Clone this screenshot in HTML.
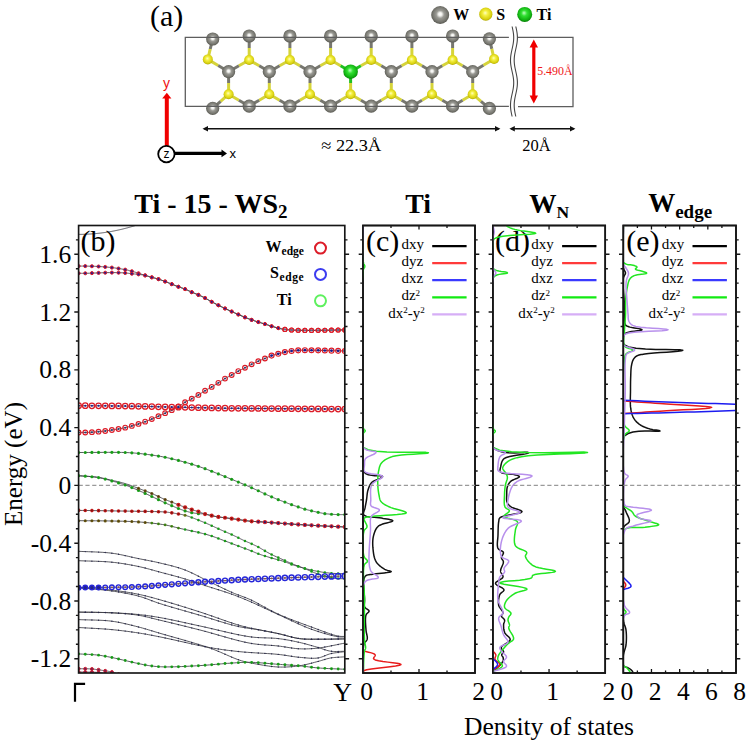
<!DOCTYPE html>
<html><head><meta charset="utf-8"><title>Ti-15-WS2 band structure and DOS</title>
<style>html,body{margin:0;padding:0;background:#fff;}svg{display:block;}</style>
</head><body>
<svg width="749" height="743" viewBox="0 0 749 743">
<defs>
<radialGradient id="gW" cx="50%" cy="48%" r="52%" fx="50%" fy="45%"><stop offset="0" stop-color="#ffffff"/><stop offset="0.18" stop-color="#f0f0ec"/><stop offset="0.42" stop-color="#9a9a94"/><stop offset="0.8" stop-color="#76766f"/><stop offset="1" stop-color="#56564f"/></radialGradient>
<radialGradient id="gS" cx="50%" cy="45%" r="55%" fx="45%" fy="40%"><stop offset="0" stop-color="#ffffc0"/><stop offset="0.35" stop-color="#f4f040"/><stop offset="0.8" stop-color="#d8d010"/><stop offset="1" stop-color="#b0a800"/></radialGradient>
<radialGradient id="gT" cx="50%" cy="45%" r="55%" fx="45%" fy="40%"><stop offset="0" stop-color="#c0ffc0"/><stop offset="0.35" stop-color="#30e030"/><stop offset="0.8" stop-color="#10b010"/><stop offset="1" stop-color="#088008"/></radialGradient>
<clipPath id="cB"><rect x="78.6" y="225.5" width="266.2" height="447.5"/></clipPath><clipPath id="c0"><rect x="363.0" y="225.5" width="112.0" height="447.5"/></clipPath><clipPath id="c1"><rect x="492.9" y="225.5" width="112.3" height="447.5"/></clipPath><clipPath id="c2"><rect x="623.3" y="225.5" width="112.7" height="447.5"/></clipPath></defs>
<rect width="749" height="743" fill="#fff"/>
<text x="150.00" y="26.30" font-family="'Liberation Serif', serif" font-size="30" font-weight="normal" text-anchor="start" fill="#000" >(a)</text>
<path d="M512.10,26.50 L512.32,27.50 L512.54,28.50 L512.75,29.50 L512.95,30.50 L513.13,31.50 L513.29,32.50 L513.43,33.50 L513.54,34.50 L513.62,35.50 L513.68,36.50 L513.70,37.50 L513.69,38.50 L513.65,39.50 L513.58,40.50 L513.49,41.50 L513.36,42.50 L513.21,43.50 L513.04,44.50 L512.85,45.50 L512.65,46.50 L512.43,47.50 L512.21,48.50 L511.99,49.50 L511.77,50.50 L511.55,51.50 L511.35,52.50 L511.16,53.50 L510.99,54.50 L510.84,55.50 L510.71,56.50 L510.62,57.50 L510.55,58.50 L510.51,59.50 L510.50,60.50 L510.52,61.50 L510.58,62.50 L510.66,63.50 L510.77,64.50 L510.91,65.50 L511.07,66.50 L511.25,67.50 L511.45,68.50 L511.66,69.50 L511.88,70.50 L512.10,71.50 L512.32,72.50 L512.54,73.50 L512.75,74.50 L512.95,75.50 L513.13,76.50 L513.29,77.50 L513.43,78.50 L513.54,79.50 L513.62,80.50 L513.68,81.50 L513.70,82.50 L513.69,83.50 L513.65,84.50 L513.58,85.50 L513.49,86.50 L513.36,87.50 L513.21,88.50 L513.04,89.50 L512.85,90.50 L512.65,91.50 L512.43,92.50 L512.21,93.50 L511.99,94.50 L511.77,95.50 L511.55,96.50 L511.35,97.50 L511.16,98.50 L510.99,99.50 L510.84,100.50 L510.71,101.50 L510.62,102.50 L510.55,103.50 L510.51,104.50 L510.50,105.50 L510.52,106.50 L510.58,107.50 L510.66,108.50 L510.77,109.50 L510.91,110.50 L511.07,111.50 L511.25,112.50 L511.45,113.50 L511.66,114.50 L511.88,115.50 L512.10,116.50" fill="none" stroke="#444" stroke-width="1.1"/>
<path d="M515.80,26.50 L516.02,27.50 L516.24,28.50 L516.45,29.50 L516.65,30.50 L516.83,31.50 L516.99,32.50 L517.13,33.50 L517.24,34.50 L517.32,35.50 L517.38,36.50 L517.40,37.50 L517.39,38.50 L517.35,39.50 L517.28,40.50 L517.19,41.50 L517.06,42.50 L516.91,43.50 L516.74,44.50 L516.55,45.50 L516.35,46.50 L516.13,47.50 L515.91,48.50 L515.69,49.50 L515.47,50.50 L515.25,51.50 L515.05,52.50 L514.86,53.50 L514.69,54.50 L514.54,55.50 L514.41,56.50 L514.32,57.50 L514.25,58.50 L514.21,59.50 L514.20,60.50 L514.22,61.50 L514.28,62.50 L514.36,63.50 L514.47,64.50 L514.61,65.50 L514.77,66.50 L514.95,67.50 L515.15,68.50 L515.36,69.50 L515.58,70.50 L515.80,71.50 L516.02,72.50 L516.24,73.50 L516.45,74.50 L516.65,75.50 L516.83,76.50 L516.99,77.50 L517.13,78.50 L517.24,79.50 L517.32,80.50 L517.38,81.50 L517.40,82.50 L517.39,83.50 L517.35,84.50 L517.28,85.50 L517.19,86.50 L517.06,87.50 L516.91,88.50 L516.74,89.50 L516.55,90.50 L516.35,91.50 L516.13,92.50 L515.91,93.50 L515.69,94.50 L515.47,95.50 L515.25,96.50 L515.05,97.50 L514.86,98.50 L514.69,99.50 L514.54,100.50 L514.41,101.50 L514.32,102.50 L514.25,103.50 L514.21,104.50 L514.20,105.50 L514.22,106.50 L514.28,107.50 L514.36,108.50 L514.47,109.50 L514.61,110.50 L514.77,111.50 L514.95,112.50 L515.15,113.50 L515.36,114.50 L515.58,115.50 L515.80,116.50" fill="none" stroke="#444" stroke-width="1.1"/>
<line x1="249.2" y1="36.0" x2="249.2" y2="48.0" stroke="#77776f" stroke-width="3"/>
<line x1="249.2" y1="48.0" x2="249.2" y2="60.0" stroke="#d6d43a" stroke-width="3"/>
<line x1="289.9" y1="36.0" x2="289.9" y2="48.0" stroke="#77776f" stroke-width="3"/>
<line x1="289.9" y1="48.0" x2="289.9" y2="60.0" stroke="#d6d43a" stroke-width="3"/>
<line x1="330.6" y1="36.0" x2="330.6" y2="48.0" stroke="#77776f" stroke-width="3"/>
<line x1="330.6" y1="48.0" x2="330.6" y2="60.0" stroke="#d6d43a" stroke-width="3"/>
<line x1="371.2" y1="36.0" x2="371.2" y2="48.0" stroke="#77776f" stroke-width="3"/>
<line x1="371.2" y1="48.0" x2="371.2" y2="60.0" stroke="#d6d43a" stroke-width="3"/>
<line x1="411.9" y1="36.0" x2="411.9" y2="48.0" stroke="#77776f" stroke-width="3"/>
<line x1="411.9" y1="48.0" x2="411.9" y2="60.0" stroke="#d6d43a" stroke-width="3"/>
<line x1="452.6" y1="36.0" x2="452.6" y2="48.0" stroke="#77776f" stroke-width="3"/>
<line x1="452.6" y1="48.0" x2="452.6" y2="60.0" stroke="#d6d43a" stroke-width="3"/>
<line x1="249.2" y1="60.0" x2="238.9" y2="65.8" stroke="#d6d43a" stroke-width="3"/>
<line x1="238.9" y1="65.8" x2="228.6" y2="71.7" stroke="#77776f" stroke-width="3"/>
<line x1="249.2" y1="60.0" x2="259.2" y2="65.8" stroke="#d6d43a" stroke-width="3"/>
<line x1="259.2" y1="65.8" x2="269.3" y2="71.7" stroke="#77776f" stroke-width="3"/>
<line x1="289.9" y1="60.0" x2="279.6" y2="65.8" stroke="#d6d43a" stroke-width="3"/>
<line x1="279.6" y1="65.8" x2="269.3" y2="71.7" stroke="#77776f" stroke-width="3"/>
<line x1="289.9" y1="60.0" x2="299.9" y2="65.8" stroke="#d6d43a" stroke-width="3"/>
<line x1="299.9" y1="65.8" x2="310.0" y2="71.7" stroke="#77776f" stroke-width="3"/>
<line x1="330.6" y1="60.0" x2="320.3" y2="65.8" stroke="#d6d43a" stroke-width="3"/>
<line x1="320.3" y1="65.8" x2="310.0" y2="71.7" stroke="#77776f" stroke-width="3"/>
<line x1="330.6" y1="60.0" x2="340.6" y2="65.8" stroke="#d6d43a" stroke-width="3"/>
<line x1="340.6" y1="65.8" x2="350.6" y2="71.7" stroke="#20c020" stroke-width="3"/>
<line x1="371.2" y1="60.0" x2="360.9" y2="65.8" stroke="#d6d43a" stroke-width="3"/>
<line x1="360.9" y1="65.8" x2="350.6" y2="71.7" stroke="#20c020" stroke-width="3"/>
<line x1="371.2" y1="60.0" x2="381.3" y2="65.8" stroke="#d6d43a" stroke-width="3"/>
<line x1="381.3" y1="65.8" x2="391.3" y2="71.7" stroke="#77776f" stroke-width="3"/>
<line x1="411.9" y1="60.0" x2="401.6" y2="65.8" stroke="#d6d43a" stroke-width="3"/>
<line x1="401.6" y1="65.8" x2="391.3" y2="71.7" stroke="#77776f" stroke-width="3"/>
<line x1="411.9" y1="60.0" x2="422.0" y2="65.8" stroke="#d6d43a" stroke-width="3"/>
<line x1="422.0" y1="65.8" x2="432.0" y2="71.7" stroke="#77776f" stroke-width="3"/>
<line x1="452.6" y1="60.0" x2="442.3" y2="65.8" stroke="#d6d43a" stroke-width="3"/>
<line x1="442.3" y1="65.8" x2="432.0" y2="71.7" stroke="#77776f" stroke-width="3"/>
<line x1="452.6" y1="60.0" x2="462.6" y2="65.8" stroke="#d6d43a" stroke-width="3"/>
<line x1="462.6" y1="65.8" x2="472.7" y2="71.7" stroke="#77776f" stroke-width="3"/>
<line x1="228.6" y1="71.7" x2="228.6" y2="83.0" stroke="#77776f" stroke-width="3"/>
<line x1="228.6" y1="83.0" x2="228.6" y2="94.2" stroke="#d6d43a" stroke-width="3"/>
<line x1="269.3" y1="71.7" x2="269.3" y2="83.0" stroke="#77776f" stroke-width="3"/>
<line x1="269.3" y1="83.0" x2="269.3" y2="94.2" stroke="#d6d43a" stroke-width="3"/>
<line x1="310.0" y1="71.7" x2="310.0" y2="83.0" stroke="#77776f" stroke-width="3"/>
<line x1="310.0" y1="83.0" x2="310.0" y2="94.2" stroke="#d6d43a" stroke-width="3"/>
<line x1="350.6" y1="71.7" x2="350.6" y2="83.0" stroke="#20c020" stroke-width="3"/>
<line x1="350.6" y1="83.0" x2="350.6" y2="94.2" stroke="#d6d43a" stroke-width="3"/>
<line x1="391.3" y1="71.7" x2="391.3" y2="83.0" stroke="#77776f" stroke-width="3"/>
<line x1="391.3" y1="83.0" x2="391.3" y2="94.2" stroke="#d6d43a" stroke-width="3"/>
<line x1="432.0" y1="71.7" x2="432.0" y2="83.0" stroke="#77776f" stroke-width="3"/>
<line x1="432.0" y1="83.0" x2="432.0" y2="94.2" stroke="#d6d43a" stroke-width="3"/>
<line x1="472.7" y1="71.7" x2="472.7" y2="83.0" stroke="#77776f" stroke-width="3"/>
<line x1="472.7" y1="83.0" x2="472.7" y2="94.2" stroke="#d6d43a" stroke-width="3"/>
<line x1="228.6" y1="94.2" x2="220.6" y2="101.3" stroke="#d6d43a" stroke-width="3"/>
<line x1="220.6" y1="101.3" x2="212.7" y2="108.4" stroke="#77776f" stroke-width="3"/>
<line x1="228.6" y1="94.2" x2="238.9" y2="100.2" stroke="#d6d43a" stroke-width="3"/>
<line x1="238.9" y1="100.2" x2="249.2" y2="106.2" stroke="#77776f" stroke-width="3"/>
<line x1="269.3" y1="94.2" x2="259.2" y2="100.2" stroke="#d6d43a" stroke-width="3"/>
<line x1="259.2" y1="100.2" x2="249.2" y2="106.2" stroke="#77776f" stroke-width="3"/>
<line x1="269.3" y1="94.2" x2="279.6" y2="100.2" stroke="#d6d43a" stroke-width="3"/>
<line x1="279.6" y1="100.2" x2="289.9" y2="106.2" stroke="#77776f" stroke-width="3"/>
<line x1="310.0" y1="94.2" x2="299.9" y2="100.2" stroke="#d6d43a" stroke-width="3"/>
<line x1="299.9" y1="100.2" x2="289.9" y2="106.2" stroke="#77776f" stroke-width="3"/>
<line x1="310.0" y1="94.2" x2="320.3" y2="100.2" stroke="#d6d43a" stroke-width="3"/>
<line x1="320.3" y1="100.2" x2="330.6" y2="106.2" stroke="#77776f" stroke-width="3"/>
<line x1="350.6" y1="94.2" x2="340.6" y2="100.2" stroke="#d6d43a" stroke-width="3"/>
<line x1="340.6" y1="100.2" x2="330.6" y2="106.2" stroke="#77776f" stroke-width="3"/>
<line x1="350.6" y1="94.2" x2="360.9" y2="100.2" stroke="#d6d43a" stroke-width="3"/>
<line x1="360.9" y1="100.2" x2="371.2" y2="106.2" stroke="#77776f" stroke-width="3"/>
<line x1="391.3" y1="94.2" x2="381.3" y2="100.2" stroke="#d6d43a" stroke-width="3"/>
<line x1="381.3" y1="100.2" x2="371.2" y2="106.2" stroke="#77776f" stroke-width="3"/>
<line x1="391.3" y1="94.2" x2="401.6" y2="100.2" stroke="#d6d43a" stroke-width="3"/>
<line x1="401.6" y1="100.2" x2="411.9" y2="106.2" stroke="#77776f" stroke-width="3"/>
<line x1="432.0" y1="94.2" x2="422.0" y2="100.2" stroke="#d6d43a" stroke-width="3"/>
<line x1="422.0" y1="100.2" x2="411.9" y2="106.2" stroke="#77776f" stroke-width="3"/>
<line x1="432.0" y1="94.2" x2="442.3" y2="100.2" stroke="#d6d43a" stroke-width="3"/>
<line x1="442.3" y1="100.2" x2="452.6" y2="106.2" stroke="#77776f" stroke-width="3"/>
<line x1="472.7" y1="94.2" x2="462.6" y2="100.2" stroke="#d6d43a" stroke-width="3"/>
<line x1="462.6" y1="100.2" x2="452.6" y2="106.2" stroke="#77776f" stroke-width="3"/>
<line x1="472.7" y1="94.2" x2="481.0" y2="101.3" stroke="#d6d43a" stroke-width="3"/>
<line x1="481.0" y1="101.3" x2="489.4" y2="108.4" stroke="#77776f" stroke-width="3"/>
<line x1="212.7" y1="39.0" x2="210.2" y2="49.2" stroke="#77776f" stroke-width="3"/>
<line x1="210.2" y1="49.2" x2="207.8" y2="59.4" stroke="#d6d43a" stroke-width="3"/>
<line x1="207.8" y1="59.4" x2="218.2" y2="65.5" stroke="#d6d43a" stroke-width="3"/>
<line x1="218.2" y1="65.5" x2="228.6" y2="71.7" stroke="#77776f" stroke-width="3"/>
<line x1="489.4" y1="38.8" x2="491.8" y2="48.9" stroke="#77776f" stroke-width="3"/>
<line x1="491.8" y1="48.9" x2="494.1" y2="59.0" stroke="#d6d43a" stroke-width="3"/>
<line x1="494.1" y1="59.0" x2="483.4" y2="65.3" stroke="#d6d43a" stroke-width="3"/>
<line x1="483.4" y1="65.3" x2="472.7" y2="71.7" stroke="#77776f" stroke-width="3"/>
<circle cx="249.2" cy="36.0" r="6.6" fill="url(#gW)"/>
<circle cx="289.9" cy="36.0" r="6.6" fill="url(#gW)"/>
<circle cx="330.6" cy="36.0" r="6.6" fill="url(#gW)"/>
<circle cx="371.2" cy="36.0" r="6.6" fill="url(#gW)"/>
<circle cx="411.9" cy="36.0" r="6.6" fill="url(#gW)"/>
<circle cx="452.6" cy="36.0" r="6.6" fill="url(#gW)"/>
<circle cx="212.7" cy="39.0" r="6.6" fill="url(#gW)"/>
<circle cx="489.4" cy="38.8" r="6.6" fill="url(#gW)"/>
<circle cx="249.2" cy="60.0" r="5.0" fill="url(#gS)"/>
<circle cx="289.9" cy="60.0" r="5.0" fill="url(#gS)"/>
<circle cx="330.6" cy="60.0" r="5.0" fill="url(#gS)"/>
<circle cx="371.2" cy="60.0" r="5.0" fill="url(#gS)"/>
<circle cx="411.9" cy="60.0" r="5.0" fill="url(#gS)"/>
<circle cx="452.6" cy="60.0" r="5.0" fill="url(#gS)"/>
<circle cx="207.8" cy="59.4" r="5.0" fill="url(#gS)"/>
<circle cx="494.1" cy="59.0" r="5.0" fill="url(#gS)"/>
<circle cx="228.6" cy="71.7" r="6.6" fill="url(#gW)"/>
<circle cx="269.3" cy="71.7" r="6.6" fill="url(#gW)"/>
<circle cx="310.0" cy="71.7" r="6.6" fill="url(#gW)"/>
<circle cx="350.6" cy="71.7" r="7.3" fill="url(#gT)"/>
<circle cx="391.3" cy="71.7" r="6.6" fill="url(#gW)"/>
<circle cx="432.0" cy="71.7" r="6.6" fill="url(#gW)"/>
<circle cx="472.7" cy="71.7" r="6.6" fill="url(#gW)"/>
<circle cx="228.6" cy="94.2" r="5.0" fill="url(#gS)"/>
<circle cx="269.3" cy="94.2" r="5.0" fill="url(#gS)"/>
<circle cx="310.0" cy="94.2" r="5.0" fill="url(#gS)"/>
<circle cx="350.6" cy="94.2" r="5.0" fill="url(#gS)"/>
<circle cx="391.3" cy="94.2" r="5.0" fill="url(#gS)"/>
<circle cx="432.0" cy="94.2" r="5.0" fill="url(#gS)"/>
<circle cx="472.7" cy="94.2" r="5.0" fill="url(#gS)"/>
<circle cx="249.2" cy="106.2" r="6.6" fill="url(#gW)"/>
<circle cx="289.9" cy="106.2" r="6.6" fill="url(#gW)"/>
<circle cx="330.6" cy="106.2" r="6.6" fill="url(#gW)"/>
<circle cx="371.2" cy="106.2" r="6.6" fill="url(#gW)"/>
<circle cx="411.9" cy="106.2" r="6.6" fill="url(#gW)"/>
<circle cx="452.6" cy="106.2" r="6.6" fill="url(#gW)"/>
<circle cx="212.7" cy="108.4" r="6.6" fill="url(#gW)"/>
<circle cx="489.4" cy="108.4" r="6.6" fill="url(#gW)"/>
<path d="M508.9,37.3 H185.3 V106.4 H508.9 M518,37.4 H573 V106.6 H518" fill="none" stroke="#5e5e5e" stroke-width="1.3"/>
<circle cx="440.2" cy="15" r="9" fill="url(#gW)"/>
<text x="453.30" y="20.00" font-family="'Liberation Serif', serif" font-size="16" font-weight="bold" text-anchor="start" fill="#000" >W</text>
<circle cx="485.8" cy="14.2" r="6.6" fill="url(#gS)"/>
<text x="496.30" y="20.00" font-family="'Liberation Serif', serif" font-size="16" font-weight="bold" text-anchor="start" fill="#000" >S</text>
<circle cx="524.7" cy="14.4" r="7.5" fill="url(#gT)"/>
<text x="536.50" y="20.00" font-family="'Liberation Serif', serif" font-size="16" font-weight="bold" text-anchor="start" fill="#000" >Ti</text>
<line x1="533.8" y1="46" x2="533.8" y2="97" stroke="#f00000" stroke-width="3.2"/>
<path d="M533.8,39.6 L529.6,47.5 L538,47.5 Z M533.8,103.4 L529.6,95.5 L538,95.5 Z" fill="#f00000"/>
<text x="537.20" y="74.60" font-family="'Liberation Serif', serif" font-size="12" font-weight="normal" text-anchor="start" fill="#f01818" textLength="35.4" lengthAdjust="spacingAndGlyphs">5.490Å</text>
<line x1="166.8" y1="146" x2="166.8" y2="98" stroke="#f00000" stroke-width="4"/>
<path d="M166.8,92.8 L162.2,98.6 L171.4,98.6 Z" fill="#f00000"/>
<text x="166.50" y="88.00" font-family="'Liberation Sans', sans-serif" font-size="14" font-weight="normal" text-anchor="middle" fill="#f01010" >y</text>
<circle cx="166.4" cy="154.1" r="8.2" fill="#fff" stroke="#000" stroke-width="1.8"/>
<text x="166.40" y="158.30" font-family="'Liberation Sans', sans-serif" font-size="12" font-weight="normal" text-anchor="middle" fill="#000" >z</text>
<line x1="174.6" y1="153.4" x2="223" y2="153.4" stroke="#000" stroke-width="3.4"/>
<path d="M227,153.4 L221.5,149.6 L221.5,157.2 Z" fill="#000"/>
<text x="229.60" y="157.60" font-family="'Liberation Sans', sans-serif" font-size="13" font-weight="normal" text-anchor="start" fill="#000" >x</text>
<line x1="204" y1="128.7" x2="499" y2="128.7" stroke="#111" stroke-width="1.5"/>
<path d="M202.5,128.7 L208,126 L208,131.4 Z M500.4,128.7 L495,126 L495,131.4 Z" fill="#111"/>
<line x1="511" y1="128.7" x2="574" y2="128.7" stroke="#111" stroke-width="1.5"/>
<path d="M509.4,128.7 L514.8,126 L514.8,131.4 Z M575.4,128.7 L570,126 L570,131.4 Z" fill="#111"/>
<text x="321.30" y="151.10" font-family="'Liberation Serif', serif" font-size="16.5" font-weight="normal" text-anchor="start" fill="#000" textLength="60" lengthAdjust="spacingAndGlyphs">≈ 22.3Å</text>
<text x="522.30" y="150.70" font-family="'Liberation Serif', serif" font-size="16.5" font-weight="normal" text-anchor="start" fill="#000" >20Å</text>
<text x="134.30" y="212.80" font-family="'Liberation Serif', serif" font-size="28" font-weight="bold" text-anchor="start" fill="#000" >Ti - 15 - WS<tspan font-size="19" dy="5">2</tspan></text>
<text x="405.30" y="212.60" font-family="'Liberation Serif', serif" font-size="27.8" font-weight="bold" text-anchor="start" fill="#000" >Ti</text>
<text x="529.30" y="212.60" font-family="'Liberation Serif', serif" font-size="27.3" font-weight="bold" text-anchor="start" fill="#000" >W<tspan font-size="17.5" dy="5.5">N</tspan></text>
<text x="648.20" y="212.40" font-family="'Liberation Serif', serif" font-size="27" font-weight="bold" text-anchor="start" fill="#000" >W<tspan font-size="19" dy="6">edge</tspan></text>
<g clip-path="url(#cB)">
<line x1="78.6" y1="485.3" x2="344.8" y2="485.3" stroke="#9a9a9a" stroke-width="1.3" stroke-dasharray="4.2,2.6"/>
<path d="M78.60,234.40 L79.25,234.39 L79.90,234.38 L80.55,234.37 L81.20,234.36 L81.85,234.36 L82.49,234.35 L83.14,234.34 L83.79,234.32 L84.44,234.30 L85.09,234.28 L85.74,234.26 L86.39,234.23 L87.04,234.20 L87.69,234.17 L88.34,234.14 L88.99,234.10 L89.64,234.06 L90.28,234.02 L90.93,233.98 L91.58,233.93 L92.23,233.89 L92.88,233.84 L93.53,233.78 L94.18,233.73 L94.83,233.67 L95.48,233.61 L96.13,233.55 L96.78,233.49 L97.42,233.42 L98.07,233.35 L98.72,233.28 L99.37,233.21 L100.02,233.13 L100.67,233.06 L101.32,232.98 L101.97,232.89 L102.62,232.81 L103.27,232.72 L103.92,232.63 L104.56,232.54 L105.21,232.45 L105.86,232.35 L106.51,232.25 L107.16,232.15 L107.81,232.04 L108.46,231.94 L109.11,231.83 L109.76,231.72 L110.41,231.61 L111.05,231.49 L111.70,231.38 L112.35,231.26 L113.00,231.13 L113.65,231.01 L114.30,230.88 L114.95,230.75 L115.60,230.62 L116.25,230.49 L116.90,230.35 L117.55,230.21 L118.20,230.07 L118.85,229.93 L119.50,229.78 L120.14,229.64 L120.79,229.49 L121.44,229.33 L122.09,229.18 L122.74,229.02 L123.39,228.86 L124.04,228.70 L124.69,228.54 L125.34,228.37 L125.99,228.20 L126.64,228.03 L127.29,227.86 L127.93,227.68 L128.58,227.50 L129.23,227.32 L129.88,227.14 L130.53,226.96 L131.18,226.77 L131.83,226.58 L132.48,226.39 L133.13,226.19 L133.78,226.00 L134.43,225.80 L135.07,225.60 L135.72,225.39 L136.37,225.19 L137.02,224.98 L137.67,224.77 L138.32,224.56 L138.97,224.34 L139.62,224.12 L140.27,223.90 L140.92,223.68 L141.57,223.46 L142.21,223.23 L142.86,223.00 L143.51,222.77 L144.16,222.54 L144.81,222.30 L145.46,222.06 L146.11,221.81 L146.76,221.56 L147.41,221.32 L148.05,221.07 L148.70,220.82 L149.35,220.57 L150.00,220.33" fill="none" stroke="#3c3c44" stroke-width="0.85"/>
<path d="M78.60,266.10 L79.25,266.10 L79.88,266.10 L80.51,266.09 L81.13,266.09 L81.76,266.09 L82.40,266.08 L83.05,266.08 L83.73,266.09 L84.45,266.09 L85.20,266.10 L86.34,266.12 L87.56,266.14 L88.85,266.16 L90.18,266.19 L91.56,266.23 L92.95,266.27 L94.36,266.31 L95.76,266.37 L97.15,266.43 L98.50,266.50 L99.85,266.58 L101.20,266.66 L102.55,266.75 L103.90,266.84 L105.25,266.94 L106.60,267.05 L107.96,267.17 L109.31,267.30 L110.65,267.45 L112.00,267.60 L113.37,267.77 L114.77,267.95 L116.19,268.15 L117.61,268.36 L119.02,268.58 L120.41,268.81 L121.76,269.03 L123.05,269.26 L124.27,269.48 L125.40,269.70 L126.13,269.85 L126.81,269.99 L127.46,270.13 L128.08,270.28 L128.68,270.42 L129.27,270.57 L129.86,270.72 L130.46,270.87 L131.07,271.03 L131.70,271.20 L132.40,271.39 L133.10,271.59 L133.82,271.79 L134.54,272.00 L135.26,272.21 L135.98,272.43 L136.69,272.64 L137.40,272.86 L138.11,273.08 L138.80,273.30 L139.45,273.51 L140.09,273.72 L140.72,273.93 L141.35,274.15 L141.98,274.36 L142.60,274.57 L143.22,274.79 L143.85,275.00 L144.47,275.20 L145.10,275.40 L145.72,275.59 L146.34,275.78 L146.95,275.96 L147.57,276.14 L148.18,276.32 L148.80,276.50 L149.42,276.67 L150.04,276.85 L150.67,277.02 L151.30,277.20 L151.97,277.38 L152.64,277.56 L153.32,277.73 L154.00,277.90 L154.69,278.07 L155.37,278.24 L156.06,278.42 L156.74,278.60 L157.42,278.80 L158.10,279.00 L158.78,279.22 L159.45,279.44 L160.12,279.67 L160.79,279.91 L161.46,280.15 L162.13,280.40 L162.80,280.65 L163.47,280.90 L164.13,281.15 L164.80,281.40 L165.46,281.65 L166.12,281.91 L166.78,282.16 L167.44,282.42 L168.10,282.68 L168.76,282.95 L169.42,283.21 L170.08,283.47 L170.74,283.74 L171.40,284.00 L172.08,284.27 L172.75,284.54 L173.43,284.82 L174.12,285.09 L174.80,285.37 L175.48,285.64 L176.16,285.91 L176.84,286.18 L177.52,286.44 L178.20,286.70 L178.86,286.94 L179.52,287.17 L180.18,287.39 L180.84,287.61 L181.50,287.83 L182.16,288.05 L182.82,288.27 L183.48,288.50 L184.14,288.74 L184.80,289.00 L185.48,289.28 L186.16,289.58 L186.84,289.89 L187.52,290.20 L188.20,290.53 L188.88,290.85 L189.56,291.17 L190.24,291.49 L190.92,291.80 L191.60,292.10 L192.26,292.38 L192.92,292.65 L193.58,292.92 L194.24,293.18 L194.90,293.44 L195.56,293.71 L196.22,293.97 L196.88,294.24 L197.54,294.51 L198.20,294.80 L198.88,295.10 L199.56,295.40 L200.25,295.71 L200.94,296.03 L201.62,296.34 L202.31,296.67 L202.99,296.99 L203.66,297.32 L204.34,297.66 L205.00,298.00 L205.63,298.34 L206.25,298.68 L206.85,299.02 L207.44,299.37 L208.03,299.72 L208.63,300.08 L209.25,300.45 L209.90,300.82 L210.58,301.21 L211.30,301.60 L212.38,302.18 L213.54,302.79 L214.77,303.42 L216.04,304.07 L217.34,304.73 L218.68,305.40 L220.02,306.06 L221.36,306.72 L222.69,307.37 L224.00,308.00 L225.31,308.62 L226.62,309.24 L227.94,309.85 L229.26,310.46 L230.58,311.07 L231.91,311.66 L233.24,312.26 L234.56,312.84 L235.88,313.43 L237.20,314.00 L238.48,314.56 L239.75,315.11 L241.02,315.66 L242.28,316.20 L243.55,316.74 L244.82,317.27 L246.09,317.79 L247.38,318.31 L248.68,318.81 L250.00,319.30 L251.41,319.80 L252.85,320.29 L254.31,320.78 L255.79,321.25 L257.27,321.71 L258.75,322.16 L260.21,322.61 L261.64,323.05 L263.04,323.48 L264.40,323.90 L265.53,324.26 L266.63,324.61 L267.72,324.96 L268.78,325.31 L269.83,325.65 L270.88,325.98 L271.91,326.30 L272.94,326.61 L273.97,326.91 L275.00,327.20 L275.95,327.46 L276.87,327.72 L277.78,327.96 L278.67,328.20 L279.57,328.44 L280.48,328.66 L281.41,328.86 L282.37,329.06 L283.36,329.24 L284.40,329.40 L285.79,329.58 L287.23,329.73 L288.72,329.85 L290.25,329.95 L291.82,330.04 L293.42,330.10 L295.05,330.16 L296.69,330.21 L298.34,330.25 L300.00,330.30 L301.89,330.35 L303.80,330.37 L305.75,330.39 L307.71,330.39 L309.70,330.39 L311.72,330.38 L313.76,330.36 L315.82,330.34 L317.90,330.32 L320.00,330.30 L322.39,330.28 L324.82,330.25 L327.30,330.21 L329.80,330.17 L332.33,330.13 L334.87,330.08 L337.41,330.03 L339.96,329.99 L342.49,329.94 L345.00,329.90" fill="none" stroke="#3c3c44" stroke-width="0.85"/>
<path d="M78.60,273.30 L79.24,273.30 L79.85,273.30 L80.44,273.31 L81.03,273.31 L81.62,273.31 L82.24,273.32 L82.89,273.32 L83.60,273.31 L84.36,273.31 L85.20,273.30 L87.19,273.26 L89.55,273.20 L92.20,273.11 L95.06,273.02 L98.05,272.92 L101.08,272.82 L104.07,272.73 L106.94,272.66 L109.61,272.61 L112.00,272.60 L113.55,272.61 L115.05,272.62 L116.52,272.64 L117.93,272.67 L119.30,272.71 L120.62,272.75 L121.89,272.80 L123.12,272.86 L124.28,272.93 L125.40,273.00 L126.12,273.06 L126.81,273.12 L127.45,273.19 L128.07,273.26 L128.67,273.33 L129.27,273.41 L129.86,273.48 L130.45,273.56 L131.07,273.63 L131.70,273.70 L132.39,273.77 L133.10,273.84 L133.81,273.90 L134.53,273.97 L135.25,274.03 L135.97,274.10 L136.69,274.16 L137.40,274.24 L138.11,274.32 L138.80,274.40 L139.45,274.48 L140.09,274.57 L140.72,274.65 L141.36,274.74 L141.98,274.83 L142.61,274.93 L143.23,275.03 L143.86,275.14 L144.48,275.27 L145.10,275.40 L145.72,275.55 L146.34,275.71 L146.96,275.88 L147.58,276.07 L148.19,276.25 L148.80,276.45 L149.42,276.64 L150.04,276.83 L150.67,277.02 L151.30,277.20 L151.97,277.38 L152.64,277.56 L153.32,277.73 L154.00,277.90 L154.69,278.07 L155.37,278.24 L156.06,278.42 L156.74,278.60 L157.42,278.80 L158.10,279.00 L158.78,279.22 L159.45,279.44 L160.12,279.67 L160.79,279.91 L161.46,280.15 L162.13,280.40 L162.80,280.65 L163.47,280.90 L164.13,281.15 L164.80,281.40 L165.46,281.65 L166.12,281.91 L166.78,282.16 L167.44,282.42 L168.10,282.68 L168.76,282.95 L169.42,283.21 L170.08,283.47 L170.74,283.74 L171.40,284.00 L172.08,284.27 L172.75,284.54 L173.43,284.82 L174.12,285.09 L174.80,285.37 L175.48,285.64 L176.16,285.91 L176.84,286.18 L177.52,286.44 L178.20,286.70 L178.86,286.94 L179.52,287.17 L180.18,287.39 L180.84,287.61 L181.50,287.83 L182.16,288.05 L182.82,288.27 L183.48,288.50 L184.14,288.74 L184.80,289.00 L185.48,289.28 L186.16,289.58 L186.84,289.89 L187.52,290.20 L188.20,290.53 L188.88,290.85 L189.56,291.17 L190.24,291.49 L190.92,291.80 L191.60,292.10 L192.26,292.38 L192.92,292.65 L193.58,292.92 L194.24,293.18 L194.90,293.44 L195.56,293.71 L196.22,293.97 L196.88,294.24 L197.54,294.51 L198.20,294.80 L198.88,295.10 L199.56,295.40 L200.25,295.71 L200.94,296.03 L201.62,296.34 L202.31,296.67 L202.99,296.99 L203.66,297.32 L204.34,297.66 L205.00,298.00 L205.63,298.34 L206.25,298.68 L206.85,299.02 L207.44,299.37 L208.03,299.72 L208.63,300.08 L209.25,300.45 L209.90,300.82 L210.58,301.21 L211.30,301.60 L212.38,302.18 L213.54,302.79 L214.77,303.42 L216.04,304.07 L217.34,304.73 L218.68,305.40 L220.02,306.06 L221.36,306.72 L222.69,307.37 L224.00,308.00 L225.31,308.62 L226.62,309.24 L227.94,309.85 L229.26,310.46 L230.58,311.07 L231.91,311.66 L233.24,312.26 L234.56,312.84 L235.88,313.43 L237.20,314.00 L238.48,314.56 L239.75,315.11 L241.02,315.66 L242.28,316.20 L243.55,316.74 L244.82,317.27 L246.09,317.79 L247.38,318.31 L248.68,318.81 L250.00,319.30 L251.41,319.80 L252.85,320.29 L254.31,320.78 L255.79,321.25 L257.27,321.71 L258.75,322.16 L260.21,322.61 L261.64,323.05 L263.04,323.48 L264.40,323.90 L265.53,324.26 L266.63,324.61 L267.72,324.96 L268.78,325.31 L269.83,325.65 L270.88,325.98 L271.91,326.30 L272.94,326.61 L273.97,326.91 L275.00,327.20 L275.95,327.46 L276.87,327.72 L277.78,327.96 L278.67,328.20 L279.57,328.44 L280.48,328.66 L281.41,328.86 L282.37,329.06 L283.36,329.24 L284.40,329.40 L285.79,329.58 L287.23,329.73 L288.72,329.85 L290.25,329.95 L291.82,330.04 L293.42,330.10 L295.05,330.16 L296.69,330.21 L298.34,330.25 L300.00,330.30 L301.89,330.35 L303.80,330.37 L305.75,330.39 L307.71,330.39 L309.70,330.39 L311.72,330.38 L313.76,330.36 L315.82,330.34 L317.90,330.32 L320.00,330.30 L322.39,330.28 L324.82,330.25 L327.30,330.21 L329.80,330.17 L332.33,330.13 L334.87,330.08 L337.41,330.03 L339.96,329.99 L342.49,329.94 L345.00,329.90" fill="none" stroke="#3c3c44" stroke-width="0.85"/>
<path d="M78.60,432.50 L79.20,432.50 L79.78,432.51 L80.35,432.51 L80.93,432.52 L81.50,432.53 L82.09,432.53 L82.69,432.53 L83.33,432.53 L83.99,432.52 L84.70,432.50 L85.84,432.46 L87.06,432.41 L88.37,432.36 L89.73,432.29 L91.13,432.21 L92.56,432.12 L93.99,432.03 L95.42,431.93 L96.83,431.82 L98.20,431.70 L99.54,431.58 L100.87,431.44 L102.20,431.30 L103.53,431.16 L104.86,431.00 L106.19,430.83 L107.51,430.66 L108.84,430.48 L110.17,430.30 L111.50,430.10 L112.84,429.90 L114.18,429.69 L115.53,429.48 L116.87,429.26 L118.21,429.03 L119.55,428.79 L120.89,428.54 L122.23,428.27 L123.57,427.99 L124.90,427.70 L126.24,427.39 L127.57,427.06 L128.91,426.72 L130.24,426.36 L131.57,426.00 L132.90,425.62 L134.23,425.23 L135.55,424.83 L136.88,424.42 L138.20,424.00 L139.54,423.57 L140.87,423.12 L142.21,422.67 L143.54,422.20 L144.87,421.73 L146.20,421.24 L147.53,420.75 L148.85,420.24 L150.18,419.73 L151.50,419.20 L152.86,418.64 L154.24,418.06 L155.65,417.44 L157.05,416.82 L158.44,416.19 L159.81,415.57 L161.15,414.96 L162.43,414.37 L163.65,413.82 L164.80,413.30 L165.56,412.96 L166.29,412.65 L166.98,412.35 L167.65,412.06 L168.30,411.78 L168.94,411.50 L169.57,411.21 L170.21,410.92 L170.85,410.62 L171.50,410.30 L172.18,409.96 L172.85,409.61 L173.53,409.25 L174.20,408.89 L174.87,408.52 L175.54,408.14 L176.21,407.76 L176.87,407.38 L177.54,406.99 L178.20,406.60 L178.87,406.20 L179.53,405.78 L180.19,405.36 L180.84,404.93 L181.50,404.49 L182.15,404.06 L182.81,403.63 L183.47,403.21 L184.13,402.80 L184.80,402.40 L185.46,402.02 L186.13,401.65 L186.80,401.28 L187.47,400.93 L188.14,400.57 L188.82,400.22 L189.49,399.87 L190.16,399.52 L190.83,399.16 L191.50,398.80 L192.16,398.44 L192.83,398.07 L193.49,397.71 L194.15,397.35 L194.81,396.98 L195.47,396.61 L196.13,396.24 L196.78,395.87 L197.44,395.49 L198.10,395.10 L198.77,394.70 L199.44,394.28 L200.11,393.86 L200.78,393.44 L201.45,393.01 L202.12,392.58 L202.79,392.15 L203.46,391.73 L204.13,391.31 L204.80,390.90 L205.47,390.50 L206.14,390.11 L206.81,389.71 L207.48,389.33 L208.15,388.94 L208.82,388.56 L209.49,388.17 L210.16,387.78 L210.83,387.39 L211.50,387.00 L212.16,386.61 L212.83,386.21 L213.49,385.81 L214.15,385.42 L214.81,385.02 L215.47,384.62 L216.13,384.22 L216.78,383.81 L217.44,383.41 L218.10,383.00 L218.76,382.58 L219.42,382.16 L220.08,381.74 L220.73,381.31 L221.39,380.88 L222.05,380.46 L222.71,380.03 L223.37,379.61 L224.03,379.20 L224.70,378.80 L225.36,378.41 L226.03,378.03 L226.70,377.66 L227.37,377.29 L228.04,376.93 L228.71,376.57 L229.38,376.21 L230.06,375.84 L230.73,375.47 L231.40,375.10 L232.08,374.71 L232.76,374.32 L233.44,373.93 L234.12,373.53 L234.80,373.13 L235.48,372.73 L236.16,372.34 L236.84,371.95 L237.52,371.57 L238.20,371.20 L238.85,370.85 L239.50,370.51 L240.15,370.18 L240.80,369.85 L241.45,369.53 L242.10,369.20 L242.75,368.88 L243.40,368.56 L244.05,368.23 L244.70,367.90 L245.36,367.56 L246.02,367.22 L246.67,366.88 L247.33,366.54 L247.99,366.19 L248.65,365.85 L249.31,365.51 L249.97,365.17 L250.64,364.83 L251.30,364.50 L251.97,364.17 L252.63,363.84 L253.30,363.51 L253.97,363.18 L254.64,362.86 L255.31,362.54 L255.98,362.22 L256.66,361.91 L257.33,361.60 L258.00,361.30 L258.66,361.01 L259.32,360.74 L259.98,360.46 L260.64,360.20 L261.30,359.93 L261.96,359.67 L262.62,359.41 L263.28,359.14 L263.94,358.87 L264.60,358.60 L265.27,358.31 L265.94,358.01 L266.60,357.71 L267.27,357.40 L267.94,357.09 L268.61,356.79 L269.28,356.50 L269.95,356.22 L270.63,355.95 L271.30,355.70 L271.96,355.48 L272.61,355.28 L273.27,355.08 L273.93,354.90 L274.60,354.73 L275.26,354.57 L275.92,354.40 L276.58,354.24 L277.24,354.07 L277.90,353.90 L278.55,353.72 L279.20,353.55 L279.85,353.37 L280.50,353.19 L281.15,353.01 L281.79,352.84 L282.44,352.67 L283.09,352.51 L283.75,352.35 L284.40,352.20 L285.06,352.06 L285.71,351.92 L286.37,351.78 L287.03,351.66 L287.69,351.53 L288.35,351.41 L289.01,351.30 L289.67,351.19 L290.34,351.09 L291.00,351.00 L291.67,350.91 L292.33,350.84 L293.00,350.76 L293.67,350.70 L294.34,350.64 L295.01,350.58 L295.69,350.53 L296.36,350.48 L297.03,350.44 L297.70,350.40 L298.36,350.36 L298.99,350.33 L299.62,350.30 L300.25,350.28 L300.87,350.26 L301.52,350.24 L302.18,350.23 L302.88,350.22 L303.62,350.21 L304.40,350.20 L305.68,350.19 L307.05,350.20 L308.49,350.21 L310.00,350.22 L311.57,350.25 L313.18,350.27 L314.85,350.30 L316.54,350.33 L318.26,350.37 L320.00,350.40 L322.26,350.44 L324.62,350.50 L327.07,350.55 L329.58,350.61 L332.13,350.68 L334.72,350.74 L337.32,350.81 L339.91,350.87 L342.47,350.94 L345.00,351.00" fill="none" stroke="#3c3c44" stroke-width="0.85"/>
<path d="M78.60,405.70 L82.73,405.73 L86.85,405.75 L90.97,405.77 L95.08,405.79 L99.19,405.82 L103.32,405.84 L107.45,405.87 L111.61,405.90 L115.79,405.95 L120.00,406.00 L124.40,406.06 L128.78,406.14 L133.17,406.22 L137.57,406.31 L142.00,406.40 L146.47,406.50 L150.99,406.59 L155.58,406.70 L160.25,406.80 L165.00,406.90 L170.68,407.02 L176.67,407.16 L182.86,407.31 L189.17,407.46 L195.49,407.61 L201.73,407.75 L207.80,407.89 L213.60,408.01 L219.03,408.12 L224.00,408.20 L226.99,408.24 L229.74,408.27 L232.31,408.30 L234.75,408.31 L237.13,408.33 L239.50,408.34 L241.91,408.35 L244.43,408.36 L247.11,408.38 L250.00,408.40 L254.36,408.43 L259.01,408.47 L263.89,408.51 L268.96,408.55 L274.15,408.60 L279.41,408.64 L284.68,408.68 L289.91,408.72 L295.03,408.76 L300.00,408.80 L304.60,408.83 L309.15,408.86 L313.67,408.90 L318.17,408.93 L322.65,408.95 L327.11,408.98 L331.57,409.01 L336.04,409.04 L340.51,409.07 L345.00,409.10" fill="none" stroke="#3c3c44" stroke-width="0.85"/>
<path d="M78.60,452.50 L83.36,452.49 L88.31,452.47 L93.37,452.43 L98.46,452.40 L103.50,452.36 L108.40,452.34 L113.07,452.34 L117.43,452.36 L121.40,452.41 L124.90,452.50 L126.56,452.56 L128.08,452.63 L129.48,452.70 L130.80,452.78 L132.06,452.87 L133.27,452.96 L134.47,453.06 L135.67,453.17 L136.91,453.28 L138.20,453.40 L139.53,453.53 L140.86,453.67 L142.19,453.81 L143.52,453.96 L144.85,454.12 L146.18,454.28 L147.51,454.45 L148.84,454.63 L150.17,454.81 L151.50,455.00 L152.83,455.19 L154.16,455.39 L155.49,455.59 L156.83,455.79 L158.16,456.00 L159.49,456.22 L160.81,456.45 L162.14,456.69 L163.47,456.94 L164.80,457.20 L166.14,457.48 L167.48,457.77 L168.83,458.07 L170.17,458.39 L171.51,458.71 L172.85,459.04 L174.19,459.37 L175.53,459.71 L176.86,460.06 L178.20,460.40 L179.54,460.75 L180.87,461.10 L182.20,461.45 L183.53,461.81 L184.86,462.17 L186.19,462.54 L187.52,462.92 L188.85,463.30 L190.18,463.70 L191.50,464.10 L192.84,464.52 L194.17,464.94 L195.50,465.37 L196.83,465.81 L198.16,466.26 L199.49,466.72 L200.82,467.18 L202.15,467.65 L203.48,468.12 L204.80,468.60 L206.13,469.09 L207.47,469.59 L208.80,470.11 L210.13,470.62 L211.46,471.15 L212.79,471.67 L214.12,472.21 L215.44,472.74 L216.77,473.27 L218.10,473.80 L219.43,474.33 L220.76,474.87 L222.09,475.40 L223.42,475.94 L224.75,476.48 L226.08,477.02 L227.41,477.57 L228.74,478.11 L230.07,478.66 L231.40,479.20 L232.73,479.74 L234.06,480.29 L235.40,480.83 L236.73,481.38 L238.07,481.92 L239.40,482.47 L240.73,483.02 L242.05,483.58 L243.38,484.14 L244.70,484.70 L246.03,485.27 L247.38,485.86 L248.75,486.47 L250.12,487.07 L251.48,487.68 L252.81,488.28 L254.12,488.87 L255.37,489.44 L256.57,489.98 L257.70,490.50 L258.47,490.86 L259.20,491.20 L259.90,491.53 L260.58,491.85 L261.24,492.16 L261.89,492.47 L262.53,492.78 L263.18,493.08 L263.83,493.39 L264.50,493.70 L265.17,494.01 L265.84,494.31 L266.51,494.62 L267.18,494.92 L267.85,495.22 L268.52,495.52 L269.19,495.82 L269.86,496.11 L270.53,496.41 L271.20,496.70 L271.86,496.99 L272.52,497.28 L273.18,497.56 L273.83,497.85 L274.49,498.13 L275.15,498.41 L275.81,498.69 L276.47,498.96 L277.13,499.23 L277.80,499.50 L278.47,499.76 L279.15,500.02 L279.83,500.27 L280.51,500.52 L281.19,500.76 L281.88,501.01 L282.56,501.25 L283.24,501.50 L283.92,501.75 L284.60,502.00 L285.27,502.26 L285.94,502.52 L286.61,502.78 L287.28,503.05 L287.95,503.31 L288.62,503.58 L289.28,503.84 L289.95,504.10 L290.63,504.35 L291.30,504.60 L291.98,504.84 L292.65,505.08 L293.34,505.31 L294.02,505.54 L294.70,505.77 L295.38,506.00 L296.06,506.22 L296.74,506.45 L297.42,506.67 L298.10,506.90 L298.76,507.12 L299.42,507.35 L300.08,507.58 L300.74,507.81 L301.40,508.03 L302.06,508.26 L302.72,508.48 L303.38,508.69 L304.04,508.90 L304.70,509.10 L305.36,509.29 L306.01,509.47 L306.67,509.65 L307.33,509.82 L307.99,509.99 L308.65,510.16 L309.31,510.32 L309.97,510.48 L310.64,510.64 L311.30,510.80 L311.97,510.96 L312.64,511.12 L313.31,511.27 L313.98,511.42 L314.65,511.57 L315.32,511.72 L315.99,511.87 L316.66,512.02 L317.33,512.16 L318.00,512.30 L318.66,512.44 L319.32,512.58 L319.98,512.73 L320.64,512.87 L321.31,513.00 L321.97,513.14 L322.62,513.27 L323.28,513.39 L323.94,513.50 L324.60,513.60 L325.24,513.69 L325.88,513.77 L326.52,513.84 L327.15,513.90 L327.79,513.95 L328.43,514.01 L329.07,514.06 L329.71,514.10 L330.35,514.15 L331.00,514.20 L331.67,514.25 L332.34,514.30 L333.02,514.35 L333.69,514.39 L334.37,514.44 L335.06,514.48 L335.74,514.52 L336.42,514.55 L337.11,514.58 L337.80,514.60 L338.51,514.62 L339.23,514.63 L339.94,514.63 L340.66,514.63 L341.39,514.63 L342.11,514.62 L342.83,514.61 L343.56,514.61 L344.28,514.60 L345.00,514.60" fill="none" stroke="#3c3c44" stroke-width="0.85"/>
<path d="M78.60,475.70 L80.56,475.85 L82.53,475.99 L84.53,476.12 L86.52,476.24 L88.51,476.37 L90.48,476.51 L92.43,476.67 L94.34,476.85 L96.20,477.06 L98.00,477.30 L99.49,477.54 L100.94,477.80 L102.36,478.08 L103.75,478.37 L105.13,478.68 L106.48,479.00 L107.83,479.33 L109.18,479.65 L110.54,479.98 L111.90,480.30 L113.24,480.61 L114.59,480.91 L115.92,481.22 L117.25,481.53 L118.58,481.84 L119.91,482.16 L121.24,482.49 L122.56,482.84 L123.88,483.21 L125.20,483.60 L126.54,484.02 L127.87,484.46 L129.21,484.92 L130.54,485.40 L131.87,485.89 L133.19,486.39 L134.52,486.89 L135.85,487.40 L137.17,487.90 L138.50,488.40 L139.83,488.89 L141.17,489.39 L142.50,489.88 L143.83,490.38 L145.17,490.88 L146.50,491.39 L147.83,491.90 L149.15,492.42 L150.48,492.95 L151.80,493.50 L153.15,494.08 L154.53,494.69 L155.92,495.33 L157.31,495.97 L158.70,496.62 L160.06,497.26 L161.38,497.88 L162.65,498.47 L163.86,499.01 L165.00,499.50 L165.74,499.80 L166.44,500.08 L167.11,500.35 L167.75,500.59 L168.38,500.83 L169.00,501.05 L169.61,501.28 L170.23,501.51 L170.86,501.75 L171.50,502.00 L172.17,502.26 L172.84,502.53 L173.50,502.80 L174.18,503.08 L174.85,503.35 L175.52,503.62 L176.19,503.90 L176.86,504.17 L177.53,504.44 L178.20,504.70 L178.86,504.96 L179.52,505.21 L180.18,505.47 L180.84,505.72 L181.50,505.97 L182.16,506.22 L182.82,506.46 L183.48,506.71 L184.14,506.96 L184.80,507.20 L185.47,507.45 L186.14,507.69 L186.80,507.94 L187.47,508.19 L188.14,508.44 L188.82,508.68 L189.49,508.92 L190.16,509.15 L190.83,509.38 L191.50,509.60 L192.16,509.81 L192.82,510.00 L193.48,510.19 L194.14,510.37 L194.80,510.54 L195.46,510.72 L196.12,510.90 L196.78,511.09 L197.44,511.29 L198.10,511.50 L198.77,511.73 L199.44,511.98 L200.11,512.24 L200.78,512.50 L201.44,512.77 L202.11,513.04 L202.78,513.30 L203.45,513.55 L204.12,513.78 L204.80,514.00 L205.47,514.20 L206.13,514.38 L206.80,514.55 L207.47,514.71 L208.15,514.87 L208.82,515.02 L209.49,515.17 L210.16,515.31 L210.83,515.46 L211.50,515.60 L212.15,515.74 L212.80,515.89 L213.45,516.03 L214.10,516.16 L214.75,516.30 L215.40,516.43 L216.05,516.56 L216.70,516.68 L217.35,516.79 L218.00,516.90 L218.66,517.00 L219.31,517.09 L219.97,517.17 L220.63,517.25 L221.29,517.33 L221.95,517.40 L222.61,517.47 L223.28,517.54 L223.94,517.62 L224.60,517.70 L225.27,517.79 L225.94,517.87 L226.61,517.96 L227.28,518.05 L227.95,518.14 L228.62,518.24 L229.29,518.33 L229.96,518.42 L230.63,518.51 L231.30,518.60 L231.97,518.69 L232.64,518.78 L233.31,518.87 L233.98,518.95 L234.65,519.04 L235.32,519.13 L235.99,519.22 L236.66,519.31 L237.33,519.41 L238.00,519.50 L238.66,519.60 L239.32,519.70 L239.98,519.80 L240.64,519.90 L241.30,520.01 L241.96,520.11 L242.62,520.21 L243.28,520.31 L243.94,520.41 L244.60,520.50 L245.26,520.59 L245.92,520.68 L246.58,520.77 L247.23,520.85 L247.89,520.93 L248.55,521.01 L249.22,521.09 L249.90,521.16 L250.59,521.23 L251.30,521.30 L252.10,521.37 L252.87,521.42 L253.63,521.47 L254.40,521.51 L255.19,521.55 L256.02,521.58 L256.90,521.63 L257.85,521.67 L258.88,521.73 L260.00,521.80 L262.77,521.98 L266.06,522.21 L269.78,522.48 L273.80,522.77 L278.02,523.08 L282.32,523.39 L286.59,523.70 L290.72,524.00 L294.59,524.27 L298.10,524.50 L300.53,524.66 L302.84,524.80 L305.07,524.94 L307.22,525.07 L309.33,525.20 L311.42,525.32 L313.51,525.44 L315.62,525.56 L317.78,525.68 L320.00,525.80 L322.43,525.93 L324.89,526.05 L327.38,526.17 L329.88,526.29 L332.40,526.41 L334.92,526.53 L337.45,526.65 L339.97,526.76 L342.49,526.88 L345.00,527.00" fill="none" stroke="#3c3c44" stroke-width="0.85"/>
<path d="M78.60,475.70 L80.56,475.87 L82.53,476.02 L84.53,476.17 L86.52,476.31 L88.51,476.45 L90.49,476.61 L92.43,476.79 L94.34,476.99 L96.20,477.23 L98.00,477.50 L99.51,477.77 L101.02,478.08 L102.51,478.41 L103.98,478.77 L105.42,479.13 L106.83,479.50 L108.18,479.87 L109.49,480.23 L110.73,480.58 L111.90,480.90 L112.67,481.11 L113.40,481.32 L114.09,481.52 L114.76,481.72 L115.41,481.91 L116.04,482.11 L116.67,482.30 L117.30,482.50 L117.94,482.70 L118.60,482.90 L119.25,483.10 L119.89,483.29 L120.52,483.48 L121.14,483.67 L121.77,483.86 L122.41,484.06 L123.06,484.27 L123.74,484.49 L124.45,484.73 L125.20,485.00 L126.35,485.42 L127.58,485.89 L128.86,486.39 L130.20,486.93 L131.58,487.48 L132.97,488.06 L134.38,488.64 L135.78,489.23 L137.15,489.82 L138.50,490.40 L139.84,490.98 L141.17,491.58 L142.50,492.18 L143.83,492.78 L145.16,493.40 L146.49,494.01 L147.82,494.63 L149.15,495.26 L150.47,495.88 L151.80,496.50 L153.14,497.13 L154.52,497.79 L155.91,498.46 L157.31,499.13 L158.69,499.81 L160.05,500.46 L161.38,501.10 L162.65,501.71 L163.86,502.28 L165.00,502.80 L165.74,503.13 L166.44,503.44 L167.11,503.74 L167.75,504.02 L168.38,504.28 L169.00,504.54 L169.61,504.80 L170.23,505.06 L170.86,505.33 L171.50,505.60 L172.17,505.88 L172.83,506.17 L173.50,506.45 L174.17,506.74 L174.84,507.02 L175.51,507.31 L176.19,507.59 L176.86,507.86 L177.53,508.13 L178.20,508.40 L178.86,508.66 L179.52,508.91 L180.17,509.16 L180.83,509.41 L181.49,509.66 L182.15,509.90 L182.81,510.13 L183.47,510.36 L184.13,510.59 L184.80,510.80 L185.46,511.01 L186.13,511.21 L186.80,511.41 L187.47,511.60 L188.14,511.79 L188.81,511.96 L189.48,512.14 L190.16,512.30 L190.83,512.45 L191.50,512.60 L192.16,512.73 L192.82,512.86 L193.48,512.97 L194.13,513.08 L194.79,513.18 L195.45,513.28 L196.11,513.37 L196.77,513.45 L197.44,513.53 L198.10,513.60 L198.77,513.66 L199.44,513.70 L200.11,513.73 L200.78,513.75 L201.45,513.76 L202.12,513.78 L202.79,513.81 L203.46,513.85 L204.13,513.92 L204.80,514.00 L205.47,514.11 L206.15,514.25 L206.82,514.40 L207.49,514.57 L208.16,514.74 L208.83,514.92 L209.50,515.10 L210.17,515.28 L210.83,515.45 L211.50,515.60 L212.15,515.74 L212.80,515.89 L213.45,516.03 L214.10,516.16 L214.75,516.30 L215.40,516.43 L216.05,516.56 L216.70,516.68 L217.35,516.79 L218.00,516.90 L218.66,517.00 L219.31,517.09 L219.97,517.17 L220.63,517.25 L221.29,517.33 L221.95,517.40 L222.61,517.47 L223.28,517.54 L223.94,517.62 L224.60,517.70 L225.27,517.79 L225.94,517.87 L226.61,517.96 L227.28,518.05 L227.95,518.14 L228.62,518.24 L229.29,518.33 L229.96,518.42 L230.63,518.51 L231.30,518.60 L231.97,518.69 L232.64,518.78 L233.31,518.87 L233.98,518.95 L234.65,519.04 L235.32,519.13 L235.99,519.22 L236.66,519.31 L237.33,519.41 L238.00,519.50 L238.66,519.60 L239.32,519.70 L239.98,519.80 L240.64,519.90 L241.30,520.01 L241.96,520.11 L242.62,520.21 L243.28,520.31 L243.94,520.41 L244.60,520.50 L245.26,520.59 L245.92,520.68 L246.58,520.77 L247.23,520.85 L247.89,520.93 L248.55,521.01 L249.22,521.09 L249.90,521.16 L250.59,521.23 L251.30,521.30 L252.10,521.37 L252.87,521.42 L253.63,521.47 L254.40,521.51 L255.19,521.55 L256.02,521.58 L256.90,521.63 L257.85,521.67 L258.88,521.73 L260.00,521.80 L262.77,521.98 L266.06,522.21 L269.78,522.48 L273.80,522.77 L278.02,523.08 L282.32,523.39 L286.59,523.70 L290.72,524.00 L294.59,524.27 L298.10,524.50 L300.53,524.66 L302.84,524.80 L305.07,524.94 L307.22,525.07 L309.33,525.20 L311.42,525.32 L313.51,525.44 L315.62,525.56 L317.78,525.68 L320.00,525.80 L322.43,525.93 L324.89,526.05 L327.38,526.17 L329.88,526.29 L332.40,526.41 L334.92,526.53 L337.45,526.65 L339.97,526.76 L342.49,526.88 L345.00,527.00" fill="none" stroke="#3c3c44" stroke-width="0.85"/>
<path d="M78.60,510.40 L82.73,510.46 L86.85,510.51 L90.97,510.57 L95.08,510.62 L99.19,510.68 L103.32,510.73 L107.45,510.79 L111.61,510.86 L115.79,510.93 L120.00,511.00 L124.61,511.08 L129.53,511.15 L134.64,511.22 L139.81,511.30 L144.91,511.38 L149.82,511.47 L154.42,511.57 L158.56,511.69 L162.13,511.83 L165.00,512.00 L165.89,512.07 L166.68,512.14 L167.38,512.21 L168.02,512.29 L168.61,512.37 L169.18,512.45 L169.73,512.53 L170.29,512.62 L170.87,512.71 L171.50,512.80 L172.17,512.90 L172.84,513.00 L173.51,513.10 L174.18,513.21 L174.85,513.32 L175.52,513.43 L176.19,513.55 L176.86,513.66 L177.53,513.78 L178.20,513.90 L178.86,514.02 L179.53,514.13 L180.19,514.25 L180.85,514.37 L181.51,514.48 L182.17,514.61 L182.83,514.74 L183.48,514.88 L184.14,515.04 L184.80,515.20 L185.47,515.38 L186.15,515.58 L186.82,515.78 L187.49,516.00 L188.16,516.22 L188.83,516.45 L189.50,516.68 L190.17,516.92 L190.84,517.16 L191.50,517.40 L192.16,517.64 L192.83,517.89 L193.49,518.15 L194.15,518.41 L194.81,518.67 L195.46,518.94 L196.12,519.20 L196.78,519.47 L197.44,519.74 L198.10,520.00 L198.77,520.27 L199.44,520.53 L200.11,520.80 L200.78,521.07 L201.45,521.33 L202.12,521.60 L202.79,521.87 L203.46,522.15 L204.13,522.42 L204.80,522.70 L205.47,522.98 L206.14,523.27 L206.82,523.55 L207.49,523.84 L208.16,524.13 L208.83,524.42 L209.50,524.71 L210.17,525.01 L210.84,525.30 L211.50,525.60 L212.16,525.90 L212.81,526.19 L213.46,526.49 L214.11,526.80 L214.75,527.10 L215.40,527.40 L216.05,527.70 L216.70,528.00 L217.35,528.30 L218.00,528.60 L218.66,528.89 L219.31,529.19 L219.97,529.48 L220.63,529.77 L221.29,530.06 L221.95,530.35 L222.61,530.63 L223.28,530.92 L223.94,531.21 L224.60,531.50 L225.27,531.79 L225.94,532.08 L226.61,532.36 L227.28,532.65 L227.95,532.93 L228.62,533.22 L229.29,533.51 L229.96,533.80 L230.63,534.10 L231.30,534.40 L231.97,534.71 L232.64,535.02 L233.32,535.34 L233.99,535.66 L234.66,535.98 L235.33,536.31 L236.00,536.63 L236.66,536.95 L237.33,537.28 L238.00,537.60 L238.66,537.92 L239.32,538.24 L239.98,538.57 L240.64,538.89 L241.30,539.22 L241.95,539.54 L242.61,539.86 L243.27,540.18 L243.94,540.49 L244.60,540.80 L245.27,541.10 L245.93,541.39 L246.60,541.68 L247.27,541.97 L247.95,542.25 L248.62,542.53 L249.29,542.82 L249.96,543.11 L250.63,543.40 L251.30,543.70 L251.96,544.00 L252.61,544.30 L253.25,544.59 L253.89,544.88 L254.53,545.18 L255.19,545.49 L255.85,545.81 L256.54,546.15 L257.25,546.51 L258.00,546.90 L259.10,547.49 L260.25,548.14 L261.44,548.83 L262.68,549.56 L263.95,550.31 L265.25,551.08 L266.56,551.84 L267.87,552.59 L269.19,553.31 L270.50,554.00 L271.89,554.69 L273.33,555.38 L274.82,556.07 L276.32,556.75 L277.82,557.42 L279.30,558.07 L280.74,558.70 L282.11,559.30 L283.41,559.87 L284.60,560.40 L285.33,560.73 L286.00,561.05 L286.63,561.34 L287.23,561.62 L287.81,561.89 L288.39,562.16 L288.99,562.43 L289.61,562.71 L290.28,563.00 L291.00,563.30 L292.09,563.75 L293.26,564.23 L294.49,564.73 L295.77,565.23 L297.08,565.75 L298.42,566.25 L299.77,566.75 L301.13,567.23 L302.48,567.68 L303.80,568.10 L305.12,568.49 L306.46,568.87 L307.80,569.22 L309.15,569.56 L310.50,569.88 L311.86,570.19 L313.22,570.49 L314.58,570.77 L315.94,571.04 L317.30,571.30 L318.64,571.55 L319.99,571.78 L321.33,572.00 L322.67,572.21 L324.02,572.41 L325.37,572.59 L326.72,572.77 L328.07,572.92 L329.43,573.07 L330.80,573.20 L332.20,573.31 L333.61,573.41 L335.03,573.48 L336.45,573.54 L337.87,573.58 L339.30,573.62 L340.73,573.66 L342.15,573.70 L343.58,573.75 L345.00,573.80" fill="none" stroke="#3c3c44" stroke-width="0.85"/>
<path d="M78.60,520.70 L81.95,520.73 L85.32,520.75 L88.71,520.77 L92.10,520.78 L95.48,520.80 L98.85,520.83 L102.19,520.86 L105.48,520.89 L108.72,520.94 L111.90,521.00 L114.68,521.06 L117.41,521.11 L120.10,521.16 L122.76,521.22 L125.39,521.28 L128.01,521.36 L130.62,521.46 L133.24,521.58 L135.86,521.72 L138.50,521.90 L141.19,522.11 L143.93,522.34 L146.70,522.59 L149.48,522.86 L152.24,523.15 L154.96,523.47 L157.62,523.80 L160.19,524.15 L162.66,524.52 L165.00,524.90 L166.67,525.21 L168.25,525.53 L169.76,525.86 L171.21,526.21 L172.64,526.57 L174.06,526.93 L175.48,527.30 L176.93,527.66 L178.43,528.03 L180.00,528.40 L181.91,528.83 L183.90,529.26 L185.96,529.70 L188.06,530.14 L190.17,530.59 L192.26,531.04 L194.32,531.49 L196.31,531.93 L198.21,532.37 L200.00,532.80 L201.28,533.12 L202.50,533.43 L203.67,533.73 L204.81,534.03 L205.92,534.33 L207.01,534.64 L208.11,534.96 L209.21,535.29 L210.34,535.63 L211.50,536.00 L212.78,536.42 L214.07,536.87 L215.38,537.33 L216.68,537.81 L218.00,538.30 L219.32,538.80 L220.64,539.30 L221.96,539.80 L223.28,540.30 L224.60,540.80 L225.94,541.30 L227.27,541.81 L228.61,542.32 L229.95,542.83 L231.29,543.34 L232.64,543.85 L233.98,544.37 L235.32,544.88 L236.66,545.39 L238.00,545.90 L239.35,546.41 L240.74,546.93 L242.14,547.45 L243.54,547.97 L244.94,548.48 L246.31,548.99 L247.65,549.50 L248.93,549.98 L250.16,550.45 L251.30,550.90 L252.06,551.21 L252.76,551.50 L253.41,551.78 L254.05,552.06 L254.66,552.33 L255.28,552.60 L255.91,552.87 L256.56,553.14 L257.25,553.42 L258.00,553.70 L259.06,554.08 L260.18,554.47 L261.35,554.86 L262.56,555.25 L263.80,555.64 L265.06,556.04 L266.34,556.43 L267.63,556.82 L268.92,557.21 L270.20,557.60 L271.62,558.02 L273.09,558.44 L274.61,558.85 L276.15,559.27 L277.69,559.69 L279.20,560.10 L280.67,560.51 L282.08,560.91 L283.39,561.31 L284.60,561.70 L285.34,561.96 L286.02,562.21 L286.65,562.46 L287.24,562.70 L287.83,562.94 L288.40,563.18 L289.00,563.43 L289.62,563.68 L290.28,563.94 L291.00,564.20 L292.10,564.58 L293.27,564.96 L294.51,565.34 L295.79,565.73 L297.11,566.13 L298.45,566.54 L299.81,566.96 L301.16,567.39 L302.49,567.84 L303.80,568.30 L305.14,568.81 L306.48,569.34 L307.83,569.91 L309.18,570.48 L310.52,571.07 L311.87,571.65 L313.23,572.22 L314.58,572.78 L315.94,573.31 L317.30,573.80 L318.64,574.26 L319.97,574.72 L321.31,575.16 L322.65,575.59 L324.00,576.01 L325.35,576.40 L326.70,576.77 L328.06,577.11 L329.42,577.42 L330.80,577.70 L332.20,577.94 L333.60,578.13 L335.02,578.28 L336.44,578.41 L337.86,578.51 L339.29,578.61 L340.72,578.69 L342.15,578.78 L343.58,578.88 L345.00,579.00" fill="none" stroke="#3c3c44" stroke-width="0.85"/>
<path d="M78.60,551.30 L81.95,551.47 L85.32,551.61 L88.72,551.73 L92.11,551.85 L95.50,551.98 L98.87,552.13 L102.20,552.31 L105.50,552.55 L108.73,552.84 L111.90,553.20 L114.70,553.60 L117.47,554.06 L120.21,554.58 L122.91,555.13 L125.58,555.71 L128.22,556.31 L130.83,556.91 L133.41,557.50 L135.97,558.07 L138.50,558.60 L140.74,559.05 L142.93,559.48 L145.08,559.89 L147.21,560.30 L149.33,560.71 L151.43,561.13 L153.54,561.56 L155.67,562.01 L157.82,562.49 L160.00,563.00 L162.37,563.57 L164.77,564.14 L167.19,564.72 L169.63,565.32 L172.07,565.95 L174.52,566.61 L176.96,567.30 L179.39,568.05 L181.81,568.84 L184.20,569.70 L186.65,570.66 L189.09,571.70 L191.52,572.81 L193.94,573.96 L196.35,575.16 L198.76,576.38 L201.17,577.60 L203.57,578.83 L205.98,580.03 L208.40,581.20 L210.84,582.37 L213.30,583.56 L215.78,584.77 L218.26,585.98 L220.73,587.18 L223.18,588.36 L225.61,589.52 L227.99,590.63 L230.33,591.70 L232.60,592.70 L234.43,593.47 L236.18,594.16 L237.89,594.81 L239.57,595.42 L241.23,596.02 L242.90,596.63 L244.59,597.26 L246.33,597.94 L248.12,598.68 L250.00,599.50 L252.55,600.71 L255.20,602.04 L257.91,603.48 L260.70,604.99 L263.54,606.55 L266.42,608.12 L269.34,609.69 L272.28,611.23 L275.24,612.71 L278.20,614.10 L281.35,615.49 L284.57,616.85 L287.85,618.19 L291.16,619.50 L294.49,620.78 L297.82,622.04 L301.14,623.27 L304.42,624.47 L307.64,625.65 L310.80,626.80 L313.66,627.86 L316.60,628.95 L319.57,630.06 L322.53,631.16 L325.43,632.21 L328.25,633.21 L330.92,634.11 L333.42,634.89 L335.69,635.53 L337.70,636.00 L338.60,636.16 L339.43,636.28 L340.20,636.36 L340.93,636.40 L341.62,636.43 L342.29,636.43 L342.94,636.44 L343.61,636.44 L344.29,636.46 L345.00,636.50" fill="none" stroke="#3c3c44" stroke-width="0.85"/>
<path d="M78.60,560.70 L81.95,560.83 L85.32,560.94 L88.71,561.04 L92.11,561.13 L95.49,561.23 L98.86,561.35 L102.20,561.50 L105.49,561.68 L108.73,561.91 L111.90,562.20 L114.70,562.51 L117.47,562.85 L120.21,563.22 L122.91,563.62 L125.59,564.05 L128.23,564.50 L130.84,564.98 L133.43,565.47 L135.98,565.98 L138.50,566.50 L140.75,566.99 L142.94,567.51 L145.10,568.04 L147.22,568.60 L149.33,569.16 L151.43,569.74 L153.54,570.33 L155.66,570.92 L157.81,571.51 L160.00,572.10 L162.36,572.73 L164.75,573.36 L167.16,573.99 L169.59,574.63 L172.02,575.28 L174.47,575.94 L176.91,576.61 L179.35,577.29 L181.78,577.99 L184.20,578.70 L186.63,579.44 L189.05,580.20 L191.47,580.98 L193.89,581.77 L196.31,582.57 L198.73,583.38 L201.15,584.19 L203.56,585.00 L205.98,585.80 L208.40,586.60 L210.84,587.39 L213.31,588.18 L215.79,588.96 L218.28,589.75 L220.76,590.53 L223.22,591.32 L225.65,592.11 L228.03,592.90 L230.35,593.70 L232.60,594.50 L234.45,595.18 L236.22,595.84 L237.92,596.50 L239.59,597.16 L241.25,597.82 L242.91,598.49 L244.59,599.19 L246.32,599.92 L248.11,600.69 L250.00,601.50 L252.55,602.62 L255.19,603.80 L257.91,605.05 L260.71,606.35 L263.56,607.69 L266.45,609.05 L269.38,610.42 L272.32,611.80 L275.26,613.16 L278.20,614.50 L281.37,615.95 L284.60,617.46 L287.87,619.00 L291.18,620.55 L294.49,622.10 L297.81,623.62 L301.12,625.08 L304.39,626.48 L307.62,627.80 L310.80,629.00 L313.64,630.01 L316.57,631.00 L319.53,631.96 L322.49,632.88 L325.41,633.74 L328.23,634.53 L330.92,635.23 L333.42,635.84 L335.69,636.33 L337.70,636.70 L338.61,636.83 L339.44,636.92 L340.21,636.97 L340.93,637.00 L341.62,637.00 L342.29,637.00 L342.95,636.99 L343.61,636.98 L344.29,636.98 L345.00,637.00" fill="none" stroke="#3c3c44" stroke-width="0.85"/>
<path d="M78.60,587.70 L81.95,587.66 L85.32,587.62 L88.71,587.59 L92.10,587.55 L95.48,587.51 L98.85,587.47 L102.18,587.43 L105.48,587.39 L108.72,587.35 L111.90,587.30 L114.68,587.26 L117.41,587.23 L120.11,587.21 L122.76,587.18 L125.40,587.15 L128.02,587.12 L130.63,587.07 L133.24,587.00 L135.86,586.91 L138.50,586.80 L141.15,586.66 L143.83,586.49 L146.52,586.30 L149.21,586.09 L151.89,585.87 L154.55,585.65 L157.18,585.43 L159.77,585.20 L162.32,584.99 L164.80,584.80 L166.91,584.64 L168.97,584.49 L171.00,584.33 L173.00,584.18 L174.97,584.04 L176.93,583.89 L178.89,583.74 L180.84,583.60 L182.81,583.45 L184.80,583.30 L186.80,583.15 L188.80,583.00 L190.80,582.84 L192.80,582.69 L194.80,582.53 L196.80,582.38 L198.80,582.23 L200.80,582.08 L202.80,581.94 L204.80,581.80 L206.80,581.67 L208.80,581.54 L210.80,581.41 L212.80,581.29 L214.80,581.18 L216.80,581.06 L218.80,580.94 L220.80,580.83 L222.80,580.71 L224.80,580.60 L226.75,580.49 L228.65,580.37 L230.51,580.26 L232.37,580.16 L234.23,580.05 L236.15,579.94 L238.12,579.83 L240.19,579.72 L242.37,579.61 L244.70,579.50 L248.57,579.32 L252.78,579.14 L257.28,578.96 L262.00,578.77 L266.86,578.58 L271.81,578.40 L276.76,578.21 L281.66,578.04 L286.42,577.86 L291.00,577.70 L295.19,577.55 L299.47,577.40 L303.79,577.26 L308.10,577.12 L312.34,576.98 L316.47,576.85 L320.43,576.72 L324.17,576.60 L327.65,576.50 L330.80,576.40 L332.51,576.35 L334.10,576.30 L335.59,576.26 L337.00,576.22 L338.35,576.18 L339.66,576.15 L340.97,576.11 L342.27,576.08 L343.61,576.04 L345.00,576.00" fill="none" stroke="#3c3c44" stroke-width="0.85"/>
<path d="M78.60,587.70 L81.95,587.93 L85.32,588.14 L88.71,588.34 L92.11,588.54 L95.49,588.75 L98.86,588.97 L102.20,589.20 L105.49,589.47 L108.73,589.76 L111.90,590.10 L114.70,590.43 L117.47,590.78 L120.21,591.16 L122.91,591.55 L125.59,591.96 L128.23,592.39 L130.84,592.84 L133.43,593.30 L135.98,593.79 L138.50,594.30 L140.72,594.77 L142.86,595.25 L144.93,595.74 L146.97,596.25 L149.01,596.77 L151.06,597.32 L153.16,597.89 L155.33,598.49 L157.60,599.13 L160.00,599.80 L163.51,600.80 L167.23,601.88 L171.11,603.03 L175.14,604.23 L179.25,605.49 L183.43,606.77 L187.63,608.08 L191.82,609.39 L195.95,610.71 L200.00,612.00 L204.07,613.34 L208.23,614.75 L212.43,616.22 L216.65,617.71 L220.84,619.19 L224.97,620.64 L228.98,622.02 L232.86,623.31 L236.54,624.48 L240.00,625.50 L242.27,626.12 L244.43,626.67 L246.50,627.17 L248.51,627.63 L250.46,628.05 L252.37,628.45 L254.27,628.83 L256.16,629.21 L258.07,629.60 L260.00,630.00 L261.85,630.38 L263.67,630.75 L265.48,631.10 L267.28,631.44 L269.07,631.78 L270.86,632.12 L272.67,632.47 L274.49,632.83 L276.33,633.20 L278.20,633.60 L280.26,634.07 L282.34,634.60 L284.45,635.16 L286.57,635.73 L288.71,636.31 L290.85,636.87 L292.99,637.39 L295.14,637.87 L297.27,638.27 L299.40,638.60 L301.45,638.83 L303.49,639.00 L305.52,639.12 L307.55,639.18 L309.58,639.21 L311.62,639.22 L313.67,639.21 L315.75,639.20 L317.86,639.19 L320.00,639.20 L322.40,639.21 L324.84,639.20 L327.32,639.18 L329.83,639.15 L332.35,639.11 L334.88,639.07 L337.42,639.02 L339.96,638.98 L342.49,638.93 L345.00,638.90" fill="none" stroke="#3c3c44" stroke-width="0.85"/>
<path d="M78.60,587.70 L81.95,588.02 L85.32,588.32 L88.71,588.61 L92.11,588.90 L95.50,589.19 L98.86,589.50 L102.20,589.83 L105.49,590.18 L108.73,590.57 L111.90,591.00 L114.70,591.41 L117.48,591.84 L120.22,592.28 L122.93,592.74 L125.60,593.22 L128.25,593.73 L130.86,594.27 L133.44,594.84 L135.99,595.45 L138.50,596.10 L140.73,596.74 L142.87,597.41 L144.94,598.12 L146.97,598.86 L148.99,599.62 L151.04,600.40 L153.13,601.19 L155.31,601.99 L157.58,602.80 L160.00,603.60 L163.50,604.70 L167.22,605.83 L171.13,606.99 L175.17,608.17 L179.32,609.36 L183.51,610.56 L187.72,611.76 L191.90,612.95 L196.01,614.14 L200.00,615.30 L203.79,616.43 L207.61,617.61 L211.44,618.81 L215.26,620.01 L219.06,621.19 L222.80,622.34 L226.48,623.44 L230.07,624.46 L233.55,625.39 L236.90,626.20 L239.42,626.75 L241.88,627.22 L244.28,627.63 L246.63,628.00 L248.94,628.34 L251.20,628.66 L253.43,628.97 L255.64,629.29 L257.83,629.63 L260.00,630.00 L261.90,630.35 L263.76,630.69 L265.58,631.03 L267.38,631.38 L269.16,631.73 L270.93,632.08 L272.71,632.44 L274.51,632.81 L276.34,633.20 L278.20,633.60 L280.26,634.07 L282.34,634.60 L284.45,635.16 L286.57,635.73 L288.71,636.31 L290.85,636.87 L292.99,637.39 L295.14,637.87 L297.27,638.27 L299.40,638.60 L301.45,638.83 L303.49,639.00 L305.52,639.12 L307.55,639.18 L309.58,639.21 L311.62,639.22 L313.67,639.21 L315.75,639.20 L317.86,639.19 L320.00,639.20 L322.40,639.21 L324.84,639.20 L327.32,639.18 L329.83,639.15 L332.35,639.11 L334.88,639.07 L337.42,639.02 L339.96,638.98 L342.49,638.93 L345.00,638.90" fill="none" stroke="#3c3c44" stroke-width="0.85"/>
<path d="M78.60,612.10 L81.93,612.16 L85.28,612.22 L88.65,612.27 L92.02,612.32 L95.39,612.37 L98.73,612.43 L102.05,612.50 L105.32,612.58 L108.54,612.68 L111.70,612.80 L114.47,612.92 L117.21,613.05 L119.92,613.18 L122.60,613.32 L125.25,613.48 L127.87,613.64 L130.46,613.83 L133.03,614.03 L135.58,614.25 L138.10,614.50 L140.35,614.74 L142.51,614.98 L144.63,615.24 L146.71,615.51 L148.79,615.79 L150.88,616.10 L153.03,616.43 L155.25,616.79 L157.56,617.18 L160.00,617.60 L163.50,618.24 L167.17,618.95 L170.99,619.73 L174.94,620.56 L178.99,621.42 L183.12,622.32 L187.30,623.24 L191.53,624.17 L195.77,625.09 L200.00,626.00 L204.84,627.06 L209.87,628.22 L215.03,629.43 L220.26,630.67 L225.52,631.91 L230.73,633.10 L235.84,634.22 L240.80,635.23 L245.54,636.10 L250.00,636.80 L253.15,637.18 L256.20,637.46 L259.15,637.64 L262.03,637.77 L264.84,637.86 L267.59,637.94 L270.29,638.03 L272.95,638.15 L275.58,638.33 L278.20,638.60 L280.46,638.89 L282.67,639.20 L284.85,639.54 L286.99,639.90 L289.11,640.27 L291.20,640.67 L293.26,641.08 L295.32,641.51 L297.36,641.95 L299.40,642.40 L301.32,642.85 L303.23,643.32 L305.14,643.81 L307.03,644.32 L308.90,644.84 L310.76,645.37 L312.58,645.89 L314.36,646.41 L316.10,646.91 L317.80,647.40 L319.17,647.81 L320.49,648.24 L321.78,648.68 L323.04,649.12 L324.28,649.55 L325.52,649.96 L326.76,650.34 L328.01,650.68 L329.29,650.97 L330.60,651.20 L331.99,651.37 L333.41,651.47 L334.84,651.52 L336.28,651.52 L337.73,651.49 L339.19,651.45 L340.64,651.39 L342.10,651.34 L343.55,651.31 L345.00,651.30" fill="none" stroke="#3c3c44" stroke-width="0.85"/>
<path d="M78.60,612.10 L81.93,612.16 L85.28,612.21 L88.65,612.24 L92.02,612.28 L95.39,612.32 L98.73,612.37 L102.05,612.44 L105.32,612.53 L108.54,612.65 L111.70,612.80 L114.48,612.96 L117.22,613.12 L119.93,613.30 L122.61,613.49 L125.26,613.70 L127.88,613.93 L130.48,614.20 L133.04,614.49 L135.58,614.82 L138.10,615.20 L140.35,615.58 L142.52,616.00 L144.63,616.44 L146.71,616.92 L148.79,617.41 L150.88,617.93 L153.03,618.48 L155.24,619.04 L157.56,619.61 L160.00,620.20 L163.50,621.03 L167.17,621.91 L170.99,622.82 L174.93,623.78 L178.98,624.77 L183.11,625.78 L187.30,626.81 L191.53,627.86 L195.77,628.93 L200.00,630.00 L204.84,631.27 L209.87,632.66 L215.03,634.13 L220.26,635.63 L225.51,637.13 L230.72,638.59 L235.83,639.96 L240.79,641.22 L245.53,642.31 L250.00,643.20 L253.14,643.72 L256.18,644.13 L259.14,644.46 L262.01,644.73 L264.82,644.94 L267.57,645.13 L270.27,645.31 L272.94,645.51 L275.58,645.73 L278.20,646.00 L280.45,646.28 L282.66,646.60 L284.83,646.93 L286.97,647.27 L289.08,647.61 L291.17,647.93 L293.24,648.22 L295.30,648.47 L297.35,648.67 L299.40,648.80 L301.27,648.87 L303.10,648.91 L304.90,648.92 L306.68,648.89 L308.46,648.84 L310.25,648.75 L312.07,648.63 L313.92,648.49 L315.83,648.31 L317.80,648.10 L320.31,647.78 L322.91,647.39 L325.58,646.94 L328.31,646.43 L331.08,645.89 L333.87,645.32 L336.68,644.74 L339.48,644.17 L342.26,643.62 L345.00,643.10" fill="none" stroke="#3c3c44" stroke-width="0.85"/>
<path d="M78.60,619.60 L81.93,619.74 L85.28,619.84 L88.66,619.92 L92.03,620.00 L95.40,620.09 L98.75,620.20 L102.07,620.36 L105.34,620.56 L108.55,620.84 L111.70,621.20 L114.49,621.60 L117.23,622.06 L119.95,622.57 L122.63,623.13 L125.27,623.72 L127.89,624.33 L130.48,624.97 L133.04,625.61 L135.58,626.26 L138.10,626.90 L140.34,627.48 L142.48,628.06 L144.55,628.65 L146.59,629.25 L148.63,629.86 L150.70,630.49 L152.84,631.14 L155.08,631.83 L157.46,632.54 L160.00,633.30 L164.27,634.54 L169.00,635.88 L174.07,637.32 L179.38,638.82 L184.83,640.37 L190.32,641.96 L195.73,643.56 L200.97,645.17 L205.93,646.75 L210.50,648.30 L213.84,649.53 L217.11,650.82 L220.30,652.15 L223.40,653.49 L226.42,654.81 L229.34,656.10 L232.17,657.32 L234.89,658.44 L237.50,659.44 L240.00,660.30 L241.59,660.79 L243.08,661.22 L244.48,661.59 L245.83,661.93 L247.15,662.23 L248.47,662.51 L249.80,662.78 L251.19,663.04 L252.64,663.31 L254.20,663.60 L256.35,664.00 L258.61,664.42 L260.97,664.84 L263.41,665.26 L265.89,665.66 L268.39,666.03 L270.90,666.37 L273.39,666.64 L275.83,666.86 L278.20,667.00 L280.38,667.07 L282.55,667.09 L284.70,667.06 L286.85,666.99 L288.99,666.88 L291.10,666.73 L293.21,666.55 L295.29,666.33 L297.36,666.08 L299.40,665.80 L301.32,665.49 L303.23,665.13 L305.14,664.73 L307.04,664.29 L308.91,663.83 L310.76,663.36 L312.58,662.88 L314.36,662.40 L316.10,661.94 L317.80,661.50 L319.17,661.14 L320.50,660.76 L321.78,660.37 L323.05,659.98 L324.29,659.60 L325.52,659.23 L326.76,658.88 L328.02,658.55 L329.29,658.26 L330.60,658.00 L332.00,657.78 L333.41,657.60 L334.84,657.46 L336.28,657.34 L337.73,657.24 L339.19,657.16 L340.65,657.08 L342.10,657.00 L343.56,656.91 L345.00,656.80" fill="none" stroke="#3c3c44" stroke-width="0.85"/>
<path d="M78.60,627.50 L81.93,627.70 L85.28,627.89 L88.65,628.08 L92.02,628.26 L95.39,628.45 L98.74,628.64 L102.05,628.85 L105.32,629.07 L108.54,629.32 L111.70,629.60 L114.48,629.87 L117.22,630.16 L119.93,630.46 L122.60,630.77 L125.25,631.10 L127.87,631.43 L130.47,631.79 L133.03,632.15 L135.58,632.52 L138.10,632.90 L140.34,633.25 L142.47,633.60 L144.55,633.95 L146.59,634.31 L148.63,634.69 L150.70,635.08 L152.84,635.49 L155.08,635.93 L157.46,636.40 L160.00,636.90 L164.27,637.78 L168.99,638.80 L174.05,639.92 L179.35,641.11 L184.78,642.34 L190.26,643.56 L195.67,644.74 L200.92,645.85 L205.89,646.85 L210.50,647.70 L213.74,648.25 L216.83,648.76 L219.79,649.21 L222.66,649.63 L225.48,650.02 L228.28,650.38 L231.10,650.73 L233.97,651.06 L236.93,651.38 L240.00,651.70 L243.67,652.04 L247.50,652.34 L251.44,652.61 L255.46,652.86 L259.49,653.09 L263.49,653.32 L267.41,653.55 L271.20,653.80 L274.81,654.08 L278.20,654.40 L280.58,654.67 L282.87,654.97 L285.07,655.28 L287.20,655.61 L289.28,655.94 L291.32,656.26 L293.34,656.57 L295.35,656.85 L297.37,657.10 L299.40,657.30 L301.31,657.48 L303.22,657.66 L305.13,657.84 L307.03,658.01 L308.91,658.15 L310.77,658.26 L312.59,658.30 L314.38,658.29 L316.12,658.19 L317.80,658.00 L319.19,657.74 L320.52,657.39 L321.81,656.97 L323.07,656.50 L324.30,655.99 L325.54,655.48 L326.77,654.97 L328.02,654.49 L329.29,654.06 L330.60,653.70 L331.99,653.39 L333.41,653.13 L334.84,652.89 L336.28,652.69 L337.73,652.50 L339.19,652.32 L340.64,652.15 L342.10,651.98 L343.55,651.80 L345.00,651.60" fill="none" stroke="#3c3c44" stroke-width="0.85"/>
<path d="M78.60,653.90 L80.56,654.01 L82.54,654.11 L84.53,654.20 L86.53,654.29 L88.52,654.39 L90.49,654.49 L92.44,654.61 L94.34,654.75 L96.20,654.91 L98.00,655.10 L99.47,655.29 L100.90,655.49 L102.30,655.71 L103.67,655.94 L105.02,656.18 L106.36,656.43 L107.69,656.69 L109.02,656.96 L110.35,657.23 L111.70,657.50 L113.04,657.77 L114.38,658.06 L115.71,658.35 L117.04,658.65 L118.37,658.96 L119.70,659.27 L121.03,659.58 L122.35,659.89 L123.68,660.20 L125.00,660.50 L126.31,660.80 L127.63,661.11 L128.94,661.42 L130.25,661.73 L131.56,662.03 L132.87,662.34 L134.18,662.64 L135.48,662.94 L136.79,663.22 L138.10,663.50 L139.39,663.77 L140.67,664.04 L141.95,664.31 L143.23,664.57 L144.51,664.82 L145.80,665.07 L147.09,665.30 L148.38,665.52 L149.68,665.72 L151.00,665.90 L152.34,666.07 L153.66,666.22 L154.95,666.36 L156.25,666.48 L157.56,666.58 L158.91,666.67 L160.31,666.75 L161.78,666.81 L163.34,666.86 L165.00,666.90 L167.87,666.92 L171.03,666.89 L174.43,666.81 L178.00,666.70 L181.68,666.55 L185.44,666.39 L189.20,666.20 L192.92,666.00 L196.54,665.80 L200.00,665.60 L203.12,665.40 L206.25,665.17 L209.36,664.92 L212.46,664.65 L215.52,664.38 L218.55,664.11 L221.52,663.85 L224.42,663.61 L227.25,663.39 L230.00,663.20 L232.15,663.06 L234.20,662.92 L236.19,662.79 L238.13,662.66 L240.04,662.54 L241.95,662.44 L243.88,662.37 L245.85,662.31 L247.88,662.29 L250.00,662.30 L252.64,662.37 L255.40,662.49 L258.23,662.66 L261.13,662.87 L264.05,663.11 L266.98,663.36 L269.88,663.62 L272.74,663.87 L275.52,664.10 L278.20,664.30 L280.45,664.46 L282.66,664.60 L284.83,664.74 L286.97,664.88 L289.08,665.02 L291.18,665.15 L293.25,665.30 L295.31,665.45 L297.36,665.62 L299.40,665.80 L301.28,665.99 L303.11,666.19 L304.90,666.41 L306.68,666.63 L308.46,666.86 L310.24,667.09 L312.05,667.31 L313.91,667.52 L315.82,667.72 L317.80,667.90 L320.30,668.09 L322.90,668.26 L325.57,668.41 L328.29,668.55 L331.07,668.68 L333.86,668.80 L336.67,668.92 L339.47,669.04 L342.26,669.17 L345.00,669.30" fill="none" stroke="#3c3c44" stroke-width="0.85"/>
<path d="M78.60,668.70 L79.95,668.73 L81.33,668.74 L82.74,668.76 L84.14,668.77 L85.54,668.79 L86.91,668.81 L88.25,668.84 L89.54,668.88 L90.76,668.93 L91.90,669.00 L92.65,669.06 L93.37,669.13 L94.05,669.20 L94.71,669.28 L95.35,669.36 L95.98,669.44 L96.60,669.53 L97.22,669.62 L97.85,669.71 L98.50,669.80 L99.15,669.89 L99.80,669.98 L100.45,670.08 L101.10,670.18 L101.75,670.28 L102.40,670.38 L103.05,670.48 L103.70,670.59 L104.35,670.69 L105.00,670.80 L105.67,670.91 L106.34,671.01 L107.01,671.12 L107.69,671.23 L108.36,671.34 L109.04,671.45 L109.71,671.57 L110.38,671.70 L111.04,671.85 L111.70,672.00 L112.34,672.16 L112.98,672.34 L113.61,672.52 L114.23,672.70 L114.86,672.90 L115.48,673.11 L116.10,673.32 L116.73,673.54 L117.36,673.77 L118.00,674.00 L118.69,674.26 L119.38,674.54 L120.08,674.84 L120.78,675.14 L121.48,675.44 L122.19,675.76 L122.89,676.07 L123.60,676.39 L124.30,676.70 L125.00,677.00" fill="none" stroke="#3c3c44" stroke-width="0.85"/>
<path d="M78.60,672.00 L80.56,672.04 L82.56,672.05 L84.57,672.06 L86.59,672.06 L88.60,672.07 L90.59,672.09 L92.53,672.13 L94.43,672.21 L96.25,672.33 L98.00,672.50 L99.33,672.67 L100.64,672.86 L101.91,673.08 L103.14,673.31 L104.35,673.56 L105.54,673.82 L106.69,674.10 L107.82,674.39 L108.92,674.69 L110.00,675.00 L110.87,675.27 L111.72,675.55 L112.54,675.84 L113.33,676.14 L114.11,676.45 L114.89,676.76 L115.66,677.07 L116.43,677.39 L117.21,677.70 L118.00,678.00" fill="none" stroke="#3c3c44" stroke-width="0.85"/>
<circle cx="78.60" cy="551.30" r="0.70" fill="#26264a"/>
<circle cx="85.25" cy="551.61" r="0.70" fill="#26264a"/>
<circle cx="91.91" cy="551.85" r="0.70" fill="#26264a"/>
<circle cx="98.56" cy="552.12" r="0.70" fill="#26264a"/>
<circle cx="105.22" cy="552.53" r="0.70" fill="#26264a"/>
<circle cx="111.88" cy="553.20" r="0.70" fill="#26264a"/>
<circle cx="118.53" cy="554.26" r="0.70" fill="#26264a"/>
<circle cx="125.19" cy="555.63" r="0.70" fill="#26264a"/>
<circle cx="131.84" cy="557.14" r="0.70" fill="#26264a"/>
<circle cx="138.50" cy="558.60" r="0.70" fill="#26264a"/>
<circle cx="145.15" cy="559.91" r="0.70" fill="#26264a"/>
<circle cx="151.81" cy="561.21" r="0.70" fill="#26264a"/>
<circle cx="158.46" cy="562.64" r="0.70" fill="#26264a"/>
<circle cx="165.12" cy="564.22" r="0.70" fill="#26264a"/>
<circle cx="171.77" cy="565.87" r="0.70" fill="#26264a"/>
<circle cx="178.43" cy="567.75" r="0.70" fill="#26264a"/>
<circle cx="185.08" cy="570.04" r="0.70" fill="#26264a"/>
<circle cx="191.74" cy="572.91" r="0.70" fill="#26264a"/>
<circle cx="198.39" cy="576.19" r="0.70" fill="#26264a"/>
<circle cx="205.05" cy="579.56" r="0.70" fill="#26264a"/>
<circle cx="211.70" cy="582.78" r="0.70" fill="#26264a"/>
<circle cx="218.36" cy="586.02" r="0.70" fill="#26264a"/>
<circle cx="225.01" cy="589.23" r="0.70" fill="#26264a"/>
<circle cx="231.67" cy="592.29" r="0.70" fill="#26264a"/>
<circle cx="238.32" cy="594.96" r="0.70" fill="#26264a"/>
<circle cx="244.98" cy="597.41" r="0.70" fill="#26264a"/>
<circle cx="251.63" cy="600.27" r="0.70" fill="#26264a"/>
<circle cx="258.29" cy="603.68" r="0.70" fill="#26264a"/>
<circle cx="264.94" cy="607.31" r="0.70" fill="#26264a"/>
<circle cx="271.60" cy="610.87" r="0.70" fill="#26264a"/>
<circle cx="278.25" cy="614.12" r="0.70" fill="#26264a"/>
<circle cx="284.90" cy="616.99" r="0.70" fill="#26264a"/>
<circle cx="291.56" cy="619.65" r="0.70" fill="#26264a"/>
<circle cx="298.22" cy="622.18" r="0.70" fill="#26264a"/>
<circle cx="304.87" cy="624.64" r="0.70" fill="#26264a"/>
<circle cx="311.53" cy="627.07" r="0.70" fill="#26264a"/>
<circle cx="318.18" cy="629.54" r="0.70" fill="#26264a"/>
<circle cx="324.84" cy="632.00" r="0.70" fill="#26264a"/>
<circle cx="331.49" cy="634.29" r="0.70" fill="#26264a"/>
<circle cx="338.14" cy="636.08" r="0.70" fill="#26264a"/>
<circle cx="344.80" cy="636.49" r="0.70" fill="#26264a"/>
<circle cx="78.60" cy="560.70" r="0.70" fill="#26264a"/>
<circle cx="85.25" cy="560.94" r="0.70" fill="#26264a"/>
<circle cx="91.91" cy="561.13" r="0.70" fill="#26264a"/>
<circle cx="98.56" cy="561.34" r="0.70" fill="#26264a"/>
<circle cx="105.22" cy="561.66" r="0.70" fill="#26264a"/>
<circle cx="111.88" cy="562.20" r="0.70" fill="#26264a"/>
<circle cx="118.53" cy="562.99" r="0.70" fill="#26264a"/>
<circle cx="125.19" cy="563.99" r="0.70" fill="#26264a"/>
<circle cx="131.84" cy="565.17" r="0.70" fill="#26264a"/>
<circle cx="138.50" cy="566.50" r="0.70" fill="#26264a"/>
<circle cx="145.15" cy="568.06" r="0.70" fill="#26264a"/>
<circle cx="151.81" cy="569.84" r="0.70" fill="#26264a"/>
<circle cx="158.46" cy="571.68" r="0.70" fill="#26264a"/>
<circle cx="165.12" cy="573.45" r="0.70" fill="#26264a"/>
<circle cx="171.77" cy="575.21" r="0.70" fill="#26264a"/>
<circle cx="178.43" cy="577.03" r="0.70" fill="#26264a"/>
<circle cx="185.08" cy="578.97" r="0.70" fill="#26264a"/>
<circle cx="191.74" cy="581.06" r="0.70" fill="#26264a"/>
<circle cx="198.39" cy="583.27" r="0.70" fill="#26264a"/>
<circle cx="205.05" cy="585.49" r="0.70" fill="#26264a"/>
<circle cx="211.70" cy="587.66" r="0.70" fill="#26264a"/>
<circle cx="218.36" cy="589.77" r="0.70" fill="#26264a"/>
<circle cx="225.01" cy="591.90" r="0.70" fill="#26264a"/>
<circle cx="231.67" cy="594.17" r="0.70" fill="#26264a"/>
<circle cx="238.32" cy="596.65" r="0.70" fill="#26264a"/>
<circle cx="244.98" cy="599.36" r="0.70" fill="#26264a"/>
<circle cx="251.63" cy="602.21" r="0.70" fill="#26264a"/>
<circle cx="258.29" cy="605.23" r="0.70" fill="#26264a"/>
<circle cx="264.94" cy="608.34" r="0.70" fill="#26264a"/>
<circle cx="271.60" cy="611.46" r="0.70" fill="#26264a"/>
<circle cx="278.25" cy="614.52" r="0.70" fill="#26264a"/>
<circle cx="284.90" cy="617.60" r="0.70" fill="#26264a"/>
<circle cx="291.56" cy="620.73" r="0.70" fill="#26264a"/>
<circle cx="298.22" cy="623.79" r="0.70" fill="#26264a"/>
<circle cx="304.87" cy="626.68" r="0.70" fill="#26264a"/>
<circle cx="311.53" cy="629.26" r="0.70" fill="#26264a"/>
<circle cx="318.18" cy="631.52" r="0.70" fill="#26264a"/>
<circle cx="324.84" cy="633.57" r="0.70" fill="#26264a"/>
<circle cx="331.49" cy="635.37" r="0.70" fill="#26264a"/>
<circle cx="338.14" cy="636.76" r="0.70" fill="#26264a"/>
<circle cx="344.80" cy="636.99" r="0.70" fill="#26264a"/>
<circle cx="78.60" cy="587.70" r="0.70" fill="#26264a"/>
<circle cx="85.25" cy="588.14" r="0.70" fill="#26264a"/>
<circle cx="91.91" cy="588.53" r="0.70" fill="#26264a"/>
<circle cx="98.56" cy="588.95" r="0.70" fill="#26264a"/>
<circle cx="105.22" cy="589.45" r="0.70" fill="#26264a"/>
<circle cx="111.88" cy="590.10" r="0.70" fill="#26264a"/>
<circle cx="118.53" cy="590.93" r="0.70" fill="#26264a"/>
<circle cx="125.19" cy="591.90" r="0.70" fill="#26264a"/>
<circle cx="131.84" cy="593.02" r="0.70" fill="#26264a"/>
<circle cx="138.50" cy="594.30" r="0.70" fill="#26264a"/>
<circle cx="145.15" cy="595.80" r="0.70" fill="#26264a"/>
<circle cx="151.81" cy="597.52" r="0.70" fill="#26264a"/>
<circle cx="158.46" cy="599.37" r="0.70" fill="#26264a"/>
<circle cx="165.12" cy="601.26" r="0.70" fill="#26264a"/>
<circle cx="171.77" cy="603.22" r="0.70" fill="#26264a"/>
<circle cx="178.43" cy="605.23" r="0.70" fill="#26264a"/>
<circle cx="185.08" cy="607.29" r="0.70" fill="#26264a"/>
<circle cx="191.74" cy="609.37" r="0.70" fill="#26264a"/>
<circle cx="198.39" cy="611.49" r="0.70" fill="#26264a"/>
<circle cx="205.05" cy="613.67" r="0.70" fill="#26264a"/>
<circle cx="211.70" cy="615.96" r="0.70" fill="#26264a"/>
<circle cx="218.36" cy="618.31" r="0.70" fill="#26264a"/>
<circle cx="225.01" cy="620.65" r="0.70" fill="#26264a"/>
<circle cx="231.67" cy="622.91" r="0.70" fill="#26264a"/>
<circle cx="238.32" cy="625.00" r="0.70" fill="#26264a"/>
<circle cx="244.98" cy="626.80" r="0.70" fill="#26264a"/>
<circle cx="251.63" cy="628.29" r="0.70" fill="#26264a"/>
<circle cx="258.29" cy="629.64" r="0.70" fill="#26264a"/>
<circle cx="264.94" cy="630.99" r="0.70" fill="#26264a"/>
<circle cx="271.60" cy="632.26" r="0.70" fill="#26264a"/>
<circle cx="278.25" cy="633.61" r="0.70" fill="#26264a"/>
<circle cx="284.90" cy="635.28" r="0.70" fill="#26264a"/>
<circle cx="291.56" cy="637.04" r="0.70" fill="#26264a"/>
<circle cx="298.22" cy="638.42" r="0.70" fill="#26264a"/>
<circle cx="304.87" cy="639.08" r="0.70" fill="#26264a"/>
<circle cx="311.53" cy="639.22" r="0.70" fill="#26264a"/>
<circle cx="318.18" cy="639.19" r="0.70" fill="#26264a"/>
<circle cx="324.84" cy="639.20" r="0.70" fill="#26264a"/>
<circle cx="331.49" cy="639.13" r="0.70" fill="#26264a"/>
<circle cx="338.14" cy="639.01" r="0.70" fill="#26264a"/>
<circle cx="344.80" cy="638.90" r="0.70" fill="#26264a"/>
<circle cx="78.60" cy="587.70" r="0.70" fill="#26264a"/>
<circle cx="85.25" cy="588.31" r="0.70" fill="#26264a"/>
<circle cx="91.91" cy="588.88" r="0.70" fill="#26264a"/>
<circle cx="98.56" cy="589.47" r="0.70" fill="#26264a"/>
<circle cx="105.22" cy="590.15" r="0.70" fill="#26264a"/>
<circle cx="111.88" cy="591.00" r="0.70" fill="#26264a"/>
<circle cx="118.53" cy="592.01" r="0.70" fill="#26264a"/>
<circle cx="125.19" cy="593.15" r="0.70" fill="#26264a"/>
<circle cx="131.84" cy="594.49" r="0.70" fill="#26264a"/>
<circle cx="138.50" cy="596.10" r="0.70" fill="#26264a"/>
<circle cx="145.15" cy="598.20" r="0.70" fill="#26264a"/>
<circle cx="151.81" cy="600.69" r="0.70" fill="#26264a"/>
<circle cx="158.46" cy="603.09" r="0.70" fill="#26264a"/>
<circle cx="165.12" cy="605.19" r="0.70" fill="#26264a"/>
<circle cx="171.77" cy="607.18" r="0.70" fill="#26264a"/>
<circle cx="178.43" cy="609.10" r="0.70" fill="#26264a"/>
<circle cx="185.08" cy="611.01" r="0.70" fill="#26264a"/>
<circle cx="191.74" cy="612.91" r="0.70" fill="#26264a"/>
<circle cx="198.39" cy="614.83" r="0.70" fill="#26264a"/>
<circle cx="205.05" cy="616.82" r="0.70" fill="#26264a"/>
<circle cx="211.70" cy="618.89" r="0.70" fill="#26264a"/>
<circle cx="218.36" cy="620.98" r="0.70" fill="#26264a"/>
<circle cx="225.01" cy="623.00" r="0.70" fill="#26264a"/>
<circle cx="231.67" cy="624.88" r="0.70" fill="#26264a"/>
<circle cx="238.32" cy="626.51" r="0.70" fill="#26264a"/>
<circle cx="244.98" cy="627.74" r="0.70" fill="#26264a"/>
<circle cx="251.63" cy="628.72" r="0.70" fill="#26264a"/>
<circle cx="258.29" cy="629.71" r="0.70" fill="#26264a"/>
<circle cx="264.94" cy="630.91" r="0.70" fill="#26264a"/>
<circle cx="271.60" cy="632.21" r="0.70" fill="#26264a"/>
<circle cx="278.25" cy="633.61" r="0.70" fill="#26264a"/>
<circle cx="284.90" cy="635.28" r="0.70" fill="#26264a"/>
<circle cx="291.56" cy="637.04" r="0.70" fill="#26264a"/>
<circle cx="298.22" cy="638.42" r="0.70" fill="#26264a"/>
<circle cx="304.87" cy="639.08" r="0.70" fill="#26264a"/>
<circle cx="311.53" cy="639.22" r="0.70" fill="#26264a"/>
<circle cx="318.18" cy="639.19" r="0.70" fill="#26264a"/>
<circle cx="324.84" cy="639.20" r="0.70" fill="#26264a"/>
<circle cx="331.49" cy="639.13" r="0.70" fill="#26264a"/>
<circle cx="338.14" cy="639.01" r="0.70" fill="#26264a"/>
<circle cx="344.80" cy="638.90" r="0.70" fill="#26264a"/>
<circle cx="78.60" cy="612.10" r="0.70" fill="#26264a"/>
<circle cx="85.25" cy="612.22" r="0.70" fill="#26264a"/>
<circle cx="91.91" cy="612.32" r="0.70" fill="#26264a"/>
<circle cx="98.56" cy="612.43" r="0.70" fill="#26264a"/>
<circle cx="105.22" cy="612.58" r="0.70" fill="#26264a"/>
<circle cx="111.88" cy="612.81" r="0.70" fill="#26264a"/>
<circle cx="118.53" cy="613.11" r="0.70" fill="#26264a"/>
<circle cx="125.19" cy="613.47" r="0.70" fill="#26264a"/>
<circle cx="131.84" cy="613.94" r="0.70" fill="#26264a"/>
<circle cx="138.50" cy="614.54" r="0.70" fill="#26264a"/>
<circle cx="145.15" cy="615.31" r="0.70" fill="#26264a"/>
<circle cx="151.81" cy="616.24" r="0.70" fill="#26264a"/>
<circle cx="158.46" cy="617.33" r="0.70" fill="#26264a"/>
<circle cx="165.12" cy="618.55" r="0.70" fill="#26264a"/>
<circle cx="171.77" cy="619.89" r="0.70" fill="#26264a"/>
<circle cx="178.43" cy="621.30" r="0.70" fill="#26264a"/>
<circle cx="185.08" cy="622.75" r="0.70" fill="#26264a"/>
<circle cx="191.74" cy="624.21" r="0.70" fill="#26264a"/>
<circle cx="198.39" cy="625.65" r="0.70" fill="#26264a"/>
<circle cx="205.05" cy="627.11" r="0.70" fill="#26264a"/>
<circle cx="211.70" cy="628.65" r="0.70" fill="#26264a"/>
<circle cx="218.36" cy="630.22" r="0.70" fill="#26264a"/>
<circle cx="225.01" cy="631.79" r="0.70" fill="#26264a"/>
<circle cx="231.67" cy="633.31" r="0.70" fill="#26264a"/>
<circle cx="238.32" cy="634.73" r="0.70" fill="#26264a"/>
<circle cx="244.98" cy="636.00" r="0.70" fill="#26264a"/>
<circle cx="251.63" cy="637.00" r="0.70" fill="#26264a"/>
<circle cx="258.29" cy="637.59" r="0.70" fill="#26264a"/>
<circle cx="264.94" cy="637.86" r="0.70" fill="#26264a"/>
<circle cx="271.60" cy="638.09" r="0.70" fill="#26264a"/>
<circle cx="278.25" cy="638.61" r="0.70" fill="#26264a"/>
<circle cx="284.90" cy="639.55" r="0.70" fill="#26264a"/>
<circle cx="291.56" cy="640.74" r="0.70" fill="#26264a"/>
<circle cx="298.22" cy="642.14" r="0.70" fill="#26264a"/>
<circle cx="304.87" cy="643.75" r="0.70" fill="#26264a"/>
<circle cx="311.53" cy="645.59" r="0.70" fill="#26264a"/>
<circle cx="318.18" cy="647.51" r="0.70" fill="#26264a"/>
<circle cx="324.84" cy="649.73" r="0.70" fill="#26264a"/>
<circle cx="331.49" cy="651.31" r="0.70" fill="#26264a"/>
<circle cx="338.14" cy="651.48" r="0.70" fill="#26264a"/>
<circle cx="344.80" cy="651.30" r="0.70" fill="#26264a"/>
<circle cx="78.60" cy="612.10" r="0.70" fill="#26264a"/>
<circle cx="85.25" cy="612.21" r="0.70" fill="#26264a"/>
<circle cx="91.91" cy="612.28" r="0.70" fill="#26264a"/>
<circle cx="98.56" cy="612.37" r="0.70" fill="#26264a"/>
<circle cx="105.22" cy="612.52" r="0.70" fill="#26264a"/>
<circle cx="111.88" cy="612.81" r="0.70" fill="#26264a"/>
<circle cx="118.53" cy="613.21" r="0.70" fill="#26264a"/>
<circle cx="125.19" cy="613.69" r="0.70" fill="#26264a"/>
<circle cx="131.84" cy="614.35" r="0.70" fill="#26264a"/>
<circle cx="138.50" cy="615.27" r="0.70" fill="#26264a"/>
<circle cx="145.15" cy="616.56" r="0.70" fill="#26264a"/>
<circle cx="151.81" cy="618.17" r="0.70" fill="#26264a"/>
<circle cx="158.46" cy="619.83" r="0.70" fill="#26264a"/>
<circle cx="165.12" cy="621.42" r="0.70" fill="#26264a"/>
<circle cx="171.77" cy="623.01" r="0.70" fill="#26264a"/>
<circle cx="178.43" cy="624.63" r="0.70" fill="#26264a"/>
<circle cx="185.08" cy="626.26" r="0.70" fill="#26264a"/>
<circle cx="191.74" cy="627.92" r="0.70" fill="#26264a"/>
<circle cx="198.39" cy="629.59" r="0.70" fill="#26264a"/>
<circle cx="205.05" cy="631.33" r="0.70" fill="#26264a"/>
<circle cx="211.70" cy="633.18" r="0.70" fill="#26264a"/>
<circle cx="218.36" cy="635.08" r="0.70" fill="#26264a"/>
<circle cx="225.01" cy="636.99" r="0.70" fill="#26264a"/>
<circle cx="231.67" cy="638.84" r="0.70" fill="#26264a"/>
<circle cx="238.32" cy="640.59" r="0.70" fill="#26264a"/>
<circle cx="244.98" cy="642.18" r="0.70" fill="#26264a"/>
<circle cx="251.63" cy="643.47" r="0.70" fill="#26264a"/>
<circle cx="258.29" cy="644.37" r="0.70" fill="#26264a"/>
<circle cx="264.94" cy="644.95" r="0.70" fill="#26264a"/>
<circle cx="271.60" cy="645.41" r="0.70" fill="#26264a"/>
<circle cx="278.25" cy="646.01" r="0.70" fill="#26264a"/>
<circle cx="284.90" cy="646.94" r="0.70" fill="#26264a"/>
<circle cx="291.56" cy="647.98" r="0.70" fill="#26264a"/>
<circle cx="298.22" cy="648.72" r="0.70" fill="#26264a"/>
<circle cx="304.87" cy="648.92" r="0.70" fill="#26264a"/>
<circle cx="311.53" cy="648.67" r="0.70" fill="#26264a"/>
<circle cx="318.18" cy="648.05" r="0.70" fill="#26264a"/>
<circle cx="324.84" cy="647.06" r="0.70" fill="#26264a"/>
<circle cx="331.49" cy="645.80" r="0.70" fill="#26264a"/>
<circle cx="338.14" cy="644.44" r="0.70" fill="#26264a"/>
<circle cx="344.80" cy="643.14" r="0.70" fill="#26264a"/>
<circle cx="78.60" cy="619.60" r="0.70" fill="#26264a"/>
<circle cx="85.25" cy="619.84" r="0.70" fill="#26264a"/>
<circle cx="91.91" cy="620.00" r="0.70" fill="#26264a"/>
<circle cx="98.56" cy="620.20" r="0.70" fill="#26264a"/>
<circle cx="105.22" cy="620.56" r="0.70" fill="#26264a"/>
<circle cx="111.88" cy="621.23" r="0.70" fill="#26264a"/>
<circle cx="118.53" cy="622.30" r="0.70" fill="#26264a"/>
<circle cx="125.19" cy="623.70" r="0.70" fill="#26264a"/>
<circle cx="131.84" cy="625.31" r="0.70" fill="#26264a"/>
<circle cx="138.50" cy="627.00" r="0.70" fill="#26264a"/>
<circle cx="145.15" cy="628.83" r="0.70" fill="#26264a"/>
<circle cx="151.81" cy="630.83" r="0.70" fill="#26264a"/>
<circle cx="158.46" cy="632.84" r="0.70" fill="#26264a"/>
<circle cx="165.12" cy="634.78" r="0.70" fill="#26264a"/>
<circle cx="171.77" cy="636.67" r="0.70" fill="#26264a"/>
<circle cx="178.43" cy="638.55" r="0.70" fill="#26264a"/>
<circle cx="185.08" cy="640.44" r="0.70" fill="#26264a"/>
<circle cx="191.74" cy="642.38" r="0.70" fill="#26264a"/>
<circle cx="198.39" cy="644.38" r="0.70" fill="#26264a"/>
<circle cx="205.05" cy="646.47" r="0.70" fill="#26264a"/>
<circle cx="211.70" cy="648.74" r="0.70" fill="#26264a"/>
<circle cx="218.36" cy="651.34" r="0.70" fill="#26264a"/>
<circle cx="225.01" cy="654.19" r="0.70" fill="#26264a"/>
<circle cx="231.67" cy="657.10" r="0.70" fill="#26264a"/>
<circle cx="238.32" cy="659.72" r="0.70" fill="#26264a"/>
<circle cx="244.98" cy="661.72" r="0.70" fill="#26264a"/>
<circle cx="251.63" cy="663.12" r="0.70" fill="#26264a"/>
<circle cx="258.29" cy="664.36" r="0.70" fill="#26264a"/>
<circle cx="264.94" cy="665.51" r="0.70" fill="#26264a"/>
<circle cx="271.60" cy="666.44" r="0.70" fill="#26264a"/>
<circle cx="278.25" cy="667.00" r="0.70" fill="#26264a"/>
<circle cx="284.90" cy="667.05" r="0.70" fill="#26264a"/>
<circle cx="291.56" cy="666.69" r="0.70" fill="#26264a"/>
<circle cx="298.22" cy="665.96" r="0.70" fill="#26264a"/>
<circle cx="304.87" cy="664.79" r="0.70" fill="#26264a"/>
<circle cx="311.53" cy="663.16" r="0.70" fill="#26264a"/>
<circle cx="318.18" cy="661.40" r="0.70" fill="#26264a"/>
<circle cx="324.84" cy="659.44" r="0.70" fill="#26264a"/>
<circle cx="331.49" cy="657.86" r="0.70" fill="#26264a"/>
<circle cx="338.14" cy="657.22" r="0.70" fill="#26264a"/>
<circle cx="344.80" cy="656.82" r="0.70" fill="#26264a"/>
<circle cx="78.60" cy="627.50" r="0.70" fill="#26264a"/>
<circle cx="85.25" cy="627.89" r="0.70" fill="#26264a"/>
<circle cx="91.91" cy="628.25" r="0.70" fill="#26264a"/>
<circle cx="98.56" cy="628.63" r="0.70" fill="#26264a"/>
<circle cx="105.22" cy="629.07" r="0.70" fill="#26264a"/>
<circle cx="111.88" cy="629.62" r="0.70" fill="#26264a"/>
<circle cx="118.53" cy="630.30" r="0.70" fill="#26264a"/>
<circle cx="125.19" cy="631.09" r="0.70" fill="#26264a"/>
<circle cx="131.84" cy="631.98" r="0.70" fill="#26264a"/>
<circle cx="138.50" cy="632.96" r="0.70" fill="#26264a"/>
<circle cx="145.15" cy="634.06" r="0.70" fill="#26264a"/>
<circle cx="151.81" cy="635.29" r="0.70" fill="#26264a"/>
<circle cx="158.46" cy="636.59" r="0.70" fill="#26264a"/>
<circle cx="165.12" cy="637.96" r="0.70" fill="#26264a"/>
<circle cx="171.77" cy="639.41" r="0.70" fill="#26264a"/>
<circle cx="178.43" cy="640.91" r="0.70" fill="#26264a"/>
<circle cx="185.08" cy="642.40" r="0.70" fill="#26264a"/>
<circle cx="191.74" cy="643.88" r="0.70" fill="#26264a"/>
<circle cx="198.39" cy="645.32" r="0.70" fill="#26264a"/>
<circle cx="205.05" cy="646.68" r="0.70" fill="#26264a"/>
<circle cx="211.70" cy="647.90" r="0.70" fill="#26264a"/>
<circle cx="218.36" cy="648.99" r="0.70" fill="#26264a"/>
<circle cx="225.01" cy="649.96" r="0.70" fill="#26264a"/>
<circle cx="231.67" cy="650.79" r="0.70" fill="#26264a"/>
<circle cx="238.32" cy="651.52" r="0.70" fill="#26264a"/>
<circle cx="244.98" cy="652.15" r="0.70" fill="#26264a"/>
<circle cx="251.63" cy="652.62" r="0.70" fill="#26264a"/>
<circle cx="258.29" cy="653.02" r="0.70" fill="#26264a"/>
<circle cx="264.94" cy="653.40" r="0.70" fill="#26264a"/>
<circle cx="271.60" cy="653.84" r="0.70" fill="#26264a"/>
<circle cx="278.25" cy="654.41" r="0.70" fill="#26264a"/>
<circle cx="284.90" cy="655.26" r="0.70" fill="#26264a"/>
<circle cx="291.56" cy="656.30" r="0.70" fill="#26264a"/>
<circle cx="298.22" cy="657.18" r="0.70" fill="#26264a"/>
<circle cx="304.87" cy="657.82" r="0.70" fill="#26264a"/>
<circle cx="311.53" cy="658.28" r="0.70" fill="#26264a"/>
<circle cx="318.18" cy="657.93" r="0.70" fill="#26264a"/>
<circle cx="324.84" cy="655.77" r="0.70" fill="#26264a"/>
<circle cx="331.49" cy="653.50" r="0.70" fill="#26264a"/>
<circle cx="338.14" cy="652.45" r="0.70" fill="#26264a"/>
<circle cx="344.80" cy="651.63" r="0.70" fill="#26264a"/>
<circle cx="78.60" cy="653.90" r="1.45" fill="#1ea41e"/><circle cx="78.60" cy="653.90" r="0.70" fill="#178a17"/>
<circle cx="85.25" cy="654.24" r="1.45" fill="#1ea41e"/><circle cx="85.25" cy="654.24" r="0.70" fill="#178a17"/>
<circle cx="91.91" cy="654.58" r="1.45" fill="#1ea41e"/><circle cx="91.91" cy="654.58" r="0.70" fill="#178a17"/>
<circle cx="98.56" cy="655.17" r="1.45" fill="#1ea41e"/><circle cx="98.56" cy="655.17" r="0.70" fill="#178a17"/>
<circle cx="105.22" cy="656.22" r="1.45" fill="#1ea41e"/><circle cx="105.22" cy="656.22" r="0.70" fill="#178a17"/>
<circle cx="111.88" cy="657.54" r="1.45" fill="#1ea41e"/><circle cx="111.88" cy="657.54" r="0.70" fill="#178a17"/>
<circle cx="118.53" cy="659.00" r="1.45" fill="#1ea41e"/><circle cx="118.53" cy="659.00" r="0.70" fill="#178a17"/>
<circle cx="125.19" cy="660.54" r="1.45" fill="#1ea41e"/><circle cx="125.19" cy="660.54" r="0.70" fill="#178a17"/>
<circle cx="131.84" cy="662.10" r="1.45" fill="#1ea41e"/><circle cx="131.84" cy="662.10" r="0.70" fill="#178a17"/>
<circle cx="138.50" cy="663.58" r="1.45" fill="#1ea41e"/><circle cx="138.50" cy="663.58" r="0.70" fill="#178a17"/>
<circle cx="145.15" cy="664.94" r="1.45" fill="#1ea41e"/><circle cx="145.15" cy="664.94" r="0.70" fill="#178a17"/>
<circle cx="151.81" cy="666.00" r="1.45" fill="#1ea41e"/><circle cx="151.81" cy="666.00" r="0.70" fill="#178a17"/>
<circle cx="158.46" cy="666.64" r="1.45" fill="#1ea41e"/><circle cx="158.46" cy="666.64" r="0.70" fill="#178a17"/>
<circle cx="165.12" cy="666.90" r="1.45" fill="#1ea41e"/><circle cx="165.12" cy="666.90" r="0.70" fill="#178a17"/>
<circle cx="171.77" cy="666.87" r="1.45" fill="#1ea41e"/><circle cx="171.77" cy="666.87" r="0.70" fill="#178a17"/>
<circle cx="178.43" cy="666.68" r="1.45" fill="#1ea41e"/><circle cx="178.43" cy="666.68" r="0.70" fill="#178a17"/>
<circle cx="185.08" cy="666.40" r="1.45" fill="#1ea41e"/><circle cx="185.08" cy="666.40" r="0.70" fill="#178a17"/>
<circle cx="191.74" cy="666.07" r="1.45" fill="#1ea41e"/><circle cx="191.74" cy="666.07" r="0.70" fill="#178a17"/>
<circle cx="198.39" cy="665.69" r="1.45" fill="#1ea41e"/><circle cx="198.39" cy="665.69" r="0.70" fill="#178a17"/>
<circle cx="205.05" cy="665.26" r="1.45" fill="#1ea41e"/><circle cx="205.05" cy="665.26" r="0.70" fill="#178a17"/>
<circle cx="211.70" cy="664.72" r="1.45" fill="#1ea41e"/><circle cx="211.70" cy="664.72" r="0.70" fill="#178a17"/>
<circle cx="218.36" cy="664.13" r="1.45" fill="#1ea41e"/><circle cx="218.36" cy="664.13" r="0.70" fill="#178a17"/>
<circle cx="225.01" cy="663.56" r="1.45" fill="#1ea41e"/><circle cx="225.01" cy="663.56" r="0.70" fill="#178a17"/>
<circle cx="231.67" cy="663.09" r="1.45" fill="#1ea41e"/><circle cx="231.67" cy="663.09" r="0.70" fill="#178a17"/>
<circle cx="238.32" cy="662.65" r="1.45" fill="#1ea41e"/><circle cx="238.32" cy="662.65" r="0.70" fill="#178a17"/>
<circle cx="244.98" cy="662.34" r="1.45" fill="#1ea41e"/><circle cx="244.98" cy="662.34" r="0.70" fill="#178a17"/>
<circle cx="251.63" cy="662.34" r="1.45" fill="#1ea41e"/><circle cx="251.63" cy="662.34" r="0.70" fill="#178a17"/>
<circle cx="258.29" cy="662.67" r="1.45" fill="#1ea41e"/><circle cx="258.29" cy="662.67" r="0.70" fill="#178a17"/>
<circle cx="264.94" cy="663.19" r="1.45" fill="#1ea41e"/><circle cx="264.94" cy="663.19" r="0.70" fill="#178a17"/>
<circle cx="271.60" cy="663.77" r="1.45" fill="#1ea41e"/><circle cx="271.60" cy="663.77" r="0.70" fill="#178a17"/>
<circle cx="278.25" cy="664.30" r="1.45" fill="#1ea41e"/><circle cx="278.25" cy="664.30" r="0.70" fill="#178a17"/>
<circle cx="284.90" cy="664.75" r="1.45" fill="#1ea41e"/><circle cx="284.90" cy="664.75" r="0.70" fill="#178a17"/>
<circle cx="291.56" cy="665.18" r="1.45" fill="#1ea41e"/><circle cx="291.56" cy="665.18" r="0.70" fill="#178a17"/>
<circle cx="298.22" cy="665.70" r="1.45" fill="#1ea41e"/><circle cx="298.22" cy="665.70" r="0.70" fill="#178a17"/>
<circle cx="304.87" cy="666.40" r="1.45" fill="#1ea41e"/><circle cx="304.87" cy="666.40" r="0.70" fill="#178a17"/>
<circle cx="311.53" cy="667.25" r="1.45" fill="#1ea41e"/><circle cx="311.53" cy="667.25" r="0.70" fill="#178a17"/>
<circle cx="318.18" cy="667.93" r="1.45" fill="#1ea41e"/><circle cx="318.18" cy="667.93" r="0.70" fill="#178a17"/>
<circle cx="324.84" cy="668.37" r="1.45" fill="#1ea41e"/><circle cx="324.84" cy="668.37" r="0.70" fill="#178a17"/>
<circle cx="331.49" cy="668.70" r="1.45" fill="#1ea41e"/><circle cx="331.49" cy="668.70" r="0.70" fill="#178a17"/>
<circle cx="338.14" cy="668.98" r="1.45" fill="#1ea41e"/><circle cx="338.14" cy="668.98" r="0.70" fill="#178a17"/>
<circle cx="344.80" cy="669.29" r="1.45" fill="#1ea41e"/><circle cx="344.80" cy="669.29" r="0.70" fill="#178a17"/>
<circle cx="78.60" cy="520.70" r="1.55" fill="#6a5a14"/><circle cx="78.60" cy="520.70" r="0.70" fill="#4a3a0a"/>
<circle cx="78.60" cy="510.40" r="1.80" fill="#c01a1a"/><circle cx="78.60" cy="510.40" r="0.80" fill="#701010"/>
<circle cx="78.60" cy="475.70" r="1.60" fill="#1ea41e"/><circle cx="78.60" cy="475.70" r="0.70" fill="#178a17"/>
<circle cx="78.60" cy="452.50" r="1.60" fill="#1ea41e"/><circle cx="78.60" cy="452.50" r="0.70" fill="#178a17"/>
<circle cx="78.60" cy="587.70" r="2.30" fill="#24248a" stroke="#2626d8" stroke-width="1.40"/>
<circle cx="78.60" cy="266.10" r="1.55" fill="#2a1a8a" stroke="#dc1c28" stroke-width="1.00"/>
<circle cx="78.60" cy="273.30" r="1.55" fill="#2a1a8a" stroke="#dc1c28" stroke-width="1.00"/>
<circle cx="78.60" cy="432.50" r="2.35" fill="none" stroke="#dc1c28" stroke-width="1.15"/><circle cx="78.60" cy="432.50" r="1.00" fill="#2a3a70"/>
<circle cx="78.60" cy="405.70" r="2.75" fill="none" stroke="#dc1c28" stroke-width="1.25"/><circle cx="78.60" cy="405.70" r="1.00" fill="#1a1a90"/>
<circle cx="78.60" cy="668.70" r="1.50" fill="#702050" stroke="#d01c30" stroke-width="1.00"/>
<circle cx="78.60" cy="672.00" r="1.50" fill="#702050" stroke="#d01c30" stroke-width="1.00"/>
<circle cx="85.25" cy="520.75" r="1.55" fill="#6a5a14"/><circle cx="85.25" cy="520.75" r="0.70" fill="#4a3a0a"/>
<circle cx="85.25" cy="510.49" r="1.80" fill="#c01a1a"/><circle cx="85.25" cy="510.49" r="0.80" fill="#701010"/>
<circle cx="85.25" cy="476.22" r="1.60" fill="#1ea41e"/><circle cx="85.25" cy="476.22" r="0.70" fill="#178a17"/>
<circle cx="85.25" cy="452.48" r="1.60" fill="#1ea41e"/><circle cx="85.25" cy="452.48" r="0.70" fill="#178a17"/>
<circle cx="85.25" cy="587.62" r="2.30" fill="#24248a" stroke="#2626d8" stroke-width="1.40"/>
<circle cx="85.25" cy="266.10" r="1.55" fill="#2a1a8a" stroke="#dc1c28" stroke-width="1.00"/>
<circle cx="85.25" cy="273.30" r="1.55" fill="#2a1a8a" stroke="#dc1c28" stroke-width="1.00"/>
<circle cx="85.25" cy="432.48" r="2.35" fill="none" stroke="#dc1c28" stroke-width="1.15"/><circle cx="85.25" cy="432.48" r="1.00" fill="#2a3a70"/>
<circle cx="85.25" cy="405.74" r="2.75" fill="none" stroke="#dc1c28" stroke-width="1.25"/><circle cx="85.25" cy="405.74" r="1.00" fill="#1a1a90"/>
<circle cx="85.25" cy="668.79" r="1.50" fill="#702050" stroke="#d01c30" stroke-width="1.00"/>
<circle cx="85.25" cy="672.06" r="1.50" fill="#702050" stroke="#d01c30" stroke-width="1.00"/>
<circle cx="91.91" cy="520.78" r="1.55" fill="#6a5a14"/><circle cx="91.91" cy="520.78" r="0.70" fill="#4a3a0a"/>
<circle cx="91.91" cy="510.58" r="1.80" fill="#c01a1a"/><circle cx="91.91" cy="510.58" r="0.80" fill="#701010"/>
<circle cx="91.91" cy="476.74" r="1.60" fill="#1ea41e"/><circle cx="91.91" cy="476.74" r="0.70" fill="#178a17"/>
<circle cx="91.91" cy="452.44" r="1.60" fill="#1ea41e"/><circle cx="91.91" cy="452.44" r="0.70" fill="#178a17"/>
<circle cx="91.91" cy="587.55" r="2.30" fill="#24248a" stroke="#2626d8" stroke-width="1.40"/>
<circle cx="91.91" cy="266.24" r="1.55" fill="#2a1a8a" stroke="#dc1c28" stroke-width="1.00"/>
<circle cx="91.91" cy="273.12" r="1.55" fill="#2a1a8a" stroke="#dc1c28" stroke-width="1.00"/>
<circle cx="91.91" cy="432.16" r="2.35" fill="none" stroke="#dc1c28" stroke-width="1.15"/><circle cx="91.91" cy="432.16" r="1.00" fill="#2a3a70"/>
<circle cx="91.91" cy="405.78" r="2.75" fill="none" stroke="#dc1c28" stroke-width="1.25"/><circle cx="91.91" cy="405.78" r="1.00" fill="#1a1a90"/>
<circle cx="91.91" cy="669.00" r="1.50" fill="#702050" stroke="#d01c30" stroke-width="1.00"/>
<circle cx="91.91" cy="672.12" r="1.50" fill="#702050" stroke="#d01c30" stroke-width="1.00"/>
<circle cx="98.56" cy="520.82" r="1.55" fill="#6a5a14"/><circle cx="98.56" cy="520.82" r="0.70" fill="#4a3a0a"/>
<circle cx="98.56" cy="510.67" r="1.80" fill="#c01a1a"/><circle cx="98.56" cy="510.67" r="0.80" fill="#701010"/>
<circle cx="98.56" cy="477.60" r="1.60" fill="#1ea41e"/><circle cx="98.56" cy="477.60" r="0.70" fill="#178a17"/>
<circle cx="98.56" cy="452.39" r="1.60" fill="#1ea41e"/><circle cx="98.56" cy="452.39" r="0.70" fill="#178a17"/>
<circle cx="98.56" cy="587.48" r="2.30" fill="#24248a" stroke="#2626d8" stroke-width="1.40"/>
<circle cx="98.56" cy="266.50" r="1.55" fill="#2a1a8a" stroke="#dc1c28" stroke-width="1.00"/>
<circle cx="98.56" cy="272.90" r="1.55" fill="#2a1a8a" stroke="#dc1c28" stroke-width="1.00"/>
<circle cx="98.56" cy="431.67" r="2.35" fill="none" stroke="#dc1c28" stroke-width="1.15"/><circle cx="98.56" cy="431.67" r="1.00" fill="#2a3a70"/>
<circle cx="98.56" cy="405.81" r="2.75" fill="none" stroke="#dc1c28" stroke-width="1.25"/><circle cx="98.56" cy="405.81" r="1.00" fill="#1a1a90"/>
<circle cx="98.56" cy="669.81" r="1.50" fill="#702050" stroke="#d01c30" stroke-width="1.00"/>
<circle cx="98.56" cy="672.57" r="1.50" fill="#702050" stroke="#d01c30" stroke-width="1.00"/>
<circle cx="105.22" cy="520.89" r="1.55" fill="#6a5a14"/><circle cx="105.22" cy="520.89" r="0.70" fill="#4a3a0a"/>
<circle cx="105.22" cy="510.76" r="1.80" fill="#c01a1a"/><circle cx="105.22" cy="510.76" r="0.80" fill="#701010"/>
<circle cx="105.22" cy="479.08" r="1.60" fill="#1ea41e"/><circle cx="105.22" cy="479.08" r="0.70" fill="#178a17"/>
<circle cx="105.22" cy="452.36" r="1.60" fill="#1ea41e"/><circle cx="105.22" cy="452.36" r="0.70" fill="#178a17"/>
<circle cx="105.22" cy="587.39" r="2.29" fill="none" stroke="#2626d8" stroke-width="1.40"/><circle cx="105.22" cy="587.39" r="0.90" fill="#8a5050"/>
<circle cx="105.22" cy="266.94" r="1.55" fill="#2a1a8a" stroke="#dc1c28" stroke-width="1.00"/>
<circle cx="105.22" cy="272.70" r="1.55" fill="#2a1a8a" stroke="#dc1c28" stroke-width="1.00"/>
<circle cx="105.22" cy="430.95" r="2.35" fill="none" stroke="#dc1c28" stroke-width="1.15"/><circle cx="105.22" cy="430.95" r="1.00" fill="#2a3a70"/>
<circle cx="105.22" cy="405.85" r="2.75" fill="none" stroke="#dc1c28" stroke-width="1.25"/><circle cx="105.22" cy="405.85" r="1.00" fill="#1a1a90"/>
<circle cx="105.22" cy="670.84" r="1.50" fill="#702050" stroke="#d01c30" stroke-width="1.00"/>
<circle cx="105.22" cy="673.75" r="1.50" fill="#702050" stroke="#d01c30" stroke-width="1.00"/>
<circle cx="111.88" cy="521.00" r="1.55" fill="#6a5a14"/><circle cx="111.88" cy="521.00" r="0.70" fill="#4a3a0a"/>
<circle cx="111.88" cy="510.86" r="1.80" fill="#c01a1a"/><circle cx="111.88" cy="510.86" r="0.80" fill="#701010"/>
<circle cx="111.88" cy="480.89" r="1.60" fill="#1ea41e"/><circle cx="111.88" cy="480.89" r="0.70" fill="#178a17"/>
<circle cx="111.88" cy="452.34" r="1.60" fill="#1ea41e"/><circle cx="111.88" cy="452.34" r="0.70" fill="#178a17"/>
<circle cx="111.88" cy="587.30" r="2.31" fill="none" stroke="#2626d8" stroke-width="1.40"/><circle cx="111.88" cy="587.30" r="0.90" fill="#8a5050"/>
<circle cx="111.88" cy="267.59" r="1.55" fill="#2a1a8a" stroke="#dc1c28" stroke-width="1.00"/>
<circle cx="111.88" cy="272.60" r="1.55" fill="#2a1a8a" stroke="#dc1c28" stroke-width="1.00"/>
<circle cx="111.88" cy="430.04" r="2.35" fill="none" stroke="#dc1c28" stroke-width="1.15"/><circle cx="111.88" cy="430.04" r="1.00" fill="#2a3a70"/>
<circle cx="111.88" cy="405.91" r="2.75" fill="none" stroke="#dc1c28" stroke-width="1.25"/><circle cx="111.88" cy="405.91" r="1.00" fill="#1a1a90"/>
<circle cx="111.88" cy="672.04" r="1.50" fill="#702050" stroke="#d01c30" stroke-width="1.00"/>
<circle cx="111.88" cy="675.60" r="1.50" fill="#702050" stroke="#d01c30" stroke-width="1.00"/>
<circle cx="118.53" cy="521.13" r="1.55" fill="#6a5a14"/><circle cx="118.53" cy="521.13" r="0.70" fill="#4a3a0a"/>
<circle cx="118.53" cy="510.97" r="1.80" fill="#c01a1a"/><circle cx="118.53" cy="510.97" r="0.80" fill="#701010"/>
<circle cx="118.53" cy="482.88" r="1.60" fill="#1ea41e"/><circle cx="118.53" cy="482.88" r="0.70" fill="#178a17"/>
<circle cx="118.53" cy="452.37" r="1.60" fill="#1ea41e"/><circle cx="118.53" cy="452.37" r="0.70" fill="#178a17"/>
<circle cx="118.53" cy="587.22" r="2.32" fill="none" stroke="#2626d8" stroke-width="1.40"/><circle cx="118.53" cy="587.22" r="0.90" fill="#8a5050"/>
<circle cx="118.53" cy="268.51" r="1.55" fill="#2a1a8a" stroke="#dc1c28" stroke-width="1.00"/>
<circle cx="118.53" cy="272.69" r="1.55" fill="#2a1a8a" stroke="#dc1c28" stroke-width="1.00"/>
<circle cx="118.53" cy="428.97" r="2.35" fill="none" stroke="#dc1c28" stroke-width="1.15"/><circle cx="118.53" cy="428.97" r="1.00" fill="#2a3a70"/>
<circle cx="118.53" cy="405.98" r="2.75" fill="none" stroke="#dc1c28" stroke-width="1.25"/><circle cx="118.53" cy="405.98" r="1.00" fill="#1a1a90"/>
<circle cx="118.53" cy="674.20" r="1.50" fill="#702050" stroke="#d01c30" stroke-width="1.00"/>
<circle cx="125.19" cy="521.28" r="1.55" fill="#6a5a14"/><circle cx="125.19" cy="521.28" r="0.70" fill="#4a3a0a"/>
<circle cx="125.19" cy="511.09" r="1.80" fill="#c01a1a"/><circle cx="125.19" cy="511.09" r="0.80" fill="#701010"/>
<circle cx="125.19" cy="484.99" r="1.60" fill="#1ea41e"/><circle cx="125.19" cy="484.99" r="0.70" fill="#178a17"/>
<circle cx="125.19" cy="452.51" r="1.60" fill="#1ea41e"/><circle cx="125.19" cy="452.51" r="0.70" fill="#178a17"/>
<circle cx="125.19" cy="587.16" r="2.33" fill="none" stroke="#2626d8" stroke-width="1.40"/><circle cx="125.19" cy="587.16" r="0.90" fill="#8a5050"/>
<circle cx="125.19" cy="269.66" r="1.55" fill="#2a1a8a" stroke="#dc1c28" stroke-width="1.00"/>
<circle cx="125.19" cy="272.99" r="1.55" fill="#2a1a8a" stroke="#dc1c28" stroke-width="1.00"/>
<circle cx="125.19" cy="427.63" r="2.35" fill="none" stroke="#dc1c28" stroke-width="1.15"/><circle cx="125.19" cy="427.63" r="1.00" fill="#2a3a70"/>
<circle cx="125.19" cy="406.08" r="2.75" fill="none" stroke="#dc1c28" stroke-width="1.25"/><circle cx="125.19" cy="406.08" r="1.00" fill="#1a1a90"/>
<circle cx="125.19" cy="677.00" r="1.50" fill="#702050" stroke="#d01c30" stroke-width="1.00"/>
<circle cx="131.84" cy="521.51" r="1.55" fill="#6a5a14"/><circle cx="131.84" cy="521.51" r="0.70" fill="#4a3a0a"/>
<circle cx="131.84" cy="511.18" r="1.80" fill="#c01a1a"/><circle cx="131.84" cy="511.18" r="0.80" fill="#701010"/>
<circle cx="131.84" cy="487.59" r="1.60" fill="#1ea41e"/><circle cx="131.84" cy="487.59" r="0.70" fill="#178a17"/>
<circle cx="131.84" cy="452.85" r="1.60" fill="#1ea41e"/><circle cx="131.84" cy="452.85" r="0.70" fill="#178a17"/>
<circle cx="131.84" cy="587.03" r="2.34" fill="none" stroke="#2626d8" stroke-width="1.40"/><circle cx="131.84" cy="587.03" r="0.90" fill="#8a5050"/>
<circle cx="131.84" cy="271.24" r="1.55" fill="#2a1a8a" stroke="#dc1c28" stroke-width="1.00"/>
<circle cx="131.84" cy="273.71" r="1.55" fill="#2a1a8a" stroke="#dc1c28" stroke-width="1.00"/>
<circle cx="131.84" cy="425.92" r="2.35" fill="none" stroke="#dc1c28" stroke-width="1.15"/><circle cx="131.84" cy="425.92" r="1.00" fill="#2a3a70"/>
<circle cx="131.84" cy="406.19" r="2.75" fill="none" stroke="#dc1c28" stroke-width="1.25"/><circle cx="131.84" cy="406.19" r="1.00" fill="#1a1a90"/>
<circle cx="131.84" cy="677.00" r="1.50" fill="#702050" stroke="#d01c30" stroke-width="1.00"/>
<circle cx="138.50" cy="521.90" r="1.55" fill="#6a5a14"/><circle cx="138.50" cy="521.90" r="0.70" fill="#4a3a0a"/>
<circle cx="138.50" cy="511.28" r="1.80" fill="#c01a1a"/><circle cx="138.50" cy="511.28" r="0.80" fill="#701010"/>
<circle cx="138.50" cy="490.40" r="1.60" fill="#1ea41e"/><circle cx="138.50" cy="490.40" r="0.70" fill="#178a17"/>
<circle cx="138.50" cy="488.40" r="1.60" fill="#6a5018"/><circle cx="138.50" cy="488.40" r="0.70" fill="#4a3010"/>
<circle cx="138.50" cy="453.43" r="1.60" fill="#1ea41e"/><circle cx="138.50" cy="453.43" r="0.70" fill="#178a17"/>
<circle cx="138.50" cy="586.80" r="2.35" fill="none" stroke="#2626d8" stroke-width="1.40"/><circle cx="138.50" cy="586.80" r="0.90" fill="#8a5050"/>
<circle cx="138.50" cy="273.20" r="1.55" fill="#2a1a8a" stroke="#dc1c28" stroke-width="1.00"/>
<circle cx="138.50" cy="274.36" r="1.55" fill="#2a1a8a" stroke="#dc1c28" stroke-width="1.00"/>
<circle cx="138.50" cy="423.90" r="2.35" fill="none" stroke="#dc1c28" stroke-width="1.15"/><circle cx="138.50" cy="423.90" r="1.00" fill="#2a3a70"/>
<circle cx="138.50" cy="406.33" r="2.75" fill="none" stroke="#dc1c28" stroke-width="1.25"/><circle cx="138.50" cy="406.33" r="1.00" fill="#1a1a90"/>
<circle cx="138.50" cy="677.00" r="1.50" fill="#702050" stroke="#d01c30" stroke-width="1.00"/>
<circle cx="145.15" cy="522.45" r="1.55" fill="#6a5a14"/><circle cx="145.15" cy="522.45" r="0.70" fill="#4a3a0a"/>
<circle cx="145.15" cy="511.38" r="1.80" fill="#c01a1a"/><circle cx="145.15" cy="511.38" r="0.80" fill="#701010"/>
<circle cx="145.15" cy="493.39" r="1.60" fill="#1ea41e"/><circle cx="145.15" cy="493.39" r="0.70" fill="#178a17"/>
<circle cx="145.15" cy="490.87" r="1.60" fill="#6a5018"/><circle cx="145.15" cy="490.87" r="0.70" fill="#4a3010"/>
<circle cx="145.15" cy="454.16" r="1.60" fill="#1ea41e"/><circle cx="145.15" cy="454.16" r="0.70" fill="#178a17"/>
<circle cx="145.15" cy="586.40" r="2.36" fill="none" stroke="#2626d8" stroke-width="1.40"/><circle cx="145.15" cy="586.40" r="0.90" fill="#8a5050"/>
<circle cx="145.15" cy="275.42" r="1.55" fill="#2a1a8a" stroke="#dc1c28" stroke-width="1.00"/>
<circle cx="145.15" cy="275.41" r="1.55" fill="#2a1a8a" stroke="#dc1c28" stroke-width="1.00"/>
<circle cx="145.15" cy="421.63" r="2.35" fill="none" stroke="#dc1c28" stroke-width="1.15"/><circle cx="145.15" cy="421.63" r="1.00" fill="#2a3a70"/>
<circle cx="145.15" cy="406.47" r="2.75" fill="none" stroke="#dc1c28" stroke-width="1.25"/><circle cx="145.15" cy="406.47" r="1.00" fill="#1a1a90"/>
<circle cx="145.15" cy="677.00" r="1.50" fill="#702050" stroke="#d01c30" stroke-width="1.00"/>
<circle cx="151.81" cy="523.11" r="1.40" fill="#4a8a18"/><circle cx="151.81" cy="523.11" r="0.60" fill="#2a6a10"/>
<circle cx="151.81" cy="511.51" r="1.80" fill="#c01a1a"/><circle cx="151.81" cy="511.51" r="0.80" fill="#701010"/>
<circle cx="151.81" cy="496.50" r="1.60" fill="#1ea41e"/><circle cx="151.81" cy="496.50" r="0.70" fill="#178a17"/>
<circle cx="151.81" cy="493.50" r="1.60" fill="#6a5018"/><circle cx="151.81" cy="493.50" r="0.70" fill="#4a3010"/>
<circle cx="151.81" cy="455.04" r="1.60" fill="#1ea41e"/><circle cx="151.81" cy="455.04" r="0.70" fill="#178a17"/>
<circle cx="151.81" cy="585.88" r="2.37" fill="none" stroke="#2626d8" stroke-width="1.40"/><circle cx="151.81" cy="585.88" r="0.90" fill="#8a5050"/>
<circle cx="151.81" cy="277.34" r="1.55" fill="#2a1a8a" stroke="#dc1c28" stroke-width="1.00"/>
<circle cx="151.81" cy="277.34" r="1.55" fill="#2a1a8a" stroke="#dc1c28" stroke-width="1.00"/>
<circle cx="151.81" cy="419.07" r="2.35" fill="none" stroke="#dc1c28" stroke-width="1.15"/><circle cx="151.81" cy="419.07" r="1.00" fill="#2a3a70"/>
<circle cx="151.81" cy="406.61" r="2.75" fill="none" stroke="#dc1c28" stroke-width="1.25"/><circle cx="151.81" cy="406.61" r="1.00" fill="#1a1a90"/>
<circle cx="151.81" cy="677.00" r="1.50" fill="#702050" stroke="#d01c30" stroke-width="1.00"/>
<circle cx="158.46" cy="523.91" r="1.40" fill="#4a8a18"/><circle cx="158.46" cy="523.91" r="0.60" fill="#2a6a10"/>
<circle cx="158.46" cy="511.69" r="1.80" fill="#c01a1a"/><circle cx="158.46" cy="511.69" r="0.80" fill="#701010"/>
<circle cx="158.46" cy="499.69" r="1.60" fill="#1ea41e"/><circle cx="158.46" cy="499.69" r="0.70" fill="#178a17"/>
<circle cx="158.46" cy="496.51" r="1.60" fill="#6a5018"/><circle cx="158.46" cy="496.51" r="0.70" fill="#4a3010"/>
<circle cx="158.46" cy="456.05" r="1.60" fill="#1ea41e"/><circle cx="158.46" cy="456.05" r="0.70" fill="#178a17"/>
<circle cx="158.46" cy="585.32" r="2.38" fill="none" stroke="#2626d8" stroke-width="1.40"/><circle cx="158.46" cy="585.32" r="0.90" fill="#8a5050"/>
<circle cx="158.46" cy="279.11" r="1.55" fill="#2a1a8a" stroke="#dc1c28" stroke-width="1.00"/>
<circle cx="158.46" cy="279.11" r="1.55" fill="#2a1a8a" stroke="#dc1c28" stroke-width="1.00"/>
<circle cx="158.46" cy="416.19" r="2.35" fill="none" stroke="#dc1c28" stroke-width="1.15"/><circle cx="158.46" cy="416.19" r="1.00" fill="#2a3a70"/>
<circle cx="158.46" cy="406.76" r="2.75" fill="none" stroke="#dc1c28" stroke-width="1.25"/><circle cx="158.46" cy="406.76" r="1.00" fill="#1a1a90"/>
<circle cx="158.46" cy="677.00" r="1.50" fill="#702050" stroke="#d01c30" stroke-width="1.00"/>
<circle cx="165.12" cy="524.92" r="1.40" fill="#4a8a18"/><circle cx="165.12" cy="524.92" r="0.60" fill="#2a6a10"/>
<circle cx="165.12" cy="512.01" r="1.80" fill="#c01a1a"/><circle cx="165.12" cy="512.01" r="0.80" fill="#701010"/>
<circle cx="165.12" cy="502.85" r="1.60" fill="#1ea41e"/><circle cx="165.12" cy="502.85" r="0.70" fill="#178a17"/>
<circle cx="165.12" cy="499.55" r="1.60" fill="#6a5018"/><circle cx="165.12" cy="499.55" r="0.70" fill="#4a3010"/>
<circle cx="165.12" cy="457.27" r="1.60" fill="#1ea41e"/><circle cx="165.12" cy="457.27" r="0.70" fill="#178a17"/>
<circle cx="165.12" cy="584.78" r="2.40" fill="none" stroke="#2626d8" stroke-width="1.40"/><circle cx="165.12" cy="584.78" r="0.90" fill="#8a5050"/>
<circle cx="165.12" cy="281.52" r="1.55" fill="#2a1a8a" stroke="#dc1c28" stroke-width="1.00"/>
<circle cx="165.12" cy="281.52" r="1.55" fill="#2a1a8a" stroke="#dc1c28" stroke-width="1.00"/>
<circle cx="165.12" cy="413.16" r="2.35" fill="none" stroke="#dc1c28" stroke-width="1.15"/><circle cx="165.12" cy="413.16" r="1.00" fill="#2a3a70"/>
<circle cx="165.12" cy="406.90" r="2.75" fill="none" stroke="#dc1c28" stroke-width="1.25"/><circle cx="165.12" cy="406.90" r="1.00" fill="#1a1a90"/>
<circle cx="165.12" cy="677.00" r="1.50" fill="#702050" stroke="#d01c30" stroke-width="1.00"/>
<circle cx="171.77" cy="526.35" r="1.40" fill="#4a8a18"/><circle cx="171.77" cy="526.35" r="0.60" fill="#2a6a10"/>
<circle cx="171.77" cy="512.84" r="1.80" fill="#c01a1a"/><circle cx="171.77" cy="512.84" r="0.80" fill="#701010"/>
<circle cx="171.77" cy="505.71" r="1.60" fill="#1ea41e"/><circle cx="171.77" cy="505.71" r="0.70" fill="#178a17"/>
<circle cx="171.77" cy="502.11" r="1.60" fill="#6a5018"/><circle cx="171.77" cy="502.11" r="0.70" fill="#4a3010"/>
<circle cx="171.77" cy="458.77" r="1.60" fill="#1ea41e"/><circle cx="171.77" cy="458.77" r="0.70" fill="#178a17"/>
<circle cx="171.77" cy="584.28" r="2.41" fill="none" stroke="#2626d8" stroke-width="1.40"/><circle cx="171.77" cy="584.28" r="0.90" fill="#8a5050"/>
<circle cx="171.77" cy="284.15" r="1.55" fill="#2a1a8a" stroke="#dc1c28" stroke-width="1.00"/>
<circle cx="171.77" cy="284.15" r="1.55" fill="#2a1a8a" stroke="#dc1c28" stroke-width="1.00"/>
<circle cx="171.77" cy="410.16" r="2.35" fill="none" stroke="#dc1c28" stroke-width="1.15"/><circle cx="171.77" cy="410.16" r="1.00" fill="#2a3a70"/>
<circle cx="171.77" cy="407.05" r="2.75" fill="none" stroke="#dc1c28" stroke-width="1.25"/><circle cx="171.77" cy="407.05" r="1.00" fill="#1a1a90"/>
<circle cx="171.77" cy="677.00" r="1.50" fill="#702050" stroke="#d01c30" stroke-width="1.00"/>
<circle cx="178.43" cy="528.03" r="1.40" fill="#4a8a18"/><circle cx="178.43" cy="528.03" r="0.60" fill="#2a6a10"/>
<circle cx="178.43" cy="513.94" r="1.80" fill="#c01a1a"/><circle cx="178.43" cy="513.94" r="0.80" fill="#701010"/>
<circle cx="178.43" cy="508.49" r="1.60" fill="#1ea41e"/><circle cx="178.43" cy="508.49" r="0.70" fill="#178a17"/>
<circle cx="178.43" cy="504.79" r="2.10" fill="#c81c1c"/><circle cx="178.43" cy="504.79" r="0.80" fill="#601010"/>
<circle cx="178.43" cy="460.46" r="1.60" fill="#1ea41e"/><circle cx="178.43" cy="460.46" r="0.70" fill="#178a17"/>
<circle cx="178.43" cy="583.78" r="2.42" fill="none" stroke="#2626d8" stroke-width="1.40"/><circle cx="178.43" cy="583.78" r="0.90" fill="#8a5050"/>
<circle cx="178.43" cy="286.78" r="1.55" fill="#2a1a8a" stroke="#dc1c28" stroke-width="1.00"/>
<circle cx="178.43" cy="286.78" r="1.55" fill="#2a1a8a" stroke="#dc1c28" stroke-width="1.00"/>
<circle cx="178.43" cy="406.46" r="2.35" fill="none" stroke="#dc1c28" stroke-width="1.15"/><circle cx="178.43" cy="406.46" r="1.00" fill="#2a3a70"/>
<circle cx="178.43" cy="407.20" r="2.75" fill="none" stroke="#dc1c28" stroke-width="1.25"/><circle cx="178.43" cy="407.20" r="1.00" fill="#1a1a90"/>
<circle cx="178.43" cy="677.00" r="1.50" fill="#702050" stroke="#d01c30" stroke-width="1.00"/>
<circle cx="185.08" cy="529.51" r="1.30" fill="#1ea41e"/><circle cx="185.08" cy="529.51" r="0.60" fill="#178a17"/>
<circle cx="185.08" cy="515.28" r="1.50" fill="#6a7a18"/><circle cx="185.08" cy="515.28" r="0.60" fill="#4a5a10"/>
<circle cx="185.08" cy="510.89" r="1.60" fill="#1ea41e"/><circle cx="185.08" cy="510.89" r="0.70" fill="#178a17"/>
<circle cx="185.08" cy="507.30" r="2.10" fill="#c81c1c"/><circle cx="185.08" cy="507.30" r="0.80" fill="#601010"/>
<circle cx="185.08" cy="462.23" r="1.60" fill="#1ea41e"/><circle cx="185.08" cy="462.23" r="0.70" fill="#178a17"/>
<circle cx="185.08" cy="583.28" r="2.43" fill="none" stroke="#2626d8" stroke-width="1.40"/><circle cx="185.08" cy="583.28" r="0.90" fill="#8a5050"/>
<circle cx="185.08" cy="289.12" r="1.55" fill="#2a1a8a" stroke="#dc1c28" stroke-width="1.00"/>
<circle cx="185.08" cy="289.12" r="1.55" fill="#2a1a8a" stroke="#dc1c28" stroke-width="1.00"/>
<circle cx="185.08" cy="402.24" r="2.35" fill="none" stroke="#dc1c28" stroke-width="1.15"/><circle cx="185.08" cy="402.24" r="1.00" fill="#2a3a70"/>
<circle cx="185.08" cy="407.36" r="2.75" fill="none" stroke="#dc1c28" stroke-width="1.25"/><circle cx="185.08" cy="407.36" r="1.00" fill="#1a1a90"/>
<circle cx="185.08" cy="677.00" r="1.50" fill="#702050" stroke="#d01c30" stroke-width="1.00"/>
<circle cx="191.74" cy="530.93" r="1.30" fill="#1ea41e"/><circle cx="191.74" cy="530.93" r="0.60" fill="#178a17"/>
<circle cx="191.74" cy="517.49" r="1.30" fill="#1ea41e"/><circle cx="191.74" cy="517.49" r="0.60" fill="#178a17"/>
<circle cx="191.74" cy="512.65" r="1.60" fill="#1ea41e"/><circle cx="191.74" cy="512.65" r="0.70" fill="#178a17"/>
<circle cx="191.74" cy="509.67" r="2.10" fill="#c81c1c"/><circle cx="191.74" cy="509.67" r="0.80" fill="#601010"/>
<circle cx="191.74" cy="464.17" r="1.60" fill="#1ea41e"/><circle cx="191.74" cy="464.17" r="0.70" fill="#178a17"/>
<circle cx="191.74" cy="582.77" r="2.44" fill="none" stroke="#2626d8" stroke-width="1.40"/><circle cx="191.74" cy="582.77" r="0.90" fill="#8a5050"/>
<circle cx="191.74" cy="292.16" r="1.55" fill="#2a1a8a" stroke="#dc1c28" stroke-width="1.00"/>
<circle cx="191.74" cy="292.16" r="1.55" fill="#2a1a8a" stroke="#dc1c28" stroke-width="1.00"/>
<circle cx="191.74" cy="398.67" r="2.35" fill="none" stroke="#dc1c28" stroke-width="1.15"/><circle cx="191.74" cy="398.67" r="1.00" fill="#2a3a70"/>
<circle cx="191.74" cy="407.52" r="2.75" fill="none" stroke="#dc1c28" stroke-width="1.25"/><circle cx="191.74" cy="407.52" r="1.00" fill="#1a1a90"/>
<circle cx="191.74" cy="677.00" r="1.50" fill="#702050" stroke="#d01c30" stroke-width="1.00"/>
<circle cx="198.39" cy="532.41" r="1.30" fill="#1ea41e"/><circle cx="198.39" cy="532.41" r="0.60" fill="#178a17"/>
<circle cx="198.39" cy="520.12" r="1.30" fill="#1ea41e"/><circle cx="198.39" cy="520.12" r="0.60" fill="#178a17"/>
<circle cx="198.39" cy="513.63" r="1.60" fill="#1ea41e"/><circle cx="198.39" cy="513.63" r="0.70" fill="#178a17"/>
<circle cx="198.39" cy="511.60" r="2.10" fill="#c81c1c"/><circle cx="198.39" cy="511.60" r="0.80" fill="#601010"/>
<circle cx="198.39" cy="466.34" r="1.60" fill="#1ea41e"/><circle cx="198.39" cy="466.34" r="0.70" fill="#178a17"/>
<circle cx="198.39" cy="582.26" r="2.45" fill="none" stroke="#2626d8" stroke-width="1.40"/><circle cx="198.39" cy="582.26" r="0.90" fill="#8a5050"/>
<circle cx="198.39" cy="294.88" r="1.55" fill="#2a1a8a" stroke="#dc1c28" stroke-width="1.00"/>
<circle cx="198.39" cy="294.88" r="1.55" fill="#2a1a8a" stroke="#dc1c28" stroke-width="1.00"/>
<circle cx="198.39" cy="394.93" r="2.35" fill="none" stroke="#dc1c28" stroke-width="1.15"/><circle cx="198.39" cy="394.93" r="1.00" fill="#2a3a70"/>
<circle cx="198.39" cy="407.67" r="2.75" fill="none" stroke="#dc1c28" stroke-width="1.25"/><circle cx="198.39" cy="407.67" r="1.00" fill="#1a1a90"/>
<circle cx="198.39" cy="677.00" r="1.50" fill="#702050" stroke="#d01c30" stroke-width="1.00"/>
<circle cx="205.05" cy="534.10" r="1.30" fill="#1ea41e"/><circle cx="205.05" cy="534.10" r="0.60" fill="#178a17"/>
<circle cx="205.05" cy="522.80" r="1.30" fill="#1ea41e"/><circle cx="205.05" cy="522.80" r="0.60" fill="#178a17"/>
<circle cx="205.05" cy="514.07" r="2.10" fill="#c81c1c"/><circle cx="205.05" cy="514.07" r="0.80" fill="#601010"/>
<circle cx="205.05" cy="468.69" r="1.60" fill="#1ea41e"/><circle cx="205.05" cy="468.69" r="0.70" fill="#178a17"/>
<circle cx="205.05" cy="581.78" r="2.46" fill="none" stroke="#2626d8" stroke-width="1.40"/><circle cx="205.05" cy="581.78" r="0.90" fill="#8a5050"/>
<circle cx="205.05" cy="298.02" r="1.55" fill="#2a1a8a" stroke="#dc1c28" stroke-width="1.00"/>
<circle cx="205.05" cy="298.02" r="1.55" fill="#2a1a8a" stroke="#dc1c28" stroke-width="1.00"/>
<circle cx="205.05" cy="390.75" r="2.35" fill="none" stroke="#dc1c28" stroke-width="1.15"/><circle cx="205.05" cy="390.75" r="1.00" fill="#2a3a70"/>
<circle cx="205.05" cy="407.83" r="2.75" fill="none" stroke="#dc1c28" stroke-width="1.25"/><circle cx="205.05" cy="407.83" r="1.00" fill="#1a1a90"/>
<circle cx="205.05" cy="677.00" r="1.50" fill="#702050" stroke="#d01c30" stroke-width="1.00"/>
<circle cx="211.70" cy="536.07" r="1.30" fill="#1ea41e"/><circle cx="211.70" cy="536.07" r="0.60" fill="#178a17"/>
<circle cx="211.70" cy="525.69" r="1.30" fill="#1ea41e"/><circle cx="211.70" cy="525.69" r="0.60" fill="#178a17"/>
<circle cx="211.70" cy="515.64" r="2.10" fill="#c81c1c"/><circle cx="211.70" cy="515.64" r="0.80" fill="#601010"/>
<circle cx="211.70" cy="471.24" r="1.60" fill="#1ea41e"/><circle cx="211.70" cy="471.24" r="0.70" fill="#178a17"/>
<circle cx="211.70" cy="581.36" r="2.48" fill="none" stroke="#2626d8" stroke-width="1.40"/><circle cx="211.70" cy="581.36" r="0.90" fill="#8a5050"/>
<circle cx="211.70" cy="301.81" r="1.55" fill="#2a1a8a" stroke="#dc1c28" stroke-width="1.00"/>
<circle cx="211.70" cy="301.81" r="1.55" fill="#2a1a8a" stroke="#dc1c28" stroke-width="1.00"/>
<circle cx="211.70" cy="386.88" r="2.35" fill="none" stroke="#dc1c28" stroke-width="1.15"/><circle cx="211.70" cy="386.88" r="1.00" fill="#2a3a70"/>
<circle cx="211.70" cy="407.97" r="2.75" fill="none" stroke="#dc1c28" stroke-width="1.25"/><circle cx="211.70" cy="407.97" r="1.00" fill="#1a1a90"/>
<circle cx="211.70" cy="677.00" r="1.50" fill="#702050" stroke="#d01c30" stroke-width="1.00"/>
<circle cx="218.36" cy="538.43" r="1.30" fill="#1ea41e"/><circle cx="218.36" cy="538.43" r="0.60" fill="#178a17"/>
<circle cx="218.36" cy="528.76" r="1.30" fill="#1ea41e"/><circle cx="218.36" cy="528.76" r="0.60" fill="#178a17"/>
<circle cx="218.36" cy="516.95" r="2.10" fill="#c81c1c"/><circle cx="218.36" cy="516.95" r="0.80" fill="#601010"/>
<circle cx="218.36" cy="473.90" r="1.60" fill="#1ea41e"/><circle cx="218.36" cy="473.90" r="0.70" fill="#178a17"/>
<circle cx="218.36" cy="580.97" r="2.49" fill="none" stroke="#2626d8" stroke-width="1.40"/><circle cx="218.36" cy="580.97" r="0.90" fill="#8a5050"/>
<circle cx="218.36" cy="305.24" r="1.55" fill="#2a1a8a" stroke="#dc1c28" stroke-width="1.00"/>
<circle cx="218.36" cy="305.24" r="1.55" fill="#2a1a8a" stroke="#dc1c28" stroke-width="1.00"/>
<circle cx="218.36" cy="382.84" r="2.35" fill="none" stroke="#dc1c28" stroke-width="1.15"/><circle cx="218.36" cy="382.84" r="1.00" fill="#2a3a70"/>
<circle cx="218.36" cy="408.10" r="2.75" fill="none" stroke="#dc1c28" stroke-width="1.25"/><circle cx="218.36" cy="408.10" r="1.00" fill="#1a1a90"/>
<circle cx="218.36" cy="677.00" r="1.50" fill="#702050" stroke="#d01c30" stroke-width="1.00"/>
<circle cx="225.01" cy="540.95" r="1.30" fill="#1ea41e"/><circle cx="225.01" cy="540.95" r="0.60" fill="#178a17"/>
<circle cx="225.01" cy="531.68" r="1.30" fill="#1ea41e"/><circle cx="225.01" cy="531.68" r="0.60" fill="#178a17"/>
<circle cx="225.01" cy="517.75" r="2.10" fill="#c81c1c"/><circle cx="225.01" cy="517.75" r="0.80" fill="#601010"/>
<circle cx="225.01" cy="476.59" r="1.60" fill="#1ea41e"/><circle cx="225.01" cy="476.59" r="0.70" fill="#178a17"/>
<circle cx="225.01" cy="580.59" r="2.50" fill="none" stroke="#2626d8" stroke-width="1.40"/><circle cx="225.01" cy="580.59" r="0.90" fill="#8a5050"/>
<circle cx="225.01" cy="308.48" r="1.55" fill="#2a1a8a" stroke="#dc1c28" stroke-width="1.00"/>
<circle cx="225.01" cy="308.48" r="1.55" fill="#2a1a8a" stroke="#dc1c28" stroke-width="1.00"/>
<circle cx="225.01" cy="378.62" r="2.35" fill="none" stroke="#dc1c28" stroke-width="1.15"/><circle cx="225.01" cy="378.62" r="1.00" fill="#2a3a70"/>
<circle cx="225.01" cy="408.21" r="2.75" fill="none" stroke="#dc1c28" stroke-width="1.25"/><circle cx="225.01" cy="408.21" r="1.00" fill="#1a1a90"/>
<circle cx="225.01" cy="677.00" r="1.50" fill="#702050" stroke="#d01c30" stroke-width="1.00"/>
<circle cx="231.67" cy="543.48" r="1.30" fill="#1ea41e"/><circle cx="231.67" cy="543.48" r="0.60" fill="#178a17"/>
<circle cx="231.67" cy="534.57" r="1.30" fill="#1ea41e"/><circle cx="231.67" cy="534.57" r="0.60" fill="#178a17"/>
<circle cx="231.67" cy="518.65" r="2.10" fill="#c81c1c"/><circle cx="231.67" cy="518.65" r="0.80" fill="#601010"/>
<circle cx="231.67" cy="479.31" r="1.60" fill="#1ea41e"/><circle cx="231.67" cy="479.31" r="0.70" fill="#178a17"/>
<circle cx="231.67" cy="580.20" r="2.51" fill="none" stroke="#2626d8" stroke-width="1.40"/><circle cx="231.67" cy="580.20" r="0.90" fill="#8a5050"/>
<circle cx="231.67" cy="311.55" r="1.55" fill="#2a1a8a" stroke="#dc1c28" stroke-width="1.00"/>
<circle cx="231.67" cy="311.55" r="1.55" fill="#2a1a8a" stroke="#dc1c28" stroke-width="1.00"/>
<circle cx="231.67" cy="374.95" r="2.35" fill="none" stroke="#dc1c28" stroke-width="1.15"/><circle cx="231.67" cy="374.95" r="1.00" fill="#2a3a70"/>
<circle cx="231.67" cy="408.29" r="2.75" fill="none" stroke="#dc1c28" stroke-width="1.25"/><circle cx="231.67" cy="408.29" r="1.00" fill="#1a1a90"/>
<circle cx="231.67" cy="677.00" r="1.50" fill="#702050" stroke="#d01c30" stroke-width="1.00"/>
<circle cx="238.32" cy="546.02" r="1.30" fill="#1ea41e"/><circle cx="238.32" cy="546.02" r="0.60" fill="#178a17"/>
<circle cx="238.32" cy="537.75" r="1.30" fill="#1ea41e"/><circle cx="238.32" cy="537.75" r="0.60" fill="#178a17"/>
<circle cx="238.32" cy="519.55" r="2.10" fill="#c81c1c"/><circle cx="238.32" cy="519.55" r="0.80" fill="#601010"/>
<circle cx="238.32" cy="482.03" r="1.60" fill="#1ea41e"/><circle cx="238.32" cy="482.03" r="0.70" fill="#178a17"/>
<circle cx="238.32" cy="579.82" r="2.52" fill="none" stroke="#2626d8" stroke-width="1.40"/><circle cx="238.32" cy="579.82" r="0.90" fill="#8a5050"/>
<circle cx="238.32" cy="314.49" r="1.55" fill="#2a1a8a" stroke="#dc1c28" stroke-width="1.00"/>
<circle cx="238.32" cy="314.49" r="1.55" fill="#2a1a8a" stroke="#dc1c28" stroke-width="1.00"/>
<circle cx="238.32" cy="371.14" r="2.35" fill="none" stroke="#dc1c28" stroke-width="1.15"/><circle cx="238.32" cy="371.14" r="1.00" fill="#2a3a70"/>
<circle cx="238.32" cy="408.33" r="2.75" fill="none" stroke="#dc1c28" stroke-width="1.25"/><circle cx="238.32" cy="408.33" r="1.00" fill="#1a1a90"/>
<circle cx="238.32" cy="677.00" r="1.50" fill="#702050" stroke="#d01c30" stroke-width="1.00"/>
<circle cx="244.98" cy="548.50" r="1.30" fill="#1ea41e"/><circle cx="244.98" cy="548.50" r="0.60" fill="#178a17"/>
<circle cx="244.98" cy="540.97" r="1.30" fill="#1ea41e"/><circle cx="244.98" cy="540.97" r="0.60" fill="#178a17"/>
<circle cx="244.98" cy="520.55" r="2.10" fill="#c81c1c"/><circle cx="244.98" cy="520.55" r="0.80" fill="#601010"/>
<circle cx="244.98" cy="484.82" r="1.60" fill="#1ea41e"/><circle cx="244.98" cy="484.82" r="0.70" fill="#178a17"/>
<circle cx="244.98" cy="579.49" r="2.53" fill="none" stroke="#2626d8" stroke-width="1.40"/><circle cx="244.98" cy="579.49" r="0.90" fill="#8a5050"/>
<circle cx="244.98" cy="317.34" r="1.55" fill="#2a1a8a" stroke="#dc1c28" stroke-width="1.00"/>
<circle cx="244.98" cy="317.34" r="1.55" fill="#2a1a8a" stroke="#dc1c28" stroke-width="1.00"/>
<circle cx="244.98" cy="367.76" r="2.35" fill="none" stroke="#dc1c28" stroke-width="1.15"/><circle cx="244.98" cy="367.76" r="1.00" fill="#2a3a70"/>
<circle cx="244.98" cy="408.37" r="2.75" fill="none" stroke="#dc1c28" stroke-width="1.25"/><circle cx="244.98" cy="408.37" r="1.00" fill="#1a1a90"/>
<circle cx="244.98" cy="677.00" r="1.50" fill="#702050" stroke="#d01c30" stroke-width="1.00"/>
<circle cx="251.63" cy="551.03" r="1.30" fill="#1ea41e"/><circle cx="251.63" cy="551.03" r="0.60" fill="#178a17"/>
<circle cx="251.63" cy="543.85" r="1.30" fill="#1ea41e"/><circle cx="251.63" cy="543.85" r="0.60" fill="#178a17"/>
<circle cx="251.63" cy="521.33" r="2.10" fill="#c81c1c"/><circle cx="251.63" cy="521.33" r="0.80" fill="#601010"/>
<circle cx="251.63" cy="487.75" r="1.60" fill="#1ea41e"/><circle cx="251.63" cy="487.75" r="0.70" fill="#178a17"/>
<circle cx="251.63" cy="579.19" r="2.54" fill="none" stroke="#2626d8" stroke-width="1.40"/><circle cx="251.63" cy="579.19" r="0.90" fill="#8a5050"/>
<circle cx="251.63" cy="319.88" r="1.55" fill="#2a1a8a" stroke="#dc1c28" stroke-width="1.00"/>
<circle cx="251.63" cy="319.88" r="1.55" fill="#2a1a8a" stroke="#dc1c28" stroke-width="1.00"/>
<circle cx="251.63" cy="364.34" r="2.35" fill="none" stroke="#dc1c28" stroke-width="1.15"/><circle cx="251.63" cy="364.34" r="1.00" fill="#2a3a70"/>
<circle cx="251.63" cy="408.41" r="2.75" fill="none" stroke="#dc1c28" stroke-width="1.25"/><circle cx="251.63" cy="408.41" r="1.00" fill="#1a1a90"/>
<circle cx="251.63" cy="677.00" r="1.50" fill="#702050" stroke="#d01c30" stroke-width="1.00"/>
<circle cx="258.29" cy="553.80" r="1.30" fill="#1ea41e"/><circle cx="258.29" cy="553.80" r="0.60" fill="#178a17"/>
<circle cx="258.29" cy="547.05" r="1.30" fill="#1ea41e"/><circle cx="258.29" cy="547.05" r="0.60" fill="#178a17"/>
<circle cx="258.29" cy="521.70" r="1.60" fill="#2a1a6a" stroke="#d01c28" stroke-width="1.10"/>
<circle cx="258.29" cy="490.77" r="1.60" fill="#1ea41e"/><circle cx="258.29" cy="490.77" r="0.70" fill="#178a17"/>
<circle cx="258.29" cy="578.92" r="2.55" fill="none" stroke="#2626d8" stroke-width="1.40"/><circle cx="258.29" cy="578.92" r="0.90" fill="#8a5050"/>
<circle cx="258.29" cy="322.02" r="1.55" fill="#2a1a8a" stroke="#dc1c28" stroke-width="1.00"/>
<circle cx="258.29" cy="322.02" r="1.55" fill="#2a1a8a" stroke="#dc1c28" stroke-width="1.00"/>
<circle cx="258.29" cy="361.18" r="2.35" fill="none" stroke="#dc1c28" stroke-width="1.15"/><circle cx="258.29" cy="361.18" r="1.00" fill="#2a3a70"/>
<circle cx="258.29" cy="408.47" r="2.75" fill="none" stroke="#dc1c28" stroke-width="1.25"/><circle cx="258.29" cy="408.47" r="1.00" fill="#1a1a90"/>
<circle cx="258.29" cy="677.00" r="1.50" fill="#702050" stroke="#d01c30" stroke-width="1.00"/>
<circle cx="264.94" cy="556.00" r="1.30" fill="#1ea41e"/><circle cx="264.94" cy="556.00" r="0.60" fill="#178a17"/>
<circle cx="264.94" cy="550.90" r="1.30" fill="#1ea41e"/><circle cx="264.94" cy="550.90" r="0.60" fill="#178a17"/>
<circle cx="264.94" cy="522.14" r="1.60" fill="#2a1a6a" stroke="#d01c28" stroke-width="1.10"/>
<circle cx="264.94" cy="493.90" r="1.60" fill="#1ea41e"/><circle cx="264.94" cy="493.90" r="0.70" fill="#178a17"/>
<circle cx="264.94" cy="578.66" r="2.56" fill="none" stroke="#2626d8" stroke-width="1.40"/><circle cx="264.94" cy="578.66" r="0.90" fill="#8a5050"/>
<circle cx="264.94" cy="324.07" r="1.55" fill="#2a1a8a" stroke="#dc1c28" stroke-width="1.00"/>
<circle cx="264.94" cy="324.07" r="1.55" fill="#2a1a8a" stroke="#dc1c28" stroke-width="1.00"/>
<circle cx="264.94" cy="358.45" r="2.35" fill="none" stroke="#dc1c28" stroke-width="1.15"/><circle cx="264.94" cy="358.45" r="1.00" fill="#2a3a70"/>
<circle cx="264.94" cy="408.52" r="2.75" fill="none" stroke="#dc1c28" stroke-width="1.25"/><circle cx="264.94" cy="408.52" r="1.00" fill="#1a1a90"/>
<circle cx="264.94" cy="677.00" r="1.50" fill="#702050" stroke="#d01c30" stroke-width="1.00"/>
<circle cx="271.60" cy="558.01" r="1.30" fill="#1ea41e"/><circle cx="271.60" cy="558.01" r="0.60" fill="#178a17"/>
<circle cx="271.60" cy="554.55" r="1.30" fill="#1ea41e"/><circle cx="271.60" cy="554.55" r="0.60" fill="#178a17"/>
<circle cx="271.60" cy="522.61" r="1.60" fill="#2a1a6a" stroke="#d01c28" stroke-width="1.10"/>
<circle cx="271.60" cy="496.87" r="1.60" fill="#1ea41e"/><circle cx="271.60" cy="496.87" r="0.70" fill="#178a17"/>
<circle cx="271.60" cy="578.41" r="2.58" fill="none" stroke="#2626d8" stroke-width="1.40"/><circle cx="271.60" cy="578.41" r="0.90" fill="#8a5050"/>
<circle cx="271.60" cy="326.20" r="1.55" fill="#2a1a8a" stroke="#dc1c28" stroke-width="1.00"/>
<circle cx="271.60" cy="326.20" r="1.55" fill="#2a1a8a" stroke="#dc1c28" stroke-width="1.00"/>
<circle cx="271.60" cy="355.60" r="2.45" fill="none" stroke="#dc1c28" stroke-width="1.20"/><circle cx="271.60" cy="355.60" r="1.35" fill="#1a1a90"/>
<circle cx="271.60" cy="408.58" r="2.75" fill="none" stroke="#dc1c28" stroke-width="1.25"/><circle cx="271.60" cy="408.58" r="1.00" fill="#1a1a90"/>
<circle cx="271.60" cy="677.00" r="1.50" fill="#702050" stroke="#d01c30" stroke-width="1.00"/>
<circle cx="278.25" cy="559.84" r="1.30" fill="#1ea41e"/><circle cx="278.25" cy="559.84" r="0.60" fill="#178a17"/>
<circle cx="278.25" cy="557.61" r="1.30" fill="#1ea41e"/><circle cx="278.25" cy="557.61" r="0.60" fill="#178a17"/>
<circle cx="278.25" cy="523.10" r="1.60" fill="#2a1a6a" stroke="#d01c28" stroke-width="1.10"/>
<circle cx="278.25" cy="499.68" r="1.60" fill="#1ea41e"/><circle cx="278.25" cy="499.68" r="0.70" fill="#178a17"/>
<circle cx="278.25" cy="578.16" r="2.59" fill="none" stroke="#2626d8" stroke-width="1.40"/><circle cx="278.25" cy="578.16" r="0.90" fill="#8a5050"/>
<circle cx="278.25" cy="328.09" r="1.55" fill="#2a1a8a" stroke="#dc1c28" stroke-width="1.00"/>
<circle cx="278.25" cy="328.09" r="1.55" fill="#2a1a8a" stroke="#dc1c28" stroke-width="1.00"/>
<circle cx="278.25" cy="353.81" r="2.45" fill="none" stroke="#dc1c28" stroke-width="1.20"/><circle cx="278.25" cy="353.81" r="1.35" fill="#1a1a90"/>
<circle cx="278.25" cy="408.63" r="2.75" fill="none" stroke="#dc1c28" stroke-width="1.25"/><circle cx="278.25" cy="408.63" r="1.00" fill="#1a1a90"/>
<circle cx="278.25" cy="677.00" r="1.50" fill="#702050" stroke="#d01c30" stroke-width="1.00"/>
<circle cx="284.90" cy="561.81" r="1.30" fill="#1ea41e"/><circle cx="284.90" cy="561.81" r="0.60" fill="#178a17"/>
<circle cx="284.90" cy="560.54" r="1.30" fill="#1ea41e"/><circle cx="284.90" cy="560.54" r="0.60" fill="#178a17"/>
<circle cx="284.90" cy="523.58" r="1.60" fill="#2a1a6a" stroke="#d01c28" stroke-width="1.10"/>
<circle cx="284.90" cy="502.12" r="1.60" fill="#1ea41e"/><circle cx="284.90" cy="502.12" r="0.70" fill="#178a17"/>
<circle cx="284.90" cy="577.92" r="2.60" fill="none" stroke="#2626d8" stroke-width="1.40"/><circle cx="284.90" cy="577.92" r="0.90" fill="#8a5050"/>
<circle cx="284.90" cy="329.47" r="2.05" fill="none" stroke="#dc1c28" stroke-width="1.10"/><circle cx="284.90" cy="329.47" r="0.90" fill="#6a6a90"/>
<circle cx="284.90" cy="329.47" r="2.05" fill="none" stroke="#dc1c28" stroke-width="1.10"/><circle cx="284.90" cy="329.47" r="0.90" fill="#6a6a90"/>
<circle cx="284.90" cy="352.09" r="2.45" fill="none" stroke="#dc1c28" stroke-width="1.20"/><circle cx="284.90" cy="352.09" r="1.35" fill="#1a1a90"/>
<circle cx="284.90" cy="408.68" r="2.75" fill="none" stroke="#dc1c28" stroke-width="1.25"/><circle cx="284.90" cy="408.68" r="1.00" fill="#1a1a90"/>
<circle cx="284.90" cy="677.00" r="1.50" fill="#702050" stroke="#d01c30" stroke-width="1.00"/>
<circle cx="291.56" cy="564.39" r="1.30" fill="#1ea41e"/><circle cx="291.56" cy="564.39" r="0.60" fill="#178a17"/>
<circle cx="291.56" cy="563.53" r="1.30" fill="#1ea41e"/><circle cx="291.56" cy="563.53" r="0.60" fill="#178a17"/>
<circle cx="291.56" cy="524.05" r="1.60" fill="#2a1a6a" stroke="#d01c28" stroke-width="1.10"/>
<circle cx="291.56" cy="504.69" r="1.60" fill="#1ea41e"/><circle cx="291.56" cy="504.69" r="0.70" fill="#178a17"/>
<circle cx="291.56" cy="577.68" r="2.61" fill="none" stroke="#2626d8" stroke-width="1.40"/><circle cx="291.56" cy="577.68" r="0.90" fill="#8a5050"/>
<circle cx="291.56" cy="330.02" r="2.05" fill="none" stroke="#dc1c28" stroke-width="1.10"/><circle cx="291.56" cy="330.02" r="0.90" fill="#6a6a90"/>
<circle cx="291.56" cy="330.02" r="2.05" fill="none" stroke="#dc1c28" stroke-width="1.10"/><circle cx="291.56" cy="330.02" r="0.90" fill="#6a6a90"/>
<circle cx="291.56" cy="350.93" r="2.45" fill="none" stroke="#dc1c28" stroke-width="1.20"/><circle cx="291.56" cy="350.93" r="1.35" fill="#1a1a90"/>
<circle cx="291.56" cy="408.74" r="2.75" fill="none" stroke="#dc1c28" stroke-width="1.25"/><circle cx="291.56" cy="408.74" r="1.00" fill="#1a1a90"/>
<circle cx="291.56" cy="677.00" r="1.50" fill="#702050" stroke="#d01c30" stroke-width="1.00"/>
<circle cx="298.22" cy="566.47" r="1.30" fill="#1ea41e"/><circle cx="298.22" cy="566.47" r="0.60" fill="#178a17"/>
<circle cx="298.22" cy="566.18" r="1.30" fill="#1ea41e"/><circle cx="298.22" cy="566.18" r="0.60" fill="#178a17"/>
<circle cx="298.22" cy="524.51" r="1.60" fill="#2a1a6a" stroke="#d01c28" stroke-width="1.10"/>
<circle cx="298.22" cy="506.94" r="1.60" fill="#1ea41e"/><circle cx="298.22" cy="506.94" r="0.70" fill="#178a17"/>
<circle cx="298.22" cy="577.45" r="2.62" fill="none" stroke="#2626d8" stroke-width="1.40"/><circle cx="298.22" cy="577.45" r="0.90" fill="#8a5050"/>
<circle cx="298.22" cy="330.25" r="2.05" fill="none" stroke="#dc1c28" stroke-width="1.10"/><circle cx="298.22" cy="330.25" r="0.90" fill="#6a6a90"/>
<circle cx="298.22" cy="330.25" r="2.05" fill="none" stroke="#dc1c28" stroke-width="1.10"/><circle cx="298.22" cy="330.25" r="0.90" fill="#6a6a90"/>
<circle cx="298.22" cy="350.37" r="2.45" fill="none" stroke="#dc1c28" stroke-width="1.20"/><circle cx="298.22" cy="350.37" r="1.35" fill="#1a1a90"/>
<circle cx="298.22" cy="408.79" r="2.75" fill="none" stroke="#dc1c28" stroke-width="1.25"/><circle cx="298.22" cy="408.79" r="1.00" fill="#1a1a90"/>
<circle cx="298.22" cy="677.00" r="1.50" fill="#702050" stroke="#d01c30" stroke-width="1.00"/>
<circle cx="304.87" cy="568.70" r="1.30" fill="#1ea41e"/><circle cx="304.87" cy="568.70" r="0.60" fill="#178a17"/>
<circle cx="304.87" cy="568.42" r="1.30" fill="#1ea41e"/><circle cx="304.87" cy="568.42" r="0.60" fill="#178a17"/>
<circle cx="304.87" cy="524.93" r="1.60" fill="#2a1a6a" stroke="#d01c28" stroke-width="1.10"/>
<circle cx="304.87" cy="509.15" r="1.60" fill="#1ea41e"/><circle cx="304.87" cy="509.15" r="0.70" fill="#178a17"/>
<circle cx="304.87" cy="577.22" r="2.63" fill="none" stroke="#2626d8" stroke-width="1.40"/><circle cx="304.87" cy="577.22" r="0.90" fill="#8a5050"/>
<circle cx="304.87" cy="330.38" r="2.05" fill="none" stroke="#dc1c28" stroke-width="1.10"/><circle cx="304.87" cy="330.38" r="0.90" fill="#6a6a90"/>
<circle cx="304.87" cy="330.38" r="2.05" fill="none" stroke="#dc1c28" stroke-width="1.10"/><circle cx="304.87" cy="330.38" r="0.90" fill="#6a6a90"/>
<circle cx="304.87" cy="350.20" r="2.45" fill="none" stroke="#dc1c28" stroke-width="1.20"/><circle cx="304.87" cy="350.20" r="1.35" fill="#1a1a90"/>
<circle cx="304.87" cy="408.84" r="2.75" fill="none" stroke="#dc1c28" stroke-width="1.25"/><circle cx="304.87" cy="408.84" r="1.00" fill="#1a1a90"/>
<circle cx="304.87" cy="677.00" r="1.50" fill="#702050" stroke="#d01c30" stroke-width="1.00"/>
<circle cx="311.53" cy="571.50" r="1.30" fill="#1ea41e"/><circle cx="311.53" cy="571.50" r="0.60" fill="#178a17"/>
<circle cx="311.53" cy="570.11" r="1.30" fill="#1ea41e"/><circle cx="311.53" cy="570.11" r="0.60" fill="#178a17"/>
<circle cx="311.53" cy="525.33" r="1.60" fill="#2a1a6a" stroke="#d01c28" stroke-width="1.10"/>
<circle cx="311.53" cy="510.85" r="1.60" fill="#1ea41e"/><circle cx="311.53" cy="510.85" r="0.70" fill="#178a17"/>
<circle cx="311.53" cy="577.01" r="2.64" fill="none" stroke="#2626d8" stroke-width="1.40"/><circle cx="311.53" cy="577.01" r="0.90" fill="#8a5050"/>
<circle cx="311.53" cy="330.38" r="2.05" fill="none" stroke="#dc1c28" stroke-width="1.10"/><circle cx="311.53" cy="330.38" r="0.90" fill="#6a6a90"/>
<circle cx="311.53" cy="330.38" r="2.05" fill="none" stroke="#dc1c28" stroke-width="1.10"/><circle cx="311.53" cy="330.38" r="0.90" fill="#6a6a90"/>
<circle cx="311.53" cy="350.25" r="2.45" fill="none" stroke="#dc1c28" stroke-width="1.20"/><circle cx="311.53" cy="350.25" r="1.35" fill="#1a1a90"/>
<circle cx="311.53" cy="408.88" r="2.75" fill="none" stroke="#dc1c28" stroke-width="1.25"/><circle cx="311.53" cy="408.88" r="1.00" fill="#1a1a90"/>
<circle cx="311.53" cy="677.00" r="1.50" fill="#702050" stroke="#d01c30" stroke-width="1.00"/>
<circle cx="318.18" cy="574.10" r="1.30" fill="#1ea41e"/><circle cx="318.18" cy="574.10" r="0.60" fill="#178a17"/>
<circle cx="318.18" cy="571.46" r="1.30" fill="#1ea41e"/><circle cx="318.18" cy="571.46" r="0.60" fill="#178a17"/>
<circle cx="318.18" cy="525.70" r="1.60" fill="#2a1a6a" stroke="#d01c28" stroke-width="1.10"/>
<circle cx="318.18" cy="512.34" r="1.60" fill="#1ea41e"/><circle cx="318.18" cy="512.34" r="0.70" fill="#178a17"/>
<circle cx="318.18" cy="576.79" r="2.65" fill="none" stroke="#2626d8" stroke-width="1.40"/><circle cx="318.18" cy="576.79" r="0.90" fill="#8a5050"/>
<circle cx="318.18" cy="330.32" r="2.05" fill="none" stroke="#dc1c28" stroke-width="1.10"/><circle cx="318.18" cy="330.32" r="0.90" fill="#6a6a90"/>
<circle cx="318.18" cy="330.32" r="2.05" fill="none" stroke="#dc1c28" stroke-width="1.10"/><circle cx="318.18" cy="330.32" r="0.90" fill="#6a6a90"/>
<circle cx="318.18" cy="350.37" r="2.45" fill="none" stroke="#dc1c28" stroke-width="1.20"/><circle cx="318.18" cy="350.37" r="1.35" fill="#1a1a90"/>
<circle cx="318.18" cy="408.93" r="2.75" fill="none" stroke="#dc1c28" stroke-width="1.25"/><circle cx="318.18" cy="408.93" r="1.00" fill="#1a1a90"/>
<circle cx="318.18" cy="677.00" r="1.50" fill="#702050" stroke="#d01c30" stroke-width="1.00"/>
<circle cx="324.84" cy="576.25" r="1.30" fill="#1ea41e"/><circle cx="324.84" cy="576.25" r="0.60" fill="#178a17"/>
<circle cx="324.84" cy="572.52" r="1.30" fill="#1ea41e"/><circle cx="324.84" cy="572.52" r="0.60" fill="#178a17"/>
<circle cx="324.84" cy="526.05" r="1.60" fill="#2a1a6a" stroke="#d01c28" stroke-width="1.10"/>
<circle cx="324.84" cy="513.63" r="1.60" fill="#1ea41e"/><circle cx="324.84" cy="513.63" r="0.70" fill="#178a17"/>
<circle cx="324.84" cy="576.58" r="2.67" fill="none" stroke="#2626d8" stroke-width="1.40"/><circle cx="324.84" cy="576.58" r="0.90" fill="#8a5050"/>
<circle cx="324.84" cy="330.25" r="2.05" fill="none" stroke="#dc1c28" stroke-width="1.10"/><circle cx="324.84" cy="330.25" r="0.90" fill="#6a6a90"/>
<circle cx="324.84" cy="330.25" r="2.05" fill="none" stroke="#dc1c28" stroke-width="1.10"/><circle cx="324.84" cy="330.25" r="0.90" fill="#6a6a90"/>
<circle cx="324.84" cy="350.50" r="2.45" fill="none" stroke="#dc1c28" stroke-width="1.20"/><circle cx="324.84" cy="350.50" r="1.35" fill="#1a1a90"/>
<circle cx="324.84" cy="408.97" r="2.75" fill="none" stroke="#dc1c28" stroke-width="1.25"/><circle cx="324.84" cy="408.97" r="1.00" fill="#1a1a90"/>
<circle cx="324.84" cy="677.00" r="1.50" fill="#702050" stroke="#d01c30" stroke-width="1.00"/>
<circle cx="331.49" cy="577.82" r="1.30" fill="#1ea41e"/><circle cx="331.49" cy="577.82" r="0.60" fill="#178a17"/>
<circle cx="331.49" cy="573.26" r="1.30" fill="#1ea41e"/><circle cx="331.49" cy="573.26" r="0.60" fill="#178a17"/>
<circle cx="331.49" cy="526.37" r="1.60" fill="#2a1a6a" stroke="#d01c28" stroke-width="1.10"/>
<circle cx="331.49" cy="514.24" r="1.60" fill="#1ea41e"/><circle cx="331.49" cy="514.24" r="0.70" fill="#178a17"/>
<circle cx="331.49" cy="576.38" r="2.68" fill="none" stroke="#2626d8" stroke-width="1.40"/><circle cx="331.49" cy="576.38" r="0.90" fill="#8a5050"/>
<circle cx="331.49" cy="330.14" r="2.05" fill="none" stroke="#dc1c28" stroke-width="1.10"/><circle cx="331.49" cy="330.14" r="0.90" fill="#6a6a90"/>
<circle cx="331.49" cy="330.14" r="2.05" fill="none" stroke="#dc1c28" stroke-width="1.10"/><circle cx="331.49" cy="330.14" r="0.90" fill="#6a6a90"/>
<circle cx="331.49" cy="350.66" r="2.45" fill="none" stroke="#dc1c28" stroke-width="1.20"/><circle cx="331.49" cy="350.66" r="1.35" fill="#1a1a90"/>
<circle cx="331.49" cy="409.01" r="2.75" fill="none" stroke="#dc1c28" stroke-width="1.25"/><circle cx="331.49" cy="409.01" r="1.00" fill="#1a1a90"/>
<circle cx="331.49" cy="677.00" r="1.50" fill="#702050" stroke="#d01c30" stroke-width="1.00"/>
<circle cx="338.14" cy="578.53" r="1.30" fill="#1ea41e"/><circle cx="338.14" cy="578.53" r="0.60" fill="#178a17"/>
<circle cx="338.14" cy="573.59" r="1.30" fill="#1ea41e"/><circle cx="338.14" cy="573.59" r="0.60" fill="#178a17"/>
<circle cx="338.14" cy="526.68" r="1.60" fill="#2a1a6a" stroke="#d01c28" stroke-width="1.10"/>
<circle cx="338.14" cy="514.61" r="1.60" fill="#1ea41e"/><circle cx="338.14" cy="514.61" r="0.70" fill="#178a17"/>
<circle cx="338.14" cy="576.19" r="2.69" fill="none" stroke="#2626d8" stroke-width="1.40"/><circle cx="338.14" cy="576.19" r="0.90" fill="#8a5050"/>
<circle cx="338.14" cy="330.02" r="2.05" fill="none" stroke="#dc1c28" stroke-width="1.10"/><circle cx="338.14" cy="330.02" r="0.90" fill="#6a6a90"/>
<circle cx="338.14" cy="330.02" r="2.05" fill="none" stroke="#dc1c28" stroke-width="1.10"/><circle cx="338.14" cy="330.02" r="0.90" fill="#6a6a90"/>
<circle cx="338.14" cy="350.83" r="2.45" fill="none" stroke="#dc1c28" stroke-width="1.20"/><circle cx="338.14" cy="350.83" r="1.35" fill="#1a1a90"/>
<circle cx="338.14" cy="409.05" r="2.75" fill="none" stroke="#dc1c28" stroke-width="1.25"/><circle cx="338.14" cy="409.05" r="1.00" fill="#1a1a90"/>
<circle cx="338.14" cy="677.00" r="1.50" fill="#702050" stroke="#d01c30" stroke-width="1.00"/>
<circle cx="344.80" cy="578.98" r="1.30" fill="#1ea41e"/><circle cx="344.80" cy="578.98" r="0.60" fill="#178a17"/>
<circle cx="344.80" cy="573.79" r="1.30" fill="#1ea41e"/><circle cx="344.80" cy="573.79" r="0.60" fill="#178a17"/>
<circle cx="344.80" cy="526.99" r="1.60" fill="#2a1a6a" stroke="#d01c28" stroke-width="1.10"/>
<circle cx="344.80" cy="514.60" r="1.60" fill="#1ea41e"/><circle cx="344.80" cy="514.60" r="0.70" fill="#178a17"/>
<circle cx="344.80" cy="576.01" r="2.70" fill="none" stroke="#2626d8" stroke-width="1.40"/><circle cx="344.80" cy="576.01" r="0.90" fill="#8a5050"/>
<circle cx="344.80" cy="329.90" r="2.05" fill="none" stroke="#dc1c28" stroke-width="1.10"/><circle cx="344.80" cy="329.90" r="0.90" fill="#6a6a90"/>
<circle cx="344.80" cy="329.90" r="2.05" fill="none" stroke="#dc1c28" stroke-width="1.10"/><circle cx="344.80" cy="329.90" r="0.90" fill="#6a6a90"/>
<circle cx="344.80" cy="351.00" r="2.45" fill="none" stroke="#dc1c28" stroke-width="1.20"/><circle cx="344.80" cy="351.00" r="1.35" fill="#1a1a90"/>
<circle cx="344.80" cy="409.10" r="2.75" fill="none" stroke="#dc1c28" stroke-width="1.25"/><circle cx="344.80" cy="409.10" r="1.00" fill="#1a1a90"/>
<circle cx="344.80" cy="677.00" r="1.50" fill="#702050" stroke="#d01c30" stroke-width="1.00"/>
</g>
<path d="M78.60,658.74 H74.30 M78.60,644.29 H75.90 M78.60,629.85 H75.90 M78.60,615.40 H75.90 M78.60,600.96 H74.30 M78.60,586.51 H75.90 M78.60,572.07 H75.90 M78.60,557.62 H75.90 M78.60,543.18 H74.30 M78.60,528.74 H75.90 M78.60,514.29 H75.90 M78.60,499.84 H75.90 M78.60,485.40 H74.30 M78.60,470.95 H75.90 M78.60,456.51 H75.90 M78.60,442.06 H75.90 M78.60,427.62 H74.30 M78.60,413.17 H75.90 M78.60,398.73 H75.90 M78.60,384.28 H75.90 M78.60,369.84 H74.30 M78.60,355.39 H75.90 M78.60,340.95 H75.90 M78.60,326.50 H75.90 M78.60,312.06 H74.30 M78.60,297.62 H75.90 M78.60,283.17 H75.90 M78.60,268.73 H75.90 M78.60,254.28 H74.30 M78.60,239.84 H75.90 M344.80,658.74 H349.10 M344.80,644.29 H347.50 M344.80,629.85 H347.50 M344.80,615.40 H347.50 M344.80,600.96 H349.10 M344.80,586.51 H347.50 M344.80,572.07 H347.50 M344.80,557.62 H347.50 M344.80,543.18 H349.10 M344.80,528.74 H347.50 M344.80,514.29 H347.50 M344.80,499.84 H347.50 M344.80,485.40 H349.10 M344.80,470.95 H347.50 M344.80,456.51 H347.50 M344.80,442.06 H347.50 M344.80,427.62 H349.10 M344.80,413.17 H347.50 M344.80,398.73 H347.50 M344.80,384.28 H347.50 M344.80,369.84 H349.10 M344.80,355.39 H347.50 M344.80,340.95 H347.50 M344.80,326.50 H347.50 M344.80,312.06 H349.10 M344.80,297.62 H347.50 M344.80,283.17 H347.50 M344.80,268.73 H347.50 M344.80,254.28 H349.10 M344.80,239.84 H347.50 M363.00,658.74 H358.70 M363.00,644.29 H360.30 M363.00,629.85 H360.30 M363.00,615.40 H360.30 M363.00,600.96 H358.70 M363.00,586.51 H360.30 M363.00,572.07 H360.30 M363.00,557.62 H360.30 M363.00,543.18 H358.70 M363.00,528.74 H360.30 M363.00,514.29 H360.30 M363.00,499.84 H360.30 M363.00,485.40 H358.70 M363.00,470.95 H360.30 M363.00,456.51 H360.30 M363.00,442.06 H360.30 M363.00,427.62 H358.70 M363.00,413.17 H360.30 M363.00,398.73 H360.30 M363.00,384.28 H360.30 M363.00,369.84 H358.70 M363.00,355.39 H360.30 M363.00,340.95 H360.30 M363.00,326.50 H360.30 M363.00,312.06 H358.70 M363.00,297.62 H360.30 M363.00,283.17 H360.30 M363.00,268.73 H360.30 M363.00,254.28 H358.70 M363.00,239.84 H360.30 M475.00,658.74 H479.30 M475.00,644.29 H477.70 M475.00,629.85 H477.70 M475.00,615.40 H477.70 M475.00,600.96 H479.30 M475.00,586.51 H477.70 M475.00,572.07 H477.70 M475.00,557.62 H477.70 M475.00,543.18 H479.30 M475.00,528.74 H477.70 M475.00,514.29 H477.70 M475.00,499.84 H477.70 M475.00,485.40 H479.30 M475.00,470.95 H477.70 M475.00,456.51 H477.70 M475.00,442.06 H477.70 M475.00,427.62 H479.30 M475.00,413.17 H477.70 M475.00,398.73 H477.70 M475.00,384.28 H477.70 M475.00,369.84 H479.30 M475.00,355.39 H477.70 M475.00,340.95 H477.70 M475.00,326.50 H477.70 M475.00,312.06 H479.30 M475.00,297.62 H477.70 M475.00,283.17 H477.70 M475.00,268.73 H477.70 M475.00,254.28 H479.30 M475.00,239.84 H477.70 M492.90,658.74 H488.60 M492.90,644.29 H490.20 M492.90,629.85 H490.20 M492.90,615.40 H490.20 M492.90,600.96 H488.60 M492.90,586.51 H490.20 M492.90,572.07 H490.20 M492.90,557.62 H490.20 M492.90,543.18 H488.60 M492.90,528.74 H490.20 M492.90,514.29 H490.20 M492.90,499.84 H490.20 M492.90,485.40 H488.60 M492.90,470.95 H490.20 M492.90,456.51 H490.20 M492.90,442.06 H490.20 M492.90,427.62 H488.60 M492.90,413.17 H490.20 M492.90,398.73 H490.20 M492.90,384.28 H490.20 M492.90,369.84 H488.60 M492.90,355.39 H490.20 M492.90,340.95 H490.20 M492.90,326.50 H490.20 M492.90,312.06 H488.60 M492.90,297.62 H490.20 M492.90,283.17 H490.20 M492.90,268.73 H490.20 M492.90,254.28 H488.60 M492.90,239.84 H490.20 M605.20,658.74 H609.50 M605.20,644.29 H607.90 M605.20,629.85 H607.90 M605.20,615.40 H607.90 M605.20,600.96 H609.50 M605.20,586.51 H607.90 M605.20,572.07 H607.90 M605.20,557.62 H607.90 M605.20,543.18 H609.50 M605.20,528.74 H607.90 M605.20,514.29 H607.90 M605.20,499.84 H607.90 M605.20,485.40 H609.50 M605.20,470.95 H607.90 M605.20,456.51 H607.90 M605.20,442.06 H607.90 M605.20,427.62 H609.50 M605.20,413.17 H607.90 M605.20,398.73 H607.90 M605.20,384.28 H607.90 M605.20,369.84 H609.50 M605.20,355.39 H607.90 M605.20,340.95 H607.90 M605.20,326.50 H607.90 M605.20,312.06 H609.50 M605.20,297.62 H607.90 M605.20,283.17 H607.90 M605.20,268.73 H607.90 M605.20,254.28 H609.50 M605.20,239.84 H607.90 M623.30,658.74 H619.00 M623.30,644.29 H620.60 M623.30,629.85 H620.60 M623.30,615.40 H620.60 M623.30,600.96 H619.00 M623.30,586.51 H620.60 M623.30,572.07 H620.60 M623.30,557.62 H620.60 M623.30,543.18 H619.00 M623.30,528.74 H620.60 M623.30,514.29 H620.60 M623.30,499.84 H620.60 M623.30,485.40 H619.00 M623.30,470.95 H620.60 M623.30,456.51 H620.60 M623.30,442.06 H620.60 M623.30,427.62 H619.00 M623.30,413.17 H620.60 M623.30,398.73 H620.60 M623.30,384.28 H620.60 M623.30,369.84 H619.00 M623.30,355.39 H620.60 M623.30,340.95 H620.60 M623.30,326.50 H620.60 M623.30,312.06 H619.00 M623.30,297.62 H620.60 M623.30,283.17 H620.60 M623.30,268.73 H620.60 M623.30,254.28 H619.00 M623.30,239.84 H620.60 M736.00,658.74 H740.30 M736.00,644.29 H738.70 M736.00,629.85 H738.70 M736.00,615.40 H738.70 M736.00,600.96 H740.30 M736.00,586.51 H738.70 M736.00,572.07 H738.70 M736.00,557.62 H738.70 M736.00,543.18 H740.30 M736.00,528.74 H738.70 M736.00,514.29 H738.70 M736.00,499.84 H738.70 M736.00,485.40 H740.30 M736.00,470.95 H738.70 M736.00,456.51 H738.70 M736.00,442.06 H738.70 M736.00,427.62 H740.30 M736.00,413.17 H738.70 M736.00,398.73 H738.70 M736.00,384.28 H738.70 M736.00,369.84 H740.30 M736.00,355.39 H738.70 M736.00,340.95 H738.70 M736.00,326.50 H738.70 M736.00,312.06 H740.30 M736.00,297.62 H738.70 M736.00,283.17 H738.70 M736.00,268.73 H738.70 M736.00,254.28 H740.30 M736.00,239.84 H738.70 " stroke="#161616" stroke-width="1.4" fill="none"/>
<path d="M391.00,673.00 V670.40 M391.00,225.50 V228.10 M419.00,673.00 V669.00 M419.00,225.50 V229.50 M447.00,673.00 V670.40 M447.00,225.50 V228.10 M520.98,673.00 V670.40 M520.98,225.50 V228.10 M549.05,673.00 V669.00 M549.05,225.50 V229.50 M577.12,673.00 V670.40 M577.12,225.50 V228.10 M637.39,673.00 V670.40 M637.39,225.50 V228.10 M651.47,673.00 V669.00 M651.47,225.50 V229.50 M665.56,673.00 V670.40 M665.56,225.50 V228.10 M679.65,673.00 V669.00 M679.65,225.50 V229.50 M693.74,673.00 V670.40 M693.74,225.50 V228.10 M707.83,673.00 V669.00 M707.83,225.50 V229.50 M721.91,673.00 V670.40 M721.91,225.50 V228.10 " stroke="#111" stroke-width="1.3" fill="none"/>
<rect x="78.6" y="225.5" width="266.2" height="447.5" fill="none" stroke="#161616" stroke-width="1.65"/>
<rect x="363.0" y="225.5" width="112.0" height="447.5" fill="none" stroke="#161616" stroke-width="1.65"/>
<rect x="492.9" y="225.5" width="112.3" height="447.5" fill="none" stroke="#161616" stroke-width="1.65"/>
<rect x="623.3" y="225.5" width="112.7" height="447.5" fill="none" stroke="#161616" stroke-width="1.65"/>
<text x="71.20" y="262.88" font-family="'Liberation Serif', serif" font-size="25.5" font-weight="normal" text-anchor="end" fill="#000" >1.6</text>
<text x="71.20" y="320.66" font-family="'Liberation Serif', serif" font-size="25.5" font-weight="normal" text-anchor="end" fill="#000" >1.2</text>
<text x="71.20" y="378.44" font-family="'Liberation Serif', serif" font-size="25.5" font-weight="normal" text-anchor="end" fill="#000" >0.8</text>
<text x="71.20" y="436.22" font-family="'Liberation Serif', serif" font-size="25.5" font-weight="normal" text-anchor="end" fill="#000" >0.4</text>
<text x="71.20" y="494.00" font-family="'Liberation Serif', serif" font-size="25.5" font-weight="normal" text-anchor="end" fill="#000" >0</text>
<text x="71.20" y="551.78" font-family="'Liberation Serif', serif" font-size="25.5" font-weight="normal" text-anchor="end" fill="#000" >-0.4</text>
<text x="71.20" y="609.56" font-family="'Liberation Serif', serif" font-size="25.5" font-weight="normal" text-anchor="end" fill="#000" >-0.8</text>
<text x="71.20" y="667.34" font-family="'Liberation Serif', serif" font-size="25.5" font-weight="normal" text-anchor="end" fill="#000" >-1.2</text>
<text x="0.00" y="0.00" font-family="'Liberation Serif', serif" font-size="24.5" font-weight="normal" text-anchor="middle" fill="#000" transform="translate(22.0,464.0) rotate(-90)" textLength="124" lengthAdjust="spacingAndGlyphs">Energy (eV)</text>
<path d="M73.9,682.8 H85.1 V684.9 H76.1 V701.8 H73.9 Z" fill="#000"/>
<text x="342.60" y="701.00" font-family="'Liberation Serif', serif" font-size="26" font-weight="normal" text-anchor="middle" fill="#000" >Y</text>
<text x="366.60" y="700.40" font-family="'Liberation Serif', serif" font-size="25.5" font-weight="normal" text-anchor="middle" fill="#000" >0</text>
<text x="422.60" y="700.40" font-family="'Liberation Serif', serif" font-size="25.5" font-weight="normal" text-anchor="middle" fill="#000" >1</text>
<text x="478.60" y="700.40" font-family="'Liberation Serif', serif" font-size="25.5" font-weight="normal" text-anchor="middle" fill="#000" >2</text>
<text x="496.50" y="700.40" font-family="'Liberation Serif', serif" font-size="25.5" font-weight="normal" text-anchor="middle" fill="#000" >0</text>
<text x="552.65" y="700.40" font-family="'Liberation Serif', serif" font-size="25.5" font-weight="normal" text-anchor="middle" fill="#000" >1</text>
<text x="608.80" y="700.40" font-family="'Liberation Serif', serif" font-size="25.5" font-weight="normal" text-anchor="middle" fill="#000" >2</text>
<text x="626.90" y="700.40" font-family="'Liberation Serif', serif" font-size="25.5" font-weight="normal" text-anchor="middle" fill="#000" >0</text>
<text x="655.07" y="700.40" font-family="'Liberation Serif', serif" font-size="25.5" font-weight="normal" text-anchor="middle" fill="#000" >2</text>
<text x="683.25" y="700.40" font-family="'Liberation Serif', serif" font-size="25.5" font-weight="normal" text-anchor="middle" fill="#000" >4</text>
<text x="711.43" y="700.40" font-family="'Liberation Serif', serif" font-size="25.5" font-weight="normal" text-anchor="middle" fill="#000" >6</text>
<text x="739.60" y="700.40" font-family="'Liberation Serif', serif" font-size="25.5" font-weight="normal" text-anchor="middle" fill="#000" >8</text>
<text x="464.00" y="734.70" font-family="'Liberation Serif', serif" font-size="25.5" font-weight="normal" text-anchor="start" fill="#000" >Density of states</text>
<text x="80.50" y="251.20" font-family="'Liberation Serif', serif" font-size="30" font-weight="normal" text-anchor="start" fill="#000" >(b)</text>
<text x="366.00" y="251.20" font-family="'Liberation Serif', serif" font-size="30" font-weight="normal" text-anchor="start" fill="#000" >(c)</text>
<text x="494.90" y="251.20" font-family="'Liberation Serif', serif" font-size="30" font-weight="normal" text-anchor="start" fill="#000" >(d)</text>
<text x="626.30" y="251.20" font-family="'Liberation Serif', serif" font-size="30" font-weight="normal" text-anchor="start" fill="#000" >(e)</text>
<text x="265.60" y="251.60" font-family="'Liberation Serif', serif" font-size="16" font-weight="bold" text-anchor="start" fill="#000" >W<tspan font-size="11.5" dy="3">edge</tspan></text>
<text x="270.00" y="277.70" font-family="'Liberation Serif', serif" font-size="16" font-weight="bold" text-anchor="start" fill="#000" textLength="33.6">S<tspan font-size="11.5" dy="3">edge</tspan></text>
<text x="276.80" y="305.40" font-family="'Liberation Serif', serif" font-size="16" font-weight="bold" text-anchor="start" fill="#000" >Ti</text>
<circle cx="320.5" cy="248.1" r="5.5" fill="none" stroke="#dc1c28" stroke-width="2"/>
<circle cx="320.5" cy="274.4" r="5.5" fill="none" stroke="#3c3cf0" stroke-width="2"/>
<circle cx="320.5" cy="300.8" r="5.5" fill="none" stroke="#5ef05e" stroke-width="2"/>
<text x="401.40" y="249.30" font-family="'Liberation Serif', serif" font-size="15" font-weight="normal" text-anchor="start" fill="#000" >dxy</text>
<line x1="432.2" y1="246.1" x2="466.6" y2="246.1" stroke="#000000" stroke-width="2.3"/>
<text x="401.40" y="266.35" font-family="'Liberation Serif', serif" font-size="15" font-weight="normal" text-anchor="start" fill="#000" >dyz</text>
<line x1="432.2" y1="263.2" x2="466.6" y2="263.2" stroke="#ff3a3a" stroke-width="2.3"/>
<text x="401.40" y="283.40" font-family="'Liberation Serif', serif" font-size="15" font-weight="normal" text-anchor="start" fill="#000" >dxz</text>
<line x1="432.2" y1="280.2" x2="466.6" y2="280.2" stroke="#3a3aff" stroke-width="2.3"/>
<text x="401.40" y="300.45" font-family="'Liberation Serif', serif" font-size="15" font-weight="normal" text-anchor="start" fill="#000" >dz<tspan font-size="9" dy="-4.3">2</tspan></text>
<line x1="432.2" y1="297.3" x2="466.6" y2="297.3" stroke="#12ea12" stroke-width="2.3"/>
<text x="424.80" y="317.50" font-family="'Liberation Serif', serif" font-size="15" font-weight="normal" text-anchor="end" fill="#000" >dx<tspan font-size="9" dy="-4.3">2</tspan><tspan dy="4.3">-y</tspan><tspan font-size="9" dy="-4.3">2</tspan></text>
<line x1="432.2" y1="314.3" x2="466.6" y2="314.3" stroke="#d6aef6" stroke-width="2.3"/>
<text x="531.30" y="249.30" font-family="'Liberation Serif', serif" font-size="15" font-weight="normal" text-anchor="start" fill="#000" >dxy</text>
<line x1="562.1" y1="246.1" x2="596.5" y2="246.1" stroke="#000000" stroke-width="2.3"/>
<text x="531.30" y="266.35" font-family="'Liberation Serif', serif" font-size="15" font-weight="normal" text-anchor="start" fill="#000" >dyz</text>
<line x1="562.1" y1="263.2" x2="596.5" y2="263.2" stroke="#ff3a3a" stroke-width="2.3"/>
<text x="531.30" y="283.40" font-family="'Liberation Serif', serif" font-size="15" font-weight="normal" text-anchor="start" fill="#000" >dxz</text>
<line x1="562.1" y1="280.2" x2="596.5" y2="280.2" stroke="#3a3aff" stroke-width="2.3"/>
<text x="531.30" y="300.45" font-family="'Liberation Serif', serif" font-size="15" font-weight="normal" text-anchor="start" fill="#000" >dz<tspan font-size="9" dy="-4.3">2</tspan></text>
<line x1="562.1" y1="297.3" x2="596.5" y2="297.3" stroke="#12ea12" stroke-width="2.3"/>
<text x="554.70" y="317.50" font-family="'Liberation Serif', serif" font-size="15" font-weight="normal" text-anchor="end" fill="#000" >dx<tspan font-size="9" dy="-4.3">2</tspan><tspan dy="4.3">-y</tspan><tspan font-size="9" dy="-4.3">2</tspan></text>
<line x1="562.1" y1="314.3" x2="596.5" y2="314.3" stroke="#d6aef6" stroke-width="2.3"/>
<text x="661.70" y="249.30" font-family="'Liberation Serif', serif" font-size="15" font-weight="normal" text-anchor="start" fill="#000" >dxy</text>
<line x1="692.5" y1="246.1" x2="726.9" y2="246.1" stroke="#000000" stroke-width="2.3"/>
<text x="661.70" y="266.35" font-family="'Liberation Serif', serif" font-size="15" font-weight="normal" text-anchor="start" fill="#000" >dyz</text>
<line x1="692.5" y1="263.2" x2="726.9" y2="263.2" stroke="#ff3a3a" stroke-width="2.3"/>
<text x="661.70" y="283.40" font-family="'Liberation Serif', serif" font-size="15" font-weight="normal" text-anchor="start" fill="#000" >dxz</text>
<line x1="692.5" y1="280.2" x2="726.9" y2="280.2" stroke="#3a3aff" stroke-width="2.3"/>
<text x="661.70" y="300.45" font-family="'Liberation Serif', serif" font-size="15" font-weight="normal" text-anchor="start" fill="#000" >dz<tspan font-size="9" dy="-4.3">2</tspan></text>
<line x1="692.5" y1="297.3" x2="726.9" y2="297.3" stroke="#12ea12" stroke-width="2.3"/>
<text x="685.10" y="317.50" font-family="'Liberation Serif', serif" font-size="15" font-weight="normal" text-anchor="end" fill="#000" >dx<tspan font-size="9" dy="-4.3">2</tspan><tspan dy="4.3">-y</tspan><tspan font-size="9" dy="-4.3">2</tspan></text>
<line x1="692.5" y1="314.3" x2="726.9" y2="314.3" stroke="#d6aef6" stroke-width="2.3"/>
<path d="M363.30,226.00 L362.58,259.11 L360.83,295.69 L358.67,333.65 L356.71,370.93 L355.58,405.42 L355.89,435.07 L358.26,457.79 L363.30,471.50 L365.56,473.48 L368.39,474.71 L371.54,475.36 L374.73,475.63 L377.70,475.69 L380.18,475.73 L381.90,475.94 L382.60,476.50 L382.30,477.13 L381.35,477.77 L379.92,478.43 L378.20,479.12 L376.36,479.85 L374.56,480.64 L372.98,481.48 L371.80,482.40 L371.08,483.22 L370.47,484.09 L369.93,485.00 L369.46,485.95 L369.05,486.93 L368.68,487.94 L368.33,488.96 L368.00,490.00 L367.68,491.17 L367.44,492.40 L367.24,493.67 L367.09,494.96 L366.95,496.26 L366.82,497.54 L366.68,498.79 L366.50,500.00 L366.32,501.05 L366.13,502.08 L365.94,503.09 L365.75,504.09 L365.55,505.08 L365.36,506.06 L365.18,507.03 L365.00,508.00 L364.78,508.91 L364.47,509.85 L364.12,510.79 L363.80,511.72 L363.55,512.61 L363.43,513.45 L363.50,514.22 L363.80,514.90 L364.88,515.76 L366.62,516.38 L368.84,516.80 L371.39,517.09 L374.10,517.31 L376.79,517.51 L379.32,517.76 L381.50,518.10 L383.19,518.42 L385.03,518.72 L386.90,519.02 L388.70,519.33 L390.30,519.65 L391.59,519.99 L392.47,520.37 L392.80,520.80 L392.33,521.31 L391.03,521.82 L389.10,522.35 L386.80,522.93 L384.34,523.57 L381.95,524.32 L379.86,525.19 L378.30,526.20 L377.35,527.17 L376.53,528.25 L375.83,529.40 L375.22,530.63 L374.70,531.91 L374.25,533.22 L373.86,534.56 L373.50,535.90 L373.18,537.40 L372.94,538.96 L372.79,540.57 L372.72,542.21 L372.71,543.87 L372.76,545.53 L372.86,547.18 L373.00,548.80 L373.17,550.45 L373.37,552.15 L373.61,553.87 L373.92,555.57 L374.31,557.23 L374.79,558.83 L375.38,560.32 L376.10,561.70 L376.92,562.89 L377.89,564.02 L378.97,565.09 L380.12,566.09 L381.32,567.02 L382.52,567.87 L383.69,568.63 L384.80,569.30 L385.70,569.74 L386.73,570.10 L387.80,570.41 L388.84,570.68 L389.78,570.91 L390.53,571.14 L391.03,571.36 L391.20,571.60 L390.63,571.98 L389.14,572.31 L386.97,572.60 L384.36,572.88 L381.52,573.16 L378.69,573.45 L376.11,573.75 L374.00,574.10 L372.68,574.31 L371.38,574.44 L370.11,574.54 L368.89,574.67 L367.75,574.88 L366.70,575.22 L365.78,575.74 L365.00,576.50 L364.13,578.38 L363.69,581.00 L363.58,584.15 L363.70,587.60 L363.96,591.14 L364.26,594.53 L364.51,597.56 L364.60,600.00 L364.56,601.09 L364.47,602.10 L364.37,603.05 L364.28,603.93 L364.22,604.76 L364.24,605.54 L364.36,606.29 L364.60,607.00 L365.01,607.61 L365.61,608.16 L366.33,608.66 L367.09,609.13 L367.82,609.58 L368.45,610.03 L368.90,610.50 L369.10,611.00 L369.03,611.46 L368.76,611.90 L368.34,612.32 L367.84,612.76 L367.30,613.23 L366.78,613.75 L366.33,614.33 L366.00,615.00 L365.67,616.41 L365.49,618.11 L365.43,620.04 L365.47,622.09 L365.58,624.19 L365.72,626.27 L365.87,628.23 L366.00,630.00 L366.14,631.28 L366.36,632.54 L366.63,633.77 L366.90,634.96 L367.13,636.11 L367.29,637.20 L367.32,638.23 L367.20,639.20 L366.96,639.87 L366.61,640.44 L366.19,640.94 L365.72,641.43 L365.23,641.93 L364.76,642.50 L364.34,643.18 L364.00,644.00 L363.49,646.35 L363.21,649.31 L363.10,652.74 L363.10,656.50 L363.18,660.45 L363.27,664.44 L363.33,668.34 L363.30,672.00" fill="none" stroke="#111111" stroke-width="1.5" stroke-linejoin="round" clip-path="url(#c0)"/>
<path d="M363.30,650.80 L364.91,651.29 L366.71,651.74 L368.57,652.19 L370.40,652.63 L372.09,653.11 L373.52,653.63 L374.60,654.22 L375.20,654.90 L375.25,655.35 L375.08,655.84 L374.76,656.36 L374.36,656.89 L373.97,657.42 L373.66,657.94 L373.51,658.44 L373.60,658.90 L375.23,659.92 L378.54,660.77 L382.95,661.50 L387.86,662.13 L392.70,662.72 L396.87,663.28 L399.80,663.86 L400.90,664.50 L399.45,665.26 L395.61,666.00 L390.14,666.72 L383.78,667.44 L377.26,668.16 L371.33,668.91 L366.73,669.68 L364.20,670.50 L363.97,670.68 L363.80,670.87 L363.68,671.06 L363.59,671.25 L363.53,671.43 L363.47,671.62 L363.40,671.81 L363.30,672.00" fill="none" stroke="#e81c1c" stroke-width="1.5" stroke-linejoin="round" clip-path="url(#c0)"/>
<path d="M363.30,226.00 L363.26,230.74 L363.16,235.81 L363.03,241.02 L362.92,246.16 L362.86,251.04 L362.87,255.44 L363.01,259.16 L363.30,262.00 L363.47,262.79 L363.70,263.46 L363.95,264.05 L364.21,264.57 L364.45,265.06 L364.64,265.53 L364.77,266.00 L364.80,266.50 L364.74,266.92 L364.60,267.28 L364.42,267.60 L364.19,267.93 L363.95,268.30 L363.71,268.74 L363.49,269.30 L363.30,270.00 L362.34,280.18 L361.59,298.69 L361.08,322.72 L360.84,349.49 L360.91,376.19 L361.32,400.04 L362.10,418.24 L363.30,428.00 L363.54,428.60 L363.83,429.07 L364.15,429.43 L364.46,429.73 L364.75,429.98 L364.98,430.23 L365.14,430.49 L365.20,430.80 L365.13,431.12 L364.96,431.42 L364.71,431.70 L364.41,431.99 L364.09,432.29 L363.78,432.64 L363.50,433.04 L363.30,433.50 L362.92,434.75 L362.49,436.35 L362.08,438.21 L361.79,440.20 L361.68,442.22 L361.84,444.17 L362.36,445.93 L363.30,447.40 L368.06,449.70 L376.36,451.14 L386.90,451.92 L398.41,452.24 L409.60,452.29 L419.18,452.27 L425.88,452.37 L428.40,452.80 L427.19,453.22 L423.93,453.55 L419.18,453.85 L413.47,454.15 L407.38,454.53 L401.45,455.03 L396.24,455.70 L392.30,456.60 L390.53,457.22 L388.87,457.89 L387.34,458.60 L385.93,459.35 L384.63,460.17 L383.47,461.04 L382.42,461.98 L381.50,463.00 L380.83,463.93 L380.29,464.92 L379.86,465.96 L379.50,467.04 L379.21,468.16 L378.96,469.31 L378.73,470.50 L378.50,471.70 L378.25,473.19 L378.06,474.76 L377.92,476.39 L377.82,478.06 L377.77,479.74 L377.75,481.41 L377.76,483.04 L377.80,484.60 L377.86,485.97 L377.94,487.34 L378.06,488.70 L378.20,490.03 L378.37,491.34 L378.56,492.61 L378.77,493.83 L379.00,495.00 L379.18,495.91 L379.33,496.79 L379.49,497.64 L379.67,498.47 L379.89,499.27 L380.17,500.05 L380.54,500.79 L381.00,501.50 L381.68,502.29 L382.48,503.03 L383.39,503.72 L384.38,504.36 L385.45,504.99 L386.59,505.59 L387.78,506.19 L389.00,506.80 L391.06,507.64 L393.65,508.47 L396.52,509.28 L399.43,510.07 L402.10,510.82 L404.31,511.53 L405.79,512.19 L406.30,512.80 L405.05,513.51 L401.84,514.09 L397.21,514.57 L391.71,514.97 L385.87,515.34 L380.25,515.69 L375.37,516.07 L371.80,516.50 L370.51,516.68 L369.27,516.81 L368.10,516.91 L367.03,517.03 L366.08,517.19 L365.27,517.43 L364.64,517.79 L364.20,518.30 L364.06,519.06 L364.28,520.03 L364.76,521.14 L365.37,522.34 L366.02,523.56 L366.57,524.75 L366.94,525.85 L367.00,526.80 L366.82,527.39 L366.52,527.88 L366.12,528.32 L365.66,528.74 L365.18,529.18 L364.72,529.68 L364.32,530.27 L364.00,531.00 L363.49,533.26 L363.13,536.28 L362.90,539.82 L362.82,543.62 L362.88,547.43 L363.10,551.00 L363.47,554.07 L364.00,556.40 L364.38,557.24 L364.89,557.96 L365.47,558.59 L366.06,559.15 L366.62,559.66 L367.09,560.16 L367.40,560.67 L367.50,561.20 L367.38,561.67 L367.09,562.07 L366.67,562.44 L366.17,562.81 L365.64,563.22 L365.12,563.70 L364.66,564.28 L364.30,565.00 L363.72,567.63 L363.47,571.15 L363.46,575.37 L363.62,580.09 L363.88,585.11 L364.17,590.24 L364.40,595.27 L364.50,600.00 L364.49,605.08 L364.44,610.53 L364.37,616.15 L364.30,621.75 L364.26,627.13 L364.27,632.09 L364.34,636.45 L364.50,640.00 L364.63,641.32 L364.81,642.53 L365.02,643.63 L365.23,644.63 L365.41,645.56 L365.55,646.42 L365.63,647.23 L365.60,648.00 L365.53,648.43 L365.41,648.79 L365.27,649.11 L365.11,649.42 L364.95,649.73 L364.78,650.08 L364.63,650.50 L364.50,651.00 L364.24,652.71 L364.04,654.90 L363.88,657.47 L363.75,660.30 L363.65,663.28 L363.55,666.30 L363.43,669.24 L363.30,672.00" fill="none" stroke="#22e622" stroke-width="1.5" stroke-linejoin="round" clip-path="url(#c0)"/>
<path d="M363.30,226.00 L362.74,255.88 L361.37,288.92 L359.68,323.22 L358.15,356.89 L357.27,388.03 L357.51,414.76 L359.36,435.18 L363.30,447.40 L364.82,448.96 L366.72,449.99 L368.80,450.62 L370.91,450.98 L372.87,451.20 L374.51,451.41 L375.64,451.73 L376.10,452.30 L375.76,453.01 L374.74,453.74 L373.24,454.49 L371.46,455.27 L369.59,456.09 L367.82,456.95 L366.36,457.85 L365.40,458.80 L365.02,459.51 L364.76,460.25 L364.61,461.02 L364.54,461.81 L364.52,462.60 L364.53,463.41 L364.53,464.21 L364.50,465.00 L364.41,465.82 L364.27,466.67 L364.12,467.54 L364.00,468.40 L363.95,469.25 L364.00,470.06 L364.21,470.81 L364.60,471.50 L366.00,472.45 L368.30,473.17 L371.17,473.71 L374.27,474.17 L377.30,474.60 L379.91,475.08 L381.78,475.69 L382.60,476.50 L382.33,477.30 L381.36,478.13 L379.89,479.01 L378.10,479.95 L376.21,480.96 L374.39,482.06 L372.86,483.27 L371.80,484.60 L371.14,486.24 L370.75,488.13 L370.55,490.19 L370.52,492.33 L370.58,494.46 L370.68,496.50 L370.77,498.38 L370.80,500.00 L370.76,500.87 L370.67,501.70 L370.58,502.47 L370.51,503.21 L370.49,503.91 L370.54,504.57 L370.70,505.20 L371.00,505.80 L371.72,506.48 L372.83,507.05 L374.17,507.55 L375.61,508.00 L377.00,508.44 L378.19,508.90 L379.04,509.41 L379.40,510.00 L379.17,510.68 L378.43,511.36 L377.33,512.06 L376.00,512.81 L374.59,513.60 L373.25,514.47 L372.10,515.43 L371.30,516.50 L370.77,517.83 L370.45,519.25 L370.32,520.77 L370.30,522.39 L370.36,524.12 L370.45,525.97 L370.51,527.92 L370.50,530.00 L370.28,534.24 L369.91,539.38 L369.49,545.06 L369.14,550.97 L368.95,556.78 L369.05,562.16 L369.53,566.78 L370.50,570.30 L371.34,571.66 L372.50,572.81 L373.83,573.79 L375.19,574.65 L376.46,575.41 L377.49,576.11 L378.15,576.80 L378.30,577.50 L377.71,578.17 L376.41,578.57 L374.60,578.83 L372.47,579.06 L370.20,579.41 L367.99,580.00 L366.03,580.95 L364.50,582.40 L362.11,588.32 L360.90,597.04 L360.61,607.92 L360.97,620.30 L361.69,633.55 L362.50,647.01 L363.13,660.05 L363.30,672.00" fill="none" stroke="#b890ec" stroke-width="1.5" stroke-linejoin="round" clip-path="url(#c0)"/>
<path d="M493.10,226.00 L492.24,255.70 L490.15,288.31 L487.57,322.07 L485.23,355.25 L483.88,386.12 L484.25,412.92 L487.08,433.93 L493.10,447.40 L497.05,450.36 L502.22,452.07 L508.06,452.83 L514.04,452.94 L519.62,452.69 L524.29,452.37 L527.49,452.27 L528.70,452.70 L527.83,453.32 L525.47,453.87 L522.03,454.42 L517.96,455.00 L513.69,455.67 L509.65,456.48 L506.28,457.47 L504.00,458.70 L503.17,459.55 L502.52,460.50 L502.01,461.52 L501.62,462.58 L501.33,463.66 L501.09,464.72 L500.89,465.74 L500.70,466.70 L500.53,467.42 L500.35,468.15 L500.18,468.87 L500.05,469.58 L500.00,470.25 L500.03,470.89 L500.19,471.48 L500.50,472.00 L501.46,472.69 L502.96,473.19 L504.85,473.53 L506.96,473.77 L509.16,473.96 L511.28,474.14 L513.18,474.37 L514.70,474.70 L515.48,474.93 L516.29,475.15 L517.07,475.38 L517.80,475.61 L518.43,475.85 L518.93,476.11 L519.27,476.39 L519.40,476.70 L519.13,477.17 L518.35,477.66 L517.21,478.20 L515.84,478.77 L514.37,479.37 L512.93,480.01 L511.67,480.69 L510.70,481.40 L510.11,481.99 L509.59,482.61 L509.11,483.24 L508.69,483.90 L508.31,484.59 L507.97,485.30 L507.67,486.03 L507.40,486.80 L507.15,487.73 L506.97,488.71 L506.85,489.74 L506.78,490.80 L506.74,491.88 L506.72,492.94 L506.71,493.99 L506.70,495.00 L506.67,495.92 L506.62,496.84 L506.58,497.76 L506.55,498.66 L506.56,499.55 L506.63,500.41 L506.77,501.23 L507.00,502.00 L507.28,502.66 L507.62,503.29 L508.00,503.89 L508.44,504.46 L508.92,505.02 L509.46,505.55 L510.05,506.08 L510.70,506.60 L511.94,507.33 L513.58,508.02 L515.45,508.67 L517.37,509.30 L519.16,509.91 L520.65,510.51 L521.66,511.10 L522.00,511.70 L521.12,512.47 L518.90,513.17 L515.73,513.82 L512.03,514.48 L508.19,515.16 L504.64,515.90 L501.77,516.74 L500.00,517.70 L499.60,518.14 L499.32,518.58 L499.13,519.03 L499.00,519.49 L498.92,519.98 L498.86,520.50 L498.80,521.07 L498.70,521.70 L498.51,522.98 L498.36,524.47 L498.26,526.11 L498.18,527.85 L498.12,529.66 L498.08,531.49 L498.04,533.28 L498.00,535.00 L497.91,536.73 L497.74,538.56 L497.56,540.42 L497.40,542.26 L497.32,544.04 L497.36,545.69 L497.57,547.16 L498.00,548.40 L498.51,549.11 L499.22,549.68 L500.04,550.15 L500.91,550.57 L501.76,550.96 L502.50,551.38 L503.07,551.84 L503.40,552.40 L503.44,552.99 L503.26,553.63 L502.94,554.31 L502.54,555.00 L502.12,555.70 L501.74,556.39 L501.48,557.06 L501.40,557.70 L501.50,558.23 L501.73,558.73 L502.04,559.22 L502.39,559.69 L502.74,560.18 L503.05,560.68 L503.29,561.22 L503.40,561.80 L503.34,562.70 L503.07,563.72 L502.68,564.81 L502.20,565.93 L501.71,567.04 L501.25,568.08 L500.90,569.01 L500.70,569.80 L500.66,570.13 L500.63,570.42 L500.62,570.69 L500.62,570.93 L500.64,571.18 L500.68,571.43 L500.73,571.70 L500.80,572.00 L501.00,572.54 L501.33,573.12 L501.73,573.75 L502.16,574.40 L502.55,575.06 L502.86,575.72 L503.03,576.37 L503.00,577.00 L502.53,577.82 L501.61,578.63 L500.39,579.44 L499.04,580.24 L497.71,581.03 L496.57,581.83 L495.78,582.61 L495.50,583.40 L495.88,584.21 L496.83,585.02 L498.16,585.83 L499.69,586.63 L501.23,587.43 L502.59,588.22 L503.58,589.01 L504.00,589.80 L503.91,590.39 L503.54,590.94 L502.99,591.48 L502.31,592.02 L501.57,592.59 L500.87,593.19 L500.25,593.86 L499.80,594.60 L499.38,595.71 L499.03,596.98 L498.75,598.35 L498.55,599.79 L498.44,601.25 L498.42,602.69 L498.50,604.05 L498.70,605.30 L499.05,606.34 L499.62,607.36 L500.31,608.35 L501.05,609.30 L501.77,610.22 L502.38,611.10 L502.82,611.93 L503.00,612.70 L502.94,613.17 L502.75,613.61 L502.49,614.02 L502.18,614.41 L501.87,614.80 L501.61,615.19 L501.44,615.59 L501.40,616.00 L501.56,616.51 L501.91,617.02 L502.39,617.54 L502.93,618.05 L503.49,618.58 L503.99,619.11 L504.38,619.65 L504.60,620.20 L504.64,620.70 L504.57,621.19 L504.43,621.68 L504.24,622.19 L504.03,622.70 L503.83,623.24 L503.68,623.80 L503.60,624.40 L503.57,625.30 L503.58,626.29 L503.62,627.33 L503.71,628.42 L503.86,629.51 L504.07,630.59 L504.35,631.62 L504.70,632.60 L505.26,633.55 L506.05,634.46 L506.98,635.35 L507.94,636.21 L508.84,637.06 L509.58,637.90 L510.07,638.75 L510.20,639.60 L509.77,640.60 L508.77,641.60 L507.40,642.59 L505.83,643.59 L504.25,644.57 L502.85,645.53 L501.81,646.48 L501.30,647.40 L501.31,647.99 L501.54,648.58 L501.91,649.17 L502.36,649.75 L502.82,650.31 L503.23,650.86 L503.51,651.39 L503.60,651.90 L503.50,652.30 L503.29,652.67 L502.99,653.04 L502.65,653.39 L502.31,653.73 L502.01,654.08 L501.80,654.44 L501.70,654.80 L501.74,655.16 L501.89,655.52 L502.11,655.88 L502.37,656.24 L502.64,656.61 L502.89,656.99 L503.09,657.39 L503.20,657.80 L503.25,658.30 L503.27,658.81 L503.25,659.34 L503.18,659.89 L503.07,660.45 L502.90,661.02 L502.68,661.61 L502.40,662.20 L501.72,663.26 L500.78,664.37 L499.65,665.53 L498.38,666.71 L497.03,667.92 L495.66,669.12 L494.33,670.32 L493.10,671.50" fill="none" stroke="#111111" stroke-width="1.5" stroke-linejoin="round" clip-path="url(#c1)"/>
<path d="M493.10,651.10 L493.46,651.56 L493.86,652.01 L494.27,652.45 L494.67,652.90 L495.04,653.35 L495.37,653.82 L495.63,654.30 L495.80,654.80 L495.84,655.33 L495.75,655.88 L495.57,656.44 L495.35,657.02 L495.14,657.60 L494.98,658.18 L494.92,658.75 L495.00,659.30 L495.37,659.96 L496.01,660.61 L496.81,661.24 L497.68,661.87 L498.52,662.50 L499.24,663.12 L499.73,663.76 L499.90,664.40 L499.68,665.14 L499.12,665.88 L498.31,666.63 L497.32,667.39 L496.23,668.14 L495.11,668.89 L494.04,669.65 L493.10,670.40" fill="none" stroke="#e81c1c" stroke-width="1.5" stroke-linejoin="round" clip-path="url(#c1)"/>
<path d="M493.10,658.50 L493.73,659.24 L494.44,659.99 L495.20,660.73 L495.93,661.48 L496.60,662.22 L497.13,662.96 L497.48,663.69 L497.60,664.40 L497.45,665.07 L497.08,665.73 L496.55,666.38 L495.89,667.03 L495.17,667.67 L494.43,668.31 L493.72,668.95 L493.10,669.60" fill="none" stroke="#1c1cf0" stroke-width="1.5" stroke-linejoin="round" clip-path="url(#c1)"/>
<path d="M498.00,214.00 L499.01,215.49 L499.99,217.05 L500.96,218.63 L501.93,220.21 L502.93,221.72 L503.96,223.14 L505.05,224.41 L506.20,225.50 L507.18,226.25 L508.17,226.88 L509.18,227.42 L510.22,227.88 L511.31,228.30 L512.46,228.70 L513.69,229.09 L515.00,229.50 L517.43,230.10 L520.50,230.63 L523.92,231.11 L527.38,231.56 L530.58,231.99 L533.23,232.41 L535.04,232.84 L535.70,233.30 L534.11,233.86 L529.91,234.27 L523.89,234.61 L516.86,234.99 L509.61,235.48 L502.93,236.19 L497.63,237.20 L494.50,238.60 L493.91,239.25 L493.53,239.93 L493.31,240.64 L493.21,241.39 L493.18,242.19 L493.18,243.05 L493.17,243.99 L493.10,245.00 L492.80,247.35 L492.39,250.27 L491.97,253.56 L491.64,257.01 L491.49,260.42 L491.62,263.59 L492.13,266.32 L493.10,268.40 L494.47,269.57 L496.45,270.41 L498.78,271.00 L501.24,271.42 L503.57,271.75 L505.53,272.05 L506.89,272.41 L507.40,272.90 L506.94,273.35 L505.68,273.60 L503.84,273.77 L501.61,273.99 L499.22,274.38 L496.86,275.04 L494.75,276.11 L493.10,277.70 L489.66,288.19 L487.73,306.08 L487.05,328.86 L487.36,354.00 L488.38,379.00 L489.85,401.34 L491.52,418.51 L493.10,428.00 L493.38,428.70 L493.72,429.25 L494.09,429.69 L494.46,430.05 L494.79,430.35 L495.07,430.64 L495.25,430.95 L495.30,431.30 L495.21,431.64 L495.01,431.94 L494.71,432.22 L494.36,432.50 L494.00,432.80 L493.64,433.14 L493.33,433.53 L493.10,434.00 L492.69,435.20 L492.24,436.74 L491.83,438.52 L491.53,440.42 L491.42,442.36 L491.60,444.24 L492.13,445.95 L493.10,447.40 L499.63,450.15 L511.48,451.77 L526.75,452.52 L543.52,452.67 L559.90,452.47 L573.96,452.18 L583.79,452.07 L587.50,452.40 L585.22,452.88 L579.08,453.28 L570.17,453.65 L559.54,454.04 L548.28,454.50 L537.45,455.06 L528.14,455.78 L521.40,456.70 L519.15,457.18 L517.11,457.65 L515.25,458.15 L513.56,458.67 L512.01,459.24 L510.58,459.88 L509.25,460.59 L508.00,461.40 L507.06,462.10 L506.14,462.88 L505.26,463.70 L504.46,464.56 L503.78,465.44 L503.23,466.32 L502.86,467.18 L502.70,468.00 L502.77,468.69 L503.05,469.38 L503.48,470.07 L504.00,470.75 L504.57,471.43 L505.13,472.10 L505.62,472.75 L506.00,473.40 L506.25,473.91 L506.49,474.40 L506.72,474.87 L506.92,475.34 L507.10,475.82 L507.25,476.31 L507.35,476.84 L507.40,477.40 L507.36,478.22 L507.19,479.10 L506.93,480.02 L506.61,480.97 L506.27,481.96 L505.93,482.96 L505.63,483.98 L505.40,485.00 L505.21,486.17 L505.04,487.37 L504.90,488.60 L504.78,489.85 L504.68,491.12 L504.60,492.40 L504.54,493.70 L504.50,495.00 L504.44,496.50 L504.35,498.10 L504.27,499.76 L504.22,501.41 L504.24,503.02 L504.36,504.52 L504.60,505.86 L505.00,507.00 L505.45,507.65 L506.06,508.19 L506.78,508.66 L507.52,509.07 L508.22,509.47 L508.81,509.87 L509.23,510.30 L509.40,510.80 L509.18,511.45 L508.54,512.14 L507.63,512.87 L506.60,513.61 L505.57,514.35 L504.71,515.07 L504.13,515.76 L504.00,516.40 L504.65,517.15 L506.09,517.77 L508.07,518.31 L510.33,518.83 L512.65,519.38 L514.76,520.00 L516.43,520.76 L517.40,521.70 L517.65,522.54 L517.61,523.45 L517.36,524.42 L516.96,525.45 L516.50,526.52 L516.03,527.64 L515.64,528.80 L515.40,530.00 L515.16,531.78 L514.88,533.77 L514.60,535.90 L514.40,538.08 L514.32,540.23 L514.42,542.27 L514.76,544.12 L515.40,545.70 L516.41,546.88 L517.87,547.88 L519.61,548.73 L521.46,549.48 L523.26,550.17 L524.84,550.86 L526.04,551.59 L526.70,552.40 L526.77,552.89 L526.66,553.36 L526.43,553.84 L526.12,554.32 L525.81,554.81 L525.55,555.32 L525.39,555.85 L525.40,556.40 L525.73,557.45 L526.33,558.63 L527.15,559.89 L528.16,561.18 L529.32,562.46 L530.61,563.69 L531.98,564.82 L533.40,565.80 L535.84,566.91 L539.04,567.82 L542.66,568.58 L546.37,569.22 L549.84,569.79 L552.72,570.31 L554.69,570.84 L555.40,571.40 L554.54,571.94 L552.29,572.38 L549.07,572.77 L545.28,573.15 L541.36,573.55 L537.71,574.02 L534.75,574.59 L532.90,575.30 L532.55,575.61 L532.34,575.94 L532.21,576.29 L532.12,576.64 L532.03,577.00 L531.89,577.35 L531.66,577.69 L531.30,578.00 L528.86,578.86 L524.78,579.56 L519.68,580.14 L514.15,580.64 L508.80,581.12 L504.22,581.60 L501.02,582.15 L499.80,582.80 L500.94,583.49 L504.00,584.22 L508.34,584.98 L513.32,585.77 L518.32,586.57 L522.68,587.38 L525.79,588.19 L527.00,589.00 L526.64,589.53 L525.62,590.02 L524.09,590.51 L522.22,591.01 L520.18,591.53 L518.13,592.11 L516.25,592.76 L514.70,593.50 L513.45,594.28 L512.21,595.13 L510.99,596.03 L509.82,596.99 L508.73,597.97 L507.75,598.98 L506.90,599.99 L506.20,601.00 L505.75,601.78 L505.35,602.59 L505.00,603.41 L504.72,604.24 L504.53,605.06 L504.43,605.87 L504.45,606.65 L504.60,607.40 L505.06,608.22 L505.84,609.00 L506.85,609.76 L507.95,610.49 L509.03,611.21 L509.98,611.91 L510.68,612.61 L511.00,613.30 L510.98,613.78 L510.81,614.25 L510.52,614.72 L510.16,615.18 L509.77,615.63 L509.38,616.09 L509.05,616.54 L508.80,617.00 L508.64,617.40 L508.48,617.79 L508.34,618.18 L508.22,618.56 L508.12,618.96 L508.05,619.36 L508.01,619.77 L508.00,620.20 L508.08,620.76 L508.25,621.36 L508.49,621.98 L508.75,622.61 L509.02,623.24 L509.26,623.86 L509.43,624.45 L509.50,625.00 L509.47,625.40 L509.37,625.76 L509.23,626.10 L509.07,626.43 L508.91,626.78 L508.78,627.14 L508.71,627.55 L508.70,628.00 L508.99,629.08 L509.64,630.38 L510.50,631.84 L511.46,633.37 L512.37,634.91 L513.12,636.40 L513.57,637.75 L513.60,638.90 L513.29,639.65 L512.77,640.31 L512.08,640.90 L511.28,641.45 L510.42,641.98 L509.56,642.51 L508.73,643.08 L508.00,643.70 L507.32,644.39 L506.64,645.10 L505.98,645.83 L505.32,646.57 L504.67,647.33 L504.04,648.08 L503.41,648.84 L502.80,649.60 L502.19,650.34 L501.55,651.09 L500.91,651.85 L500.29,652.60 L499.70,653.36 L499.18,654.12 L498.74,654.86 L498.40,655.60 L498.20,656.16 L498.04,656.71 L497.91,657.26 L497.83,657.80 L497.79,658.34 L497.81,658.89 L497.87,659.44 L498.00,660.00 L498.36,660.74 L498.97,661.51 L499.73,662.28 L500.54,663.06 L501.31,663.83 L501.94,664.58 L502.34,665.31 L502.40,666.00 L502.00,666.78 L501.20,667.51 L500.08,668.20 L498.75,668.87 L497.29,669.52 L495.80,670.17 L494.37,670.83 L493.10,671.50" fill="none" stroke="#22e622" stroke-width="1.5" stroke-linejoin="round" clip-path="url(#c1)"/>
<path d="M493.10,226.00 L493.25,226.75 L493.43,227.50 L493.61,228.25 L493.79,229.00 L493.95,229.75 L494.08,230.50 L494.17,231.25 L494.20,232.00 L494.16,232.72 L494.06,233.39 L493.92,234.04 L493.74,234.71 L493.56,235.41 L493.38,236.17 L493.22,237.03 L493.10,238.00 L492.88,240.83 L492.66,244.49 L492.47,248.70 L492.35,253.17 L492.32,257.63 L492.41,261.77 L492.66,265.33 L493.10,268.00 L493.40,268.86 L493.79,269.59 L494.23,270.23 L494.69,270.81 L495.11,271.34 L495.47,271.86 L495.71,272.41 L495.80,273.00 L495.72,273.57 L495.49,274.06 L495.15,274.52 L494.74,275.00 L494.29,275.53 L493.84,276.18 L493.43,276.99 L493.10,278.00 L491.44,289.29 L489.75,308.97 L488.27,334.26 L487.27,362.38 L487.00,390.53 L487.71,415.94 L489.66,435.83 L493.10,447.40 L494.54,448.95 L496.34,450.02 L498.34,450.73 L500.37,451.19 L502.26,451.50 L503.84,451.78 L504.94,452.15 L505.40,452.70 L505.26,453.17 L504.79,453.60 L504.08,454.03 L503.22,454.47 L502.29,454.94 L501.39,455.45 L500.59,456.03 L500.00,456.70 L499.50,457.65 L499.09,458.74 L498.76,459.95 L498.50,461.22 L498.31,462.50 L498.17,463.76 L498.07,464.94 L498.00,466.00 L497.94,466.71 L497.85,467.39 L497.76,468.06 L497.72,468.70 L497.74,469.32 L497.85,469.90 L498.10,470.47 L498.50,471.00 L500.91,472.15 L505.14,472.98 L510.54,473.56 L516.44,474.00 L522.20,474.37 L527.15,474.77 L530.63,475.28 L532.00,476.00 L531.56,476.58 L530.28,477.17 L528.38,477.79 L526.08,478.43 L523.61,479.10 L521.19,479.82 L519.04,480.58 L517.40,481.40 L516.52,481.99 L515.72,482.57 L514.99,483.16 L514.32,483.78 L513.70,484.44 L513.11,485.15 L512.55,485.94 L512.00,486.80 L511.29,488.15 L510.63,489.71 L510.02,491.42 L509.47,493.22 L508.99,495.04 L508.58,496.82 L508.25,498.49 L508.00,500.00 L507.84,500.99 L507.66,501.95 L507.50,502.88 L507.39,503.79 L507.36,504.65 L507.43,505.48 L507.63,506.26 L508.00,507.00 L509.00,507.91 L510.60,508.71 L512.57,509.42 L514.67,510.05 L516.69,510.65 L518.41,511.22 L519.58,511.80 L520.00,512.40 L519.22,513.13 L517.23,513.85 L514.45,514.56 L511.27,515.25 L508.10,515.91 L505.35,516.55 L503.41,517.14 L502.70,517.70 L503.52,518.18 L505.61,518.55 L508.57,518.87 L511.96,519.16 L515.36,519.48 L518.35,519.86 L520.51,520.35 L521.40,521.00 L521.05,521.68 L519.90,522.41 L518.17,523.20 L516.06,524.05 L513.79,524.99 L511.54,526.02 L509.55,527.15 L508.00,528.40 L506.82,529.77 L505.73,531.27 L504.75,532.89 L503.88,534.58 L503.10,536.34 L502.43,538.13 L501.86,539.93 L501.40,541.70 L501.01,543.53 L500.69,545.50 L500.45,547.54 L500.32,549.57 L500.32,551.54 L500.49,553.38 L500.84,555.02 L501.40,556.40 L502.09,557.23 L503.06,557.89 L504.20,558.43 L505.40,558.89 L506.56,559.33 L507.56,559.79 L508.31,560.33 L508.70,561.00 L508.65,561.81 L508.22,562.71 L507.52,563.67 L506.68,564.66 L505.79,565.67 L504.98,566.64 L504.34,567.56 L504.00,568.40 L503.96,568.89 L504.03,569.36 L504.17,569.82 L504.34,570.26 L504.50,570.69 L504.62,571.12 L504.67,571.56 L504.60,572.00 L504.29,572.61 L503.77,573.21 L503.11,573.81 L502.37,574.41 L501.61,575.02 L500.89,575.65 L500.27,576.31 L499.80,577.00 L499.50,577.67 L499.28,578.34 L499.12,579.02 L499.01,579.73 L498.93,580.47 L498.86,581.25 L498.79,582.09 L498.70,583.00 L498.50,584.73 L498.27,586.71 L498.04,588.87 L497.85,591.14 L497.71,593.46 L497.68,595.75 L497.76,597.96 L498.00,600.00 L498.46,601.74 L499.18,603.49 L500.06,605.21 L500.98,606.88 L501.84,608.49 L502.54,610.01 L502.96,611.42 L503.00,612.70 L502.73,613.50 L502.24,614.20 L501.60,614.83 L500.87,615.43 L500.15,616.01 L499.50,616.62 L498.99,617.27 L498.70,618.00 L498.63,618.88 L498.75,619.81 L499.02,620.78 L499.38,621.78 L499.80,622.81 L500.24,623.84 L500.66,624.88 L501.00,625.90 L501.30,627.00 L501.59,628.12 L501.88,629.25 L502.16,630.39 L502.47,631.53 L502.81,632.65 L503.18,633.74 L503.60,634.80 L504.14,635.80 L504.84,636.79 L505.63,637.77 L506.42,638.72 L507.13,639.65 L507.68,640.55 L508.00,641.40 L508.00,642.20 L507.53,642.97 L506.60,643.67 L505.37,644.32 L503.99,644.93 L502.60,645.52 L501.35,646.11 L500.40,646.74 L499.90,647.40 L499.82,647.85 L499.84,648.30 L499.96,648.75 L500.16,649.21 L500.41,649.67 L500.70,650.14 L501.00,650.62 L501.30,651.10 L501.83,651.80 L502.56,652.53 L503.39,653.28 L504.26,654.03 L505.08,654.79 L505.78,655.54 L506.28,656.28 L506.50,657.00 L506.41,657.58 L506.10,658.14 L505.64,658.70 L505.10,659.26 L504.56,659.81 L504.08,660.37 L503.74,660.93 L503.60,661.50 L503.74,662.10 L504.11,662.71 L504.63,663.34 L505.22,663.96 L505.79,664.58 L506.25,665.18 L506.51,665.76 L506.50,666.30 L505.89,667.10 L504.71,667.82 L503.10,668.47 L501.19,669.09 L499.10,669.68 L496.97,670.27 L494.93,670.87 L493.10,671.50" fill="none" stroke="#b890ec" stroke-width="1.5" stroke-linejoin="round" clip-path="url(#c1)"/>
<path d="M623.40,226.00 L623.34,231.53 L623.20,237.47 L623.02,243.57 L622.86,249.58 L622.77,255.28 L622.80,260.41 L622.99,264.73 L623.40,268.00 L623.64,268.88 L623.95,269.63 L624.29,270.27 L624.64,270.83 L624.97,271.36 L625.24,271.88 L625.43,272.41 L625.50,273.00 L625.43,273.59 L625.23,274.14 L624.95,274.67 L624.61,275.20 L624.26,275.78 L623.91,276.42 L623.62,277.15 L623.40,278.00 L623.14,280.74 L623.12,284.31 L623.28,288.48 L623.57,293.01 L623.93,297.66 L624.29,302.20 L624.60,306.40 L624.80,310.00 L624.83,312.21 L624.76,314.41 L624.66,316.55 L624.57,318.60 L624.54,320.48 L624.62,322.16 L624.86,323.58 L625.30,324.70 L625.60,325.13 L625.94,325.47 L626.30,325.74 L626.70,325.95 L627.14,326.14 L627.62,326.31 L628.13,326.49 L628.70,326.70 L630.11,327.12 L632.01,327.52 L634.19,327.90 L636.44,328.27 L638.56,328.63 L640.33,329.01 L641.55,329.39 L642.00,329.80 L641.36,330.22 L639.66,330.54 L637.21,330.84 L634.32,331.17 L631.31,331.59 L628.49,332.16 L626.19,332.95 L624.70,334.00 L624.01,335.09 L623.46,336.40 L623.08,337.86 L622.90,339.41 L622.93,340.96 L623.19,342.46 L623.71,343.83 L624.50,345.00 L628.66,347.01 L636.04,348.31 L645.48,349.07 L655.81,349.45 L665.87,349.60 L674.50,349.69 L680.53,349.87 L682.80,350.30 L681.49,350.78 L677.97,351.24 L672.84,351.69 L666.73,352.13 L660.25,352.57 L654.01,353.03 L648.62,353.50 L644.70,354.00 L643.38,354.22 L642.17,354.42 L641.07,354.61 L640.06,354.81 L639.13,355.04 L638.26,355.30 L637.46,355.61 L636.70,356.00 L636.16,356.33 L635.67,356.69 L635.22,357.07 L634.81,357.48 L634.42,357.92 L634.06,358.38 L633.72,358.87 L633.40,359.40 L633.04,360.08 L632.72,360.82 L632.44,361.60 L632.18,362.42 L631.96,363.27 L631.76,364.16 L631.57,365.07 L631.40,366.00 L631.21,367.21 L631.07,368.48 L630.97,369.80 L630.89,371.16 L630.84,372.55 L630.79,373.96 L630.75,375.38 L630.70,376.80 L630.64,378.37 L630.60,379.95 L630.56,381.55 L630.54,383.17 L630.52,384.82 L630.51,386.50 L630.50,388.23 L630.50,390.00 L630.48,392.26 L630.42,394.66 L630.36,397.16 L630.32,399.70 L630.32,402.21 L630.38,404.64 L630.53,406.92 L630.80,409.00 L631.05,410.40 L631.34,411.75 L631.65,413.03 L632.01,414.27 L632.42,415.45 L632.88,416.58 L633.40,417.66 L634.00,418.70 L634.63,419.63 L635.31,420.52 L636.05,421.37 L636.84,422.17 L637.68,422.94 L638.55,423.66 L639.46,424.35 L640.40,425.00 L641.46,425.65 L642.59,426.25 L643.77,426.80 L644.99,427.30 L646.24,427.77 L647.50,428.21 L648.76,428.61 L650.00,429.00 L651.36,429.34 L652.94,429.63 L654.60,429.87 L656.23,430.09 L657.70,430.30 L658.90,430.51 L659.71,430.74 L660.00,431.00 L658.75,431.29 L655.42,431.26 L650.59,431.11 L644.86,431.06 L638.79,431.31 L632.99,432.08 L628.03,433.57 L624.50,436.00 L621.59,441.67 L619.97,449.89 L619.38,459.80 L619.59,470.55 L620.34,481.30 L621.39,491.19 L622.49,499.37 L623.40,505.00 L623.65,506.19 L623.95,507.18 L624.26,508.01 L624.60,508.74 L624.95,509.43 L625.31,510.11 L625.66,510.85 L626.00,511.70 L626.47,512.84 L627.05,514.06 L627.66,515.32 L628.26,516.61 L628.79,517.88 L629.18,519.13 L629.37,520.31 L629.30,521.40 L628.96,522.26 L628.37,522.95 L627.60,523.56 L626.71,524.15 L625.79,524.81 L624.88,525.60 L624.06,526.61 L623.40,527.90 L621.92,534.85 L621.07,545.48 L620.75,558.58 L620.85,572.99 L621.26,587.52 L621.90,600.99 L622.64,612.21 L623.40,620.00 L623.68,621.74 L624.01,623.18 L624.38,624.42 L624.77,625.52 L625.14,626.55 L625.49,627.59 L625.78,628.72 L626.00,630.00 L626.19,631.74 L626.32,633.60 L626.40,635.53 L626.43,637.50 L626.40,639.47 L626.32,641.40 L626.19,643.26 L626.00,645.00 L625.77,646.35 L625.46,647.64 L625.08,648.89 L624.69,650.11 L624.29,651.31 L623.92,652.52 L623.62,653.74 L623.40,655.00 L623.22,656.37 L623.03,657.85 L622.86,659.37 L622.74,660.88 L622.70,662.33 L622.78,663.65 L623.00,664.79 L623.40,665.70 L623.80,666.16 L624.31,666.51 L624.89,666.78 L625.52,666.98 L626.17,667.16 L626.82,667.34 L627.44,667.54 L628.00,667.80 L628.48,668.08 L628.96,668.36 L629.43,668.65 L629.89,668.94 L630.33,669.25 L630.75,669.56 L631.14,669.88 L631.50,670.20 L631.76,670.47 L632.00,670.75 L632.21,671.04 L632.42,671.33 L632.61,671.62 L632.80,671.92 L632.99,672.21 L633.20,672.50" fill="none" stroke="#111111" stroke-width="1.5" stroke-linejoin="round" clip-path="url(#c2)"/>
<path d="M623.40,401.00 L627.93,401.31 L632.40,401.61 L636.85,401.91 L641.31,402.21 L645.81,402.51 L650.41,402.82 L655.12,403.15 L660.00,403.50 L666.74,403.94 L674.72,404.41 L683.28,404.89 L691.76,405.39 L699.50,405.90 L705.84,406.41 L710.12,406.91 L711.70,407.40 L710.12,407.89 L705.84,408.38 L699.49,408.88 L691.76,409.38 L683.28,409.86 L674.72,410.33 L666.74,410.78 L660.00,411.20 L655.12,411.53 L650.41,411.83 L645.81,412.12 L641.31,412.40 L636.85,412.67 L632.40,412.94 L627.93,413.22 L623.40,413.50" fill="none" stroke="#e81c1c" stroke-width="1.5" stroke-linejoin="round" clip-path="url(#c2)"/>
<path d="M623.40,581.00 L623.73,581.50 L624.11,582.00 L624.51,582.50 L624.90,583.00 L625.25,583.50 L625.54,584.00 L625.73,584.50 L625.80,585.00 L625.73,585.50 L625.54,586.00 L625.25,586.50 L624.90,587.00 L624.51,587.50 L624.11,588.00 L623.73,588.50 L623.40,589.00" fill="none" stroke="#e81c1c" stroke-width="1.5" stroke-linejoin="round" clip-path="url(#c2)"/>
<path d="M623.40,400.20 L630.48,400.51 L637.57,400.82 L644.66,401.13 L651.75,401.45 L658.83,401.76 L665.91,402.05 L672.96,402.34 L680.00,402.60 L687.00,402.84 L694.09,403.05 L701.23,403.25 L708.32,403.44 L715.32,403.62 L722.14,403.81 L728.72,404.00 L735.00,404.20 L740.11,404.27 L745.55,404.19 L751.03,404.06 L756.31,403.96 L761.10,403.98 L765.16,404.20 L768.22,404.71 L770.00,405.60 L770.30,405.99 L770.51,406.43 L770.64,406.91 L770.68,407.40 L770.64,407.89 L770.51,408.37 L770.30,408.81 L770.00,409.20 L768.22,410.09 L765.16,410.60 L761.10,410.82 L756.31,410.83 L751.03,410.73 L745.55,410.60 L740.11,410.53 L735.00,410.60 L728.72,410.82 L722.14,411.03 L715.32,411.25 L708.32,411.47 L701.23,411.68 L694.10,411.89 L687.00,412.10 L680.00,412.30 L672.96,412.50 L665.91,412.69 L658.83,412.88 L651.75,413.06 L644.66,413.25 L637.57,413.43 L630.48,413.61 L623.40,413.80" fill="none" stroke="#1c1cf0" stroke-width="1.5" stroke-linejoin="round" clip-path="url(#c2)"/>
<path d="M623.40,577.40 L624.47,578.55 L625.72,579.75 L627.04,580.98 L628.33,582.19 L629.47,583.36 L630.37,584.46 L630.91,585.45 L631.00,586.30 L630.66,586.90 L630.00,587.39 L629.09,587.82 L628.00,588.19 L626.81,588.53 L625.60,588.86 L624.44,589.21 L623.40,589.60" fill="none" stroke="#1c1cf0" stroke-width="1.5" stroke-linejoin="round" clip-path="url(#c2)"/>
<path d="M623.40,226.00 L623.23,230.81 L622.82,235.99 L622.31,241.34 L621.84,246.60 L621.58,251.56 L621.65,255.98 L622.21,259.64 L623.40,262.30 L624.43,263.28 L625.73,263.96 L627.20,264.40 L628.77,264.68 L630.34,264.86 L631.83,265.00 L633.14,265.20 L634.20,265.50 L634.68,265.70 L635.16,265.89 L635.62,266.08 L636.03,266.26 L636.40,266.45 L636.69,266.65 L636.90,266.87 L637.00,267.10 L636.96,267.33 L636.77,267.57 L636.50,267.83 L636.18,268.10 L635.86,268.37 L635.59,268.63 L635.42,268.87 L635.40,269.10 L635.69,269.43 L636.30,269.73 L637.15,269.99 L638.16,270.23 L639.24,270.46 L640.33,270.69 L641.34,270.93 L642.20,271.20 L642.88,271.44 L643.62,271.69 L644.38,271.95 L645.10,272.21 L645.75,272.47 L646.26,272.72 L646.60,272.97 L646.70,273.20 L646.25,273.52 L645.12,273.79 L643.49,274.02 L641.54,274.24 L639.45,274.49 L637.41,274.78 L635.60,275.14 L634.20,275.60 L633.47,275.95 L632.80,276.32 L632.18,276.71 L631.61,277.13 L631.08,277.58 L630.59,278.07 L630.13,278.61 L629.70,279.20 L629.23,280.00 L628.84,280.89 L628.51,281.86 L628.23,282.88 L627.98,283.95 L627.75,285.05 L627.53,286.17 L627.30,287.30 L627.02,288.68 L626.77,290.11 L626.54,291.58 L626.33,293.09 L626.14,294.63 L625.97,296.20 L625.83,297.79 L625.70,299.40 L625.60,301.25 L625.55,303.16 L625.54,305.11 L625.54,307.09 L625.56,309.08 L625.57,311.07 L625.55,313.05 L625.50,315.00 L625.41,316.89 L625.28,318.76 L625.14,320.63 L624.99,322.49 L624.84,324.35 L624.70,326.22 L624.58,328.10 L624.50,330.00 L624.37,332.06 L624.14,334.25 L623.88,336.50 L623.66,338.73 L623.55,340.87 L623.61,342.85 L623.90,344.58 L624.50,346.00 L625.30,346.83 L626.43,347.48 L627.76,347.99 L629.16,348.41 L630.49,348.78 L631.61,349.14 L632.39,349.53 L632.70,350.00 L632.48,350.47 L631.87,350.91 L630.96,351.35 L629.88,351.80 L628.73,352.28 L627.62,352.79 L626.68,353.36 L626.00,354.00 L625.61,354.59 L625.31,355.18 L625.10,355.79 L624.94,356.44 L624.83,357.16 L624.73,357.98 L624.62,358.92 L624.50,360.00 L624.00,365.29 L623.49,373.04 L623.04,382.44 L622.73,392.64 L622.65,402.83 L622.86,412.18 L623.45,419.84 L624.50,425.00 L625.04,426.11 L625.74,427.02 L626.52,427.77 L627.32,428.40 L628.06,428.97 L628.66,429.51 L629.07,430.08 L629.20,430.70 L629.03,431.28 L628.61,431.76 L628.00,432.19 L627.28,432.64 L626.51,433.14 L625.74,433.75 L625.05,434.52 L624.50,435.50 L623.18,440.90 L622.18,449.33 L621.52,459.75 L621.19,471.12 L621.20,482.40 L621.57,492.55 L622.30,500.53 L623.40,505.30 L623.73,505.91 L624.08,506.37 L624.46,506.72 L624.85,506.99 L625.27,507.22 L625.70,507.44 L626.14,507.69 L626.60,508.00 L627.21,508.44 L627.89,508.87 L628.60,509.31 L629.33,509.76 L630.05,510.22 L630.75,510.69 L631.41,511.18 L632.00,511.70 L632.45,512.20 L632.82,512.73 L633.15,513.28 L633.46,513.84 L633.79,514.41 L634.16,514.96 L634.63,515.50 L635.20,516.00 L636.46,516.79 L638.02,517.54 L639.81,518.26 L641.74,518.93 L643.74,519.58 L645.71,520.21 L647.60,520.81 L649.30,521.40 L650.69,521.87 L652.23,522.32 L653.80,522.75 L655.32,523.17 L656.66,523.58 L657.74,523.97 L658.46,524.34 L658.70,524.70 L658.30,525.09 L657.24,525.45 L655.67,525.78 L653.73,526.09 L651.55,526.38 L649.28,526.68 L647.05,526.98 L645.00,527.30 L642.43,527.53 L639.60,527.51 L636.60,527.38 L633.57,527.31 L630.62,527.44 L627.86,527.93 L625.42,528.93 L623.40,530.60 L620.74,536.50 L619.27,545.71 L618.77,557.13 L619.03,569.63 L619.84,582.08 L620.98,593.38 L622.23,602.39 L623.40,608.00 L623.71,608.79 L624.10,609.43 L624.53,609.94 L624.96,610.38 L625.36,610.77 L625.69,611.14 L625.92,611.54 L626.00,612.00 L625.92,612.46 L625.69,612.87 L625.35,613.26 L624.95,613.66 L624.51,614.11 L624.08,614.62 L623.70,615.24 L623.40,616.00 L622.67,619.90 L622.09,625.78 L621.69,632.97 L621.49,640.81 L621.54,648.60 L621.85,655.68 L622.46,661.37 L623.40,665.00 L623.77,665.64 L624.19,666.13 L624.65,666.51 L625.13,666.81 L625.61,667.07 L626.10,667.33 L626.56,667.63 L627.00,668.00 L627.43,668.46 L627.84,668.94 L628.24,669.44 L628.64,669.94 L629.03,670.46 L629.41,670.98 L629.80,671.49 L630.20,672.00" fill="none" stroke="#22e622" stroke-width="1.5" stroke-linejoin="round" clip-path="url(#c2)"/>
<path d="M623.40,226.00 L623.33,231.00 L623.15,236.39 L622.93,241.92 L622.73,247.38 L622.62,252.54 L622.65,257.16 L622.89,261.03 L623.40,263.90 L623.66,264.65 L623.96,265.26 L624.29,265.77 L624.63,266.22 L624.99,266.63 L625.34,267.05 L625.68,267.49 L626.00,268.00 L626.36,268.61 L626.75,269.23 L627.14,269.86 L627.53,270.50 L627.88,271.15 L628.17,271.82 L628.39,272.50 L628.50,273.20 L628.48,274.00 L628.32,274.85 L628.05,275.71 L627.72,276.59 L627.36,277.47 L627.01,278.34 L626.71,279.19 L626.50,280.00 L626.38,280.64 L626.28,281.24 L626.20,281.81 L626.13,282.38 L626.08,282.97 L626.04,283.59 L626.02,284.26 L626.00,285.00 L626.01,286.41 L626.07,287.98 L626.17,289.69 L626.30,291.50 L626.45,293.37 L626.61,295.27 L626.76,297.16 L626.90,299.00 L627.04,301.00 L627.19,303.11 L627.34,305.28 L627.50,307.44 L627.66,309.55 L627.81,311.54 L627.96,313.38 L628.10,315.00 L628.16,315.86 L628.18,316.66 L628.19,317.40 L628.21,318.10 L628.24,318.77 L628.33,319.42 L628.47,320.06 L628.70,320.70 L628.99,321.36 L629.31,322.00 L629.67,322.63 L630.09,323.23 L630.59,323.82 L631.18,324.37 L631.88,324.90 L632.70,325.40 L635.86,326.42 L640.63,327.20 L646.39,327.79 L652.50,328.24 L658.35,328.62 L663.30,328.97 L666.72,329.34 L668.00,329.80 L666.38,330.28 L662.06,330.64 L655.88,330.94 L648.65,331.26 L641.17,331.66 L634.28,332.20 L628.78,332.96 L625.50,334.00 L624.98,334.38 L624.57,334.76 L624.25,335.16 L624.01,335.58 L623.83,336.02 L623.68,336.48 L623.54,336.98 L623.40,337.50 L623.20,338.28 L623.00,339.16 L622.84,340.11 L622.74,341.09 L622.72,342.07 L622.80,343.02 L623.02,343.91 L623.40,344.70 L624.35,345.59 L625.85,346.37 L627.68,347.06 L629.65,347.69 L631.54,348.27 L633.15,348.83 L634.28,349.40 L634.70,350.00 L634.42,350.50 L633.67,350.95 L632.58,351.38 L631.28,351.81 L629.90,352.26 L628.59,352.76 L627.48,353.33 L626.70,354.00 L626.29,354.60 L626.00,355.22 L625.79,355.86 L625.65,356.55 L625.55,357.30 L625.48,358.11 L625.40,359.01 L625.30,360.00 L625.10,362.65 L625.02,365.88 L625.02,369.56 L625.08,373.56 L625.17,377.74 L625.26,381.96 L625.31,386.09 L625.30,390.00 L625.23,393.69 L625.14,397.30 L625.03,400.88 L624.91,404.47 L624.78,408.13 L624.67,411.90 L624.57,415.84 L624.50,420.00 L624.31,426.35 L623.98,433.72 L623.59,441.64 L623.26,449.63 L623.08,457.24 L623.16,463.98 L623.60,469.39 L624.50,473.00 L624.93,473.68 L625.46,474.20 L626.05,474.60 L626.65,474.92 L627.22,475.20 L627.70,475.48 L628.04,475.80 L628.20,476.20 L628.13,476.66 L627.86,477.10 L627.44,477.54 L626.93,478.00 L626.37,478.51 L625.83,479.08 L625.35,479.74 L625.00,480.50 L624.44,482.78 L623.96,485.88 L623.61,489.51 L623.41,493.37 L623.42,497.18 L623.66,500.63 L624.17,503.43 L625.00,505.30 L625.53,505.84 L626.13,506.20 L626.80,506.42 L627.52,506.54 L628.31,506.61 L629.15,506.66 L630.05,506.74 L631.00,506.90 L633.24,507.26 L636.18,507.61 L639.51,507.96 L642.94,508.31 L646.14,508.69 L648.83,509.10 L650.68,509.57 L651.40,510.10 L650.83,510.61 L649.26,511.15 L647.00,511.72 L644.39,512.33 L641.75,512.96 L639.40,513.62 L637.68,514.30 L636.90,515.00 L636.88,515.39 L637.01,515.80 L637.26,516.22 L637.62,516.65 L638.05,517.07 L638.54,517.47 L639.07,517.85 L639.60,518.20 L640.76,518.69 L642.35,519.08 L644.20,519.40 L646.12,519.69 L647.93,519.95 L649.45,520.22 L650.50,520.53 L650.90,520.90 L650.38,521.41 L648.96,521.96 L646.86,522.54 L644.32,523.14 L641.55,523.76 L638.79,524.40 L636.26,525.04 L634.20,525.70 L632.87,526.13 L631.57,526.44 L630.31,526.72 L629.11,527.03 L627.96,527.45 L626.89,528.03 L625.90,528.86 L625.00,530.00 L623.05,535.49 L621.78,544.09 L621.11,554.82 L620.97,566.65 L621.29,578.59 L622.00,589.63 L623.03,598.77 L624.30,605.00 L624.91,606.44 L625.72,607.68 L626.64,608.73 L627.57,609.65 L628.43,610.46 L629.11,611.20 L629.53,611.90 L629.60,612.60 L629.34,613.10 L628.83,613.45 L628.14,613.73 L627.34,613.98 L626.49,614.27 L625.65,614.67 L624.90,615.22 L624.30,616.00 L623.12,619.71 L622.51,625.17 L622.33,631.97 L622.45,639.71 L622.76,647.98 L623.10,656.39 L623.36,664.53 L623.40,672.00" fill="none" stroke="#b890ec" stroke-width="1.5" stroke-linejoin="round" clip-path="url(#c2)"/>
<rect x="363.0" y="225.5" width="112.0" height="447.5" fill="none" stroke="#161616" stroke-width="1.65"/>
<rect x="492.9" y="225.5" width="112.3" height="447.5" fill="none" stroke="#161616" stroke-width="1.65"/>
<rect x="623.3" y="225.5" width="112.7" height="447.5" fill="none" stroke="#161616" stroke-width="1.65"/>
<line x1="363.0" y1="485.3" x2="475.0" y2="485.3" stroke="#9a9a9a" stroke-width="1.3" stroke-dasharray="4.2,2.6"/>
<line x1="492.9" y1="485.3" x2="605.2" y2="485.3" stroke="#9a9a9a" stroke-width="1.3" stroke-dasharray="4.2,2.6"/>
<line x1="623.3" y1="485.3" x2="736.0" y2="485.3" stroke="#9a9a9a" stroke-width="1.3" stroke-dasharray="4.2,2.6"/>
</svg>
</body></html>
